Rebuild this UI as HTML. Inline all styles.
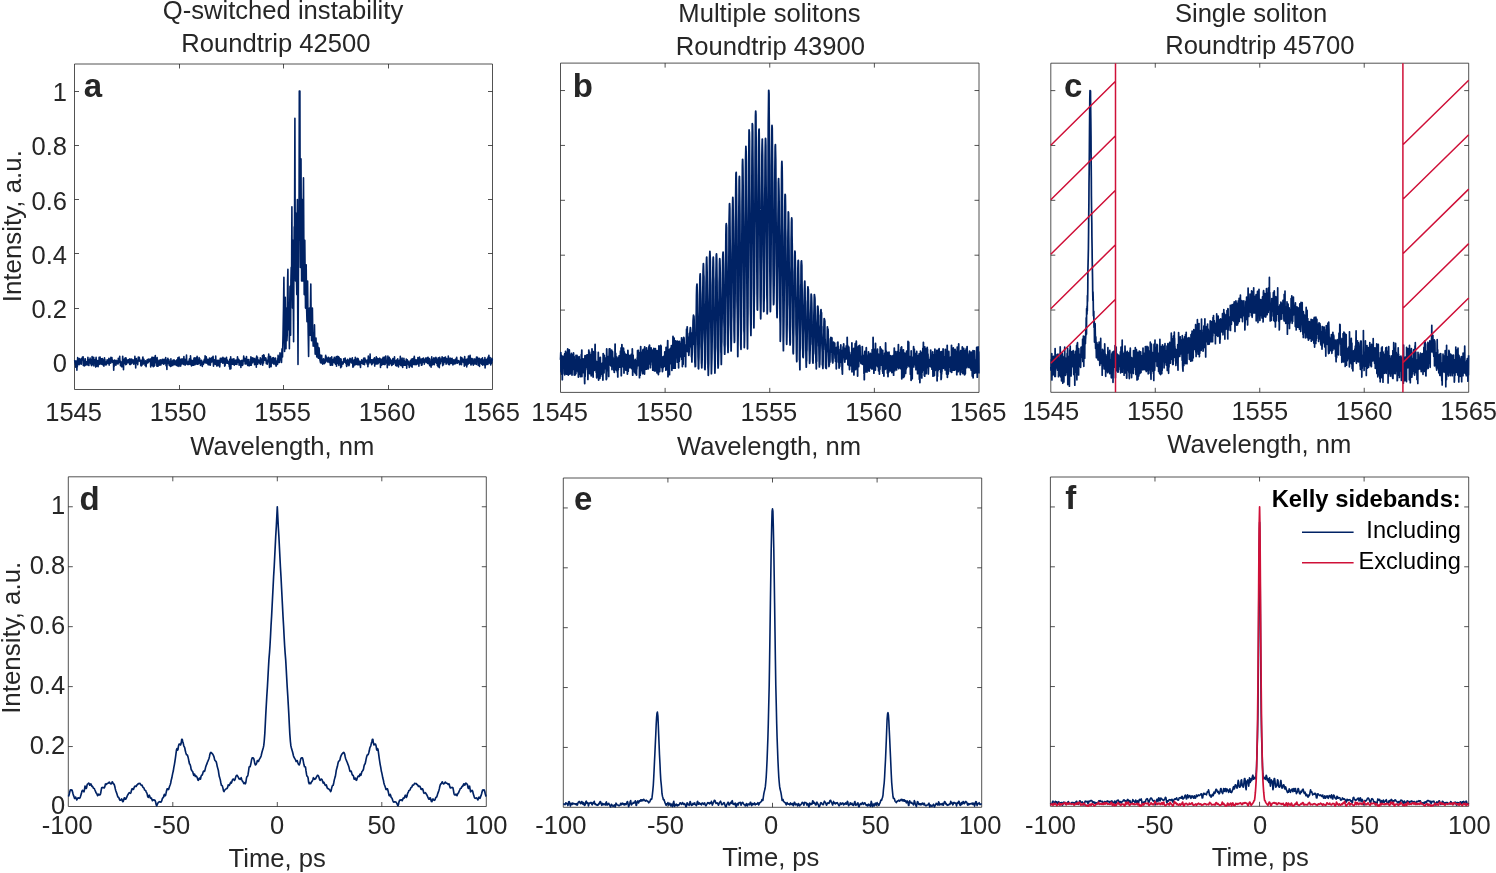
<!DOCTYPE html>
<html lang="en"><head><meta charset="utf-8"><title>Figure</title>
<style>
html,body{margin:0;padding:0;background:#fff;}
body{width:1496px;height:873px;overflow:hidden;}
svg{display:block;font-family:"Liberation Sans",sans-serif;}
</style></head><body>
<svg width="1496" height="873" viewBox="0 0 1496 873">
<rect width="1496" height="873" fill="#ffffff"/>
<path d="M74.5 64.0H492.5V389.5H74.5ZM179.5 389.5v-4.5M179.5 64.0v4.5M283.5 389.5v-4.5M283.5 64.0v4.5M388.5 389.5v-4.5M388.5 64.0v4.5M74.5 362.5h4.5M492.5 362.5h-4.5M74.5 308.5h4.5M492.5 308.5h-4.5M74.5 253.5h4.5M492.5 253.5h-4.5M74.5 199.5h4.5M492.5 199.5h-4.5M74.5 145.5h4.5M492.5 145.5h-4.5M74.5 91.5h4.5M492.5 91.5h-4.5" fill="none" stroke="#262626" stroke-width="0.8"/>
<path d="M560.5 63.1H979.0V392.4H560.5ZM665.12 392.4v-4.5M665.12 63.1v4.5M769.75 392.4v-4.5M769.75 63.1v4.5M874.38 392.4v-4.5M874.38 63.1v4.5M560.5 364.96h4.5M979.0 364.96h-4.5M560.5 310.08h4.5M979.0 310.08h-4.5M560.5 255.19h4.5M979.0 255.19h-4.5M560.5 200.31h4.5M979.0 200.31h-4.5M560.5 145.43h4.5M979.0 145.43h-4.5M560.5 90.54h4.5M979.0 90.54h-4.5" fill="none" stroke="#262626" stroke-width="0.8"/>
<path d="M1050.8 63.2H1468.7V392.3H1050.8ZM1155.28 392.3v-4.5M1155.28 63.2v4.5M1259.75 392.3v-4.5M1259.75 63.2v4.5M1364.22 392.3v-4.5M1364.22 63.2v4.5M1050.8 364.88h4.5M1468.7 364.88h-4.5M1050.8 310.02h4.5M1468.7 310.02h-4.5M1050.8 255.18h4.5M1468.7 255.18h-4.5M1050.8 200.32h4.5M1468.7 200.32h-4.5M1050.8 145.48h4.5M1468.7 145.48h-4.5M1050.8 90.62h4.5M1468.7 90.62h-4.5" fill="none" stroke="#262626" stroke-width="0.8"/>
<path d="M68.3 476.8H486.3V806.5H68.3ZM172.8 806.5v-4.5M172.8 476.8v4.5M277.3 806.5v-4.5M277.3 476.8v4.5M381.8 806.5v-4.5M381.8 476.8v4.5M68.3 746.55h4.5M486.3 746.55h-4.5M68.3 686.61h4.5M486.3 686.61h-4.5M68.3 626.66h4.5M486.3 626.66h-4.5M68.3 566.72h4.5M486.3 566.72h-4.5M68.3 506.77h4.5M486.3 506.77h-4.5" fill="none" stroke="#262626" stroke-width="0.8"/>
<path d="M563.3 478.0H981.7V807.3H563.3ZM667.9 807.3v-4.5M667.9 478.0v4.5M772.5 807.3v-4.5M772.5 478.0v4.5M877.1 807.3v-4.5M877.1 478.0v4.5M563.3 747.43h4.5M981.7 747.43h-4.5M563.3 687.55h4.5M981.7 687.55h-4.5M563.3 627.68h4.5M981.7 627.68h-4.5M563.3 567.81h4.5M981.7 567.81h-4.5M563.3 507.94h4.5M981.7 507.94h-4.5" fill="none" stroke="#262626" stroke-width="0.8"/>
<path d="M1050.4 477.0H1468.7V806.3H1050.4ZM1154.98 806.3v-4.5M1154.98 477.0v4.5M1259.55 806.3v-4.5M1259.55 477.0v4.5M1364.12 806.3v-4.5M1364.12 477.0v4.5M1050.4 746.43h4.5M1468.7 746.43h-4.5M1050.4 686.55h4.5M1468.7 686.55h-4.5M1050.4 626.68h4.5M1468.7 626.68h-4.5M1050.4 566.81h4.5M1468.7 566.81h-4.5M1050.4 506.94h4.5M1468.7 506.94h-4.5" fill="none" stroke="#262626" stroke-width="0.8"/>
<path d="M74.5 361.3L74.7 360.9L74.9 362.1L75.1 360.7L75.3 364.5L75.5 362.9L75.7 367.2L75.9 361.9L76.1 363.4L76.3 364.8L76.5 361.1L76.7 362.2L76.9 370.2L77.1 363.6L77.3 366.9L77.5 361.0L77.7 357.6L77.9 364.4L78.1 362.9L78.3 363.5L78.5 362.0L78.7 361.1L78.9 359.5L79.1 364.6L79.3 358.6L79.5 364.2L79.7 361.3L79.9 359.2L80.1 360.1L80.3 363.8L80.5 363.2L80.7 362.6L80.9 361.5L81.1 358.7L81.3 364.3L81.5 360.1L81.7 359.7L81.9 359.7L82.1 359.9L82.3 357.4L82.5 359.7L82.7 358.9L82.9 359.6L83.1 356.8L83.3 365.4L83.5 358.2L83.7 361.8L83.9 362.0L84.1 363.7L84.3 365.9L84.5 362.6L84.7 363.4L84.9 360.8L85.1 365.4L85.3 358.8L85.5 361.5L85.7 362.7L85.9 363.7L86.1 363.8L86.3 364.6L86.5 363.1L86.7 361.8L86.9 362.1L87.1 364.9L87.3 362.2L87.5 363.6L87.7 361.2L87.9 357.2L88.1 360.1L88.3 362.2L88.5 365.2L88.7 364.8L88.9 365.4L89.1 359.8L89.3 363.1L89.5 361.2L89.7 362.7L89.9 361.1L90.1 358.1L90.3 363.0L90.5 362.3L90.7 363.6L90.9 359.8L91.1 364.4L91.3 364.8L91.5 365.5L91.7 365.6L91.9 361.3L92.1 356.5L92.3 364.6L92.5 360.0L92.7 361.5L92.9 364.5L93.1 362.5L93.3 362.3L93.5 363.3L93.7 357.2L93.9 366.0L94.1 360.8L94.3 360.9L94.5 363.1L94.7 361.5L94.9 359.9L95.1 361.6L95.3 361.1L95.5 360.6L95.7 367.1L95.9 359.1L96.1 357.4L96.3 360.5L96.5 360.5L96.7 366.1L96.9 363.2L97.1 364.8L97.3 364.2L97.5 360.5L97.7 364.4L97.9 362.7L98.1 366.6L98.3 362.4L98.5 361.6L98.7 363.3L98.9 363.3L99.1 357.2L99.3 364.4L99.5 364.1L99.7 363.6L99.9 359.0L100.1 357.0L100.3 361.1L100.5 363.6L100.7 363.0L100.9 359.5L101.1 364.1L101.3 358.7L101.5 358.8L101.7 361.9L101.9 360.6L102.1 360.4L102.3 358.6L102.5 364.7L102.7 359.5L102.9 363.2L103.1 364.1L103.3 362.1L103.5 362.9L103.7 364.7L103.9 366.1L104.1 364.6L104.3 359.0L104.5 357.8L104.7 360.9L104.9 359.6L105.1 363.6L105.3 362.6L105.5 361.8L105.7 364.9L105.9 364.7L106.1 362.2L106.3 363.1L106.5 364.8L106.7 361.4L106.9 362.8L107.1 359.8L107.3 362.1L107.5 362.7L107.7 361.6L107.9 362.2L108.1 363.3L108.3 362.5L108.5 359.8L108.7 359.9L108.9 358.4L109.1 365.1L109.3 362.1L109.5 362.0L109.7 360.6L109.9 361.9L110.1 362.0L110.3 358.9L110.5 360.2L110.7 363.2L110.9 357.4L111.1 358.0L111.3 361.6L111.5 358.3L111.7 361.9L111.9 357.6L112.1 360.7L112.3 362.1L112.5 361.3L112.7 362.4L112.9 360.4L113.1 360.7L113.3 361.2L113.5 362.9L113.7 370.3L113.9 361.9L114.1 366.7L114.3 362.0L114.5 360.1L114.7 362.3L114.9 363.9L115.1 363.5L115.3 363.5L115.5 364.4L115.7 364.5L115.9 365.3L116.1 360.4L116.3 363.2L116.5 360.9L116.7 363.7L116.9 362.8L117.1 363.3L117.3 361.7L117.5 360.7L117.7 361.9L117.9 363.9L118.1 364.0L118.3 358.2L118.5 362.6L118.7 362.5L118.9 358.4L119.1 359.2L119.3 360.4L119.5 362.5L119.7 356.2L119.9 360.8L120.1 360.6L120.3 362.5L120.5 365.6L120.7 365.6L120.9 361.8L121.1 362.1L121.3 363.7L121.5 366.0L121.7 366.7L121.9 364.1L122.1 366.7L122.3 361.2L122.5 360.4L122.7 356.4L122.9 360.6L123.1 363.7L123.3 364.1L123.5 369.8L123.7 363.0L123.9 361.9L124.1 359.2L124.3 360.0L124.5 360.1L124.7 360.9L124.9 359.9L125.1 358.1L125.3 363.9L125.5 362.5L125.7 364.7L125.9 357.8L126.1 358.5L126.3 359.8L126.5 364.3L126.7 361.2L126.9 362.2L127.1 361.5L127.3 362.2L127.5 360.5L127.7 362.7L127.9 359.8L128.1 361.2L128.3 362.4L128.5 361.9L128.7 362.6L128.9 359.6L129.1 362.0L129.3 360.5L129.5 362.0L129.7 364.4L129.9 358.8L130.1 363.3L130.3 359.2L130.5 359.8L130.7 364.5L130.9 362.9L131.1 361.9L131.3 362.6L131.5 363.4L131.7 359.0L131.9 361.3L132.1 359.9L132.3 361.9L132.5 360.3L132.7 362.8L132.9 361.2L133.1 359.9L133.3 361.2L133.5 362.5L133.7 364.1L133.9 361.3L134.1 361.1L134.3 362.6L134.5 363.8L134.7 360.8L134.9 356.4L135.1 362.8L135.3 361.3L135.5 361.2L135.7 367.9L135.9 361.6L136.1 363.4L136.3 358.5L136.5 362.2L136.7 363.3L136.9 361.9L137.1 361.0L137.3 362.7L137.5 361.6L137.7 364.7L137.9 362.1L138.1 359.8L138.3 357.1L138.5 360.0L138.7 360.9L138.9 358.7L139.1 358.9L139.3 357.3L139.5 358.6L139.7 361.2L139.9 360.3L140.1 360.4L140.3 360.1L140.5 360.3L140.7 362.7L140.9 365.8L141.1 362.6L141.3 365.9L141.5 361.2L141.7 361.5L141.9 365.4L142.1 360.1L142.3 359.6L142.5 361.4L142.7 357.7L142.9 357.1L143.1 364.1L143.3 358.9L143.5 360.3L143.7 360.3L143.9 359.2L144.1 363.0L144.3 362.8L144.5 363.5L144.7 363.5L144.9 362.2L145.1 365.4L145.3 364.6L145.5 360.9L145.7 362.4L145.9 361.4L146.1 366.6L146.3 364.0L146.5 363.4L146.7 362.0L146.9 363.4L147.1 359.8L147.3 362.1L147.5 361.8L147.7 361.8L147.9 360.2L148.1 362.8L148.3 359.1L148.5 360.6L148.7 361.3L148.9 361.6L149.1 360.5L149.3 359.3L149.5 359.5L149.7 360.9L149.9 359.8L150.1 361.6L150.3 359.1L150.5 362.1L150.7 366.9L150.9 359.1L151.1 362.0L151.3 364.9L151.5 362.6L151.7 364.2L151.9 357.2L152.1 360.9L152.3 365.6L152.5 360.6L152.7 362.7L152.9 357.3L153.1 364.1L153.3 366.8L153.5 361.3L153.7 362.2L153.9 362.2L154.1 366.1L154.3 360.1L154.5 357.2L154.7 365.4L154.9 358.3L155.1 362.3L155.3 355.6L155.5 360.1L155.7 361.6L155.9 358.8L156.1 360.2L156.3 363.0L156.5 360.1L156.7 363.1L156.9 366.2L157.1 357.5L157.3 363.1L157.5 363.9L157.7 361.8L157.9 366.3L158.1 365.9L158.3 364.0L158.5 364.1L158.7 362.8L158.9 360.3L159.1 364.0L159.3 361.7L159.5 361.3L159.7 365.1L159.9 361.9L160.1 364.5L160.3 359.7L160.5 361.0L160.7 361.9L160.9 364.9L161.1 361.5L161.3 363.5L161.5 360.0L161.7 361.9L161.9 363.5L162.1 359.6L162.3 360.1L162.5 363.3L162.7 359.3L162.9 362.8L163.1 363.0L163.3 362.1L163.5 364.3L163.7 363.7L163.9 363.2L164.1 359.4L164.3 359.6L164.5 363.7L164.7 359.5L164.9 363.3L165.1 362.4L165.3 361.2L165.5 362.5L165.7 357.6L165.9 362.5L166.1 365.8L166.3 359.9L166.5 363.8L166.7 363.4L166.9 369.5L167.1 360.2L167.3 360.4L167.5 360.4L167.7 359.9L167.9 358.2L168.1 362.1L168.3 359.9L168.5 363.8L168.7 362.9L168.9 359.7L169.1 361.3L169.3 365.4L169.5 361.6L169.7 363.0L169.9 364.5L170.1 361.7L170.3 363.7L170.5 366.5L170.7 365.4L170.9 358.8L171.1 366.3L171.3 362.3L171.5 361.3L171.7 361.3L171.9 365.5L172.1 363.5L172.3 362.4L172.5 360.8L172.7 364.2L172.9 365.4L173.1 360.3L173.3 360.0L173.5 361.6L173.7 363.8L173.9 361.3L174.1 361.9L174.3 360.1L174.5 364.8L174.7 361.6L174.9 362.1L175.1 364.3L175.3 361.2L175.5 361.6L175.7 362.6L175.9 360.9L176.1 365.1L176.3 362.1L176.5 361.1L176.7 361.5L176.9 359.8L177.1 365.1L177.3 365.9L177.5 362.0L177.7 361.5L177.9 357.8L178.1 361.3L178.3 364.8L178.5 361.1L178.7 364.9L178.9 366.5L179.1 357.1L179.3 362.4L179.5 361.5L179.7 361.8L179.9 359.0L180.1 362.4L180.3 360.2L180.5 365.4L180.7 366.1L180.9 359.5L181.1 359.4L181.3 361.5L181.5 362.1L181.7 362.1L181.9 364.0L182.1 358.8L182.3 360.7L182.5 361.0L182.7 361.2L182.9 359.6L183.1 360.7L183.3 360.1L183.5 364.4L183.7 360.4L183.9 356.5L184.1 362.7L184.3 361.7L184.5 359.3L184.7 359.1L184.9 359.9L185.1 365.1L185.3 360.3L185.5 364.3L185.7 363.7L185.9 360.7L186.1 362.8L186.3 360.4L186.5 355.0L186.7 360.5L186.9 360.6L187.1 364.3L187.3 363.6L187.5 364.5L187.7 363.1L187.9 364.2L188.1 363.1L188.3 361.9L188.5 363.6L188.7 364.5L188.9 364.3L189.1 360.1L189.3 361.0L189.5 358.7L189.7 358.7L189.9 361.9L190.1 359.5L190.3 364.4L190.5 355.9L190.7 358.4L190.9 361.7L191.1 364.0L191.3 360.5L191.5 365.9L191.7 363.6L191.9 360.3L192.1 362.1L192.3 363.6L192.5 360.5L192.7 365.2L192.9 362.3L193.1 364.2L193.3 365.0L193.5 361.9L193.7 365.2L193.9 358.4L194.1 364.0L194.3 357.9L194.5 364.8L194.7 360.6L194.9 364.5L195.1 364.6L195.3 360.9L195.5 359.4L195.7 363.7L195.9 357.9L196.1 362.3L196.3 360.0L196.5 359.4L196.7 358.8L196.9 364.2L197.1 356.3L197.3 358.8L197.5 361.2L197.7 362.6L197.9 364.3L198.1 363.6L198.3 359.3L198.5 361.5L198.7 363.5L198.9 362.3L199.1 357.6L199.3 362.2L199.5 362.9L199.7 358.6L199.9 360.7L200.1 361.7L200.3 363.2L200.5 365.4L200.7 364.4L200.9 362.8L201.1 362.2L201.3 360.8L201.5 360.3L201.7 361.0L201.9 361.0L202.1 363.9L202.3 366.5L202.5 362.8L202.7 363.9L202.9 363.2L203.1 362.2L203.3 364.4L203.5 363.9L203.7 361.4L203.9 360.7L204.1 362.3L204.3 359.4L204.5 360.9L204.7 362.6L204.9 360.1L205.1 355.9L205.3 361.9L205.5 357.8L205.7 357.6L205.9 357.6L206.1 363.2L206.3 356.9L206.5 361.6L206.7 362.6L206.9 362.8L207.1 361.0L207.3 362.3L207.5 362.8L207.7 359.4L207.9 364.0L208.1 364.6L208.3 360.3L208.5 360.5L208.7 359.6L208.9 364.6L209.1 359.6L209.3 361.0L209.5 358.0L209.7 364.9L209.9 361.4L210.1 362.4L210.3 365.3L210.5 363.1L210.7 358.6L210.9 362.1L211.1 362.4L211.3 358.6L211.5 358.1L211.7 357.9L211.9 361.8L212.1 360.0L212.3 357.4L212.5 361.3L212.7 361.5L212.9 357.9L213.1 356.4L213.3 362.8L213.5 366.3L213.7 363.8L213.9 363.0L214.1 361.2L214.3 359.7L214.5 361.7L214.7 363.3L214.9 361.6L215.1 364.3L215.3 362.3L215.5 363.8L215.7 356.1L215.9 360.4L216.1 364.1L216.3 364.5L216.5 363.1L216.7 365.9L216.9 363.8L217.1 363.9L217.3 360.2L217.5 363.3L217.7 364.3L217.9 365.7L218.1 365.4L218.3 363.0L218.5 363.4L218.7 360.4L218.9 364.5L219.1 360.6L219.3 362.3L219.5 362.7L219.7 367.0L219.9 365.1L220.1 360.1L220.3 358.3L220.5 360.8L220.7 359.3L220.9 361.8L221.1 361.5L221.3 362.1L221.5 358.3L221.7 359.8L221.9 361.2L222.1 361.5L222.3 359.6L222.5 360.3L222.7 363.1L222.9 357.3L223.1 360.8L223.3 361.4L223.5 358.0L223.7 359.0L223.9 361.5L224.1 359.9L224.3 363.6L224.5 362.5L224.7 366.2L224.9 358.2L225.1 365.4L225.3 359.6L225.5 363.1L225.7 363.5L225.9 361.8L226.1 360.8L226.3 360.1L226.5 357.4L226.7 360.7L226.9 359.6L227.1 363.1L227.3 360.1L227.5 361.5L227.7 363.1L227.9 362.4L228.1 362.4L228.3 361.9L228.5 361.5L228.7 363.7L228.9 364.3L229.1 361.0L229.3 366.7L229.5 364.2L229.7 359.2L229.9 369.1L230.1 364.4L230.3 361.3L230.5 366.6L230.7 356.8L230.9 368.7L231.1 359.4L231.3 359.1L231.5 360.4L231.7 362.9L231.9 361.4L232.1 364.1L232.3 360.0L232.5 364.3L232.7 362.1L232.9 359.1L233.1 363.8L233.3 362.1L233.5 360.9L233.7 364.4L233.9 358.7L234.1 360.8L234.3 365.2L234.5 362.0L234.7 363.9L234.9 363.8L235.1 362.2L235.3 364.1L235.5 360.3L235.7 364.1L235.9 360.2L236.1 362.4L236.3 360.2L236.5 363.3L236.7 363.1L236.9 364.5L237.1 360.4L237.3 359.5L237.5 356.8L237.7 358.7L237.9 361.2L238.1 362.4L238.3 361.3L238.5 362.5L238.7 359.3L238.9 360.7L239.1 365.1L239.3 364.9L239.5 360.3L239.7 362.8L239.9 364.1L240.1 360.7L240.3 364.3L240.5 363.9L240.7 364.1L240.9 367.4L241.1 360.7L241.3 365.3L241.5 363.7L241.7 363.9L241.9 360.3L242.1 362.0L242.3 361.6L242.5 365.4L242.7 361.6L242.9 364.6L243.1 360.3L243.3 360.1L243.5 360.8L243.7 356.0L243.9 359.4L244.1 359.3L244.3 360.3L244.5 361.2L244.7 358.6L244.9 358.4L245.1 364.0L245.3 358.7L245.5 359.9L245.7 358.9L245.9 360.0L246.1 363.9L246.3 363.6L246.5 356.5L246.7 360.0L246.9 363.7L247.1 359.5L247.3 361.0L247.5 364.4L247.7 365.4L247.9 363.8L248.1 359.6L248.3 360.5L248.5 361.1L248.7 360.0L248.9 359.5L249.1 365.9L249.3 361.9L249.5 363.3L249.7 364.4L249.9 362.9L250.1 362.0L250.3 362.4L250.5 365.1L250.7 362.8L250.9 356.9L251.1 363.8L251.3 365.1L251.5 360.4L251.7 359.4L251.9 359.5L252.1 363.0L252.3 357.9L252.5 361.9L252.7 362.7L252.9 361.4L253.1 360.2L253.3 358.4L253.5 358.7L253.7 360.3L253.9 358.2L254.1 360.3L254.3 358.6L254.5 364.1L254.7 364.6L254.9 359.2L255.1 364.3L255.3 361.9L255.5 361.5L255.7 362.4L255.9 362.4L256.1 358.1L256.3 367.2L256.5 359.4L256.7 356.1L256.9 361.4L257.1 361.5L257.3 359.8L257.5 357.3L257.7 364.3L257.9 361.3L258.1 362.0L258.3 360.3L258.5 361.2L258.7 360.0L258.9 362.4L259.1 361.3L259.3 362.9L259.5 362.8L259.7 361.6L259.9 361.6L260.1 364.0L260.3 357.7L260.5 361.6L260.7 364.5L260.9 358.8L261.1 363.1L261.3 360.1L261.5 361.2L261.7 360.5L261.9 360.5L262.1 362.0L262.3 360.4L262.5 355.6L262.7 365.2L262.9 359.8L263.1 358.9L263.3 362.3L263.5 363.0L263.7 354.9L263.9 360.8L264.1 355.2L264.3 358.9L264.5 360.1L264.7 359.3L264.9 359.1L265.1 357.9L265.3 359.7L265.5 360.5L265.7 360.5L265.9 358.0L266.1 359.3L266.3 363.7L266.5 363.0L266.7 360.9L266.9 363.2L267.1 362.8L267.3 364.2L267.5 362.7L267.7 361.1L267.9 359.7L268.1 361.8L268.3 356.9L268.5 361.7L268.7 354.0L268.9 358.9L269.1 359.9L269.3 362.1L269.5 367.4L269.7 361.1L269.9 360.3L270.1 356.3L270.3 364.0L270.5 356.5L270.7 361.5L270.9 359.3L271.1 366.8L271.3 360.5L271.5 361.6L271.7 359.1L271.9 360.3L272.1 363.0L272.3 358.1L272.5 358.5L272.7 358.7L272.9 357.8L273.1 357.7L273.3 360.4L273.5 363.7L273.7 364.0L273.9 358.0L274.1 359.7L274.3 361.4L274.5 363.0L274.7 362.2L274.9 362.5L275.1 363.5L275.3 364.5L275.5 358.0L275.7 362.6L275.9 364.6L276.1 366.2L276.3 364.8L276.5 361.4L276.7 361.1L276.9 363.2L277.1 362.4L277.3 362.9L277.5 364.5L277.7 358.7L277.9 360.6L278.1 355.4L278.3 362.6L278.5 361.0L278.7 358.4L278.9 360.9L279.0 356.9L279.5 362.4L280.0 352.9L280.5 359.7L281.0 354.2L281.5 362.4L282.0 348.8L282.5 356.9L283.0 335.2L283.5 308.1L283.9 277.2L284.3 335.2L284.6 351.5L285.0 308.1L285.3 297.3L285.7 335.2L286.0 348.8L286.3 313.6L286.6 308.1L286.9 340.7L287.2 335.2L287.6 281.0L287.9 269.3L288.3 321.7L288.6 329.8L289.0 308.1L289.4 348.8L289.7 308.1L290.0 286.4L290.3 321.7L290.6 335.2L290.9 281.0L291.2 267.4L291.5 294.6L291.9 206.7L292.2 281.0L292.5 308.1L292.8 253.9L293.0 240.3L293.3 308.1L293.6 341.8L293.9 267.4L294.2 226.8L294.5 240.3L294.9 118.2L295.2 240.3L295.5 281.0L295.9 226.8L296.2 213.2L296.5 281.0L296.8 294.6L297.1 226.8L297.4 199.6L297.7 308.1L298.0 364.5L298.4 281.0L298.7 226.8L299.0 240.3L299.3 91.1L299.9 91.1L300.2 226.8L300.4 267.4L300.7 199.6L301.0 158.9L301.3 226.8L301.6 281.0L301.9 226.8L302.2 199.6L302.5 253.9L302.8 281.0L303.1 226.8L303.5 177.9L303.9 253.9L304.2 294.6L304.5 253.9L304.8 240.3L305.2 281.0L305.5 308.1L305.9 281.0L306.2 264.7L306.6 308.1L307.0 321.7L307.3 294.6L307.6 281.0L308.0 321.7L308.6 356.4L309.0 321.7L309.4 308.1L309.8 329.8L310.1 335.2L310.5 302.7L310.8 284.0L311.2 321.7L311.6 340.7L312.0 319.0L312.4 308.1L312.8 335.2L313.2 346.1L313.5 332.5L313.9 335.2L314.2 346.1L314.5 324.9L314.8 343.4L315.2 354.2L315.6 340.7L316.0 338.0L316.4 351.5L316.8 356.9L317.2 343.4L317.6 343.4L318.0 356.9L318.4 358.3L318.8 347.5L319.2 348.8L319.6 358.3L320.0 359.7L320.1 361.3L320.3 355.0L320.5 362.7L320.7 360.5L320.9 358.4L321.1 363.0L321.3 360.8L321.5 359.8L321.7 355.3L321.9 363.0L322.1 361.2L322.3 359.7L322.5 361.1L322.7 364.1L322.9 360.4L323.1 361.1L323.3 360.3L323.5 358.7L323.7 358.9L323.9 360.2L324.1 360.4L324.3 363.6L324.5 361.4L324.7 360.5L324.9 361.8L325.1 360.6L325.3 362.6L325.5 357.0L325.7 355.4L325.9 361.1L326.1 359.2L326.3 360.5L326.5 357.0L326.7 358.8L326.9 359.6L327.1 360.3L327.3 359.5L327.5 362.0L327.7 358.2L327.9 361.4L328.1 358.6L328.3 359.6L328.5 357.4L328.7 360.1L328.9 357.8L329.1 362.4L329.3 359.0L329.5 361.0L329.7 360.1L329.9 360.4L330.1 358.4L330.3 365.2L330.5 359.8L330.7 364.0L330.9 357.8L331.1 365.1L331.3 362.8L331.5 364.4L331.7 356.8L331.9 363.6L332.1 360.4L332.3 362.0L332.5 365.1L332.7 361.8L332.9 359.6L333.1 361.7L333.3 359.2L333.5 362.2L333.7 361.4L333.9 362.4L334.1 360.7L334.3 357.2L334.5 360.8L334.7 361.2L334.9 363.1L335.1 363.4L335.3 358.2L335.5 364.1L335.7 363.5L335.9 361.6L336.1 362.2L336.3 356.6L336.5 366.3L336.7 359.9L336.9 358.9L337.1 362.9L337.3 361.7L337.5 359.1L337.7 356.3L337.9 362.2L338.1 363.7L338.3 357.9L338.5 356.7L338.7 361.0L338.9 365.5L339.1 357.2L339.3 361.2L339.5 358.4L339.7 361.4L339.9 362.4L340.1 362.9L340.3 358.8L340.5 359.2L340.7 367.7L340.9 365.2L341.1 359.1L341.3 364.2L341.5 366.6L341.7 363.4L341.9 363.6L342.1 363.5L342.3 364.2L342.5 363.5L342.7 363.6L342.9 361.6L343.1 364.0L343.3 362.7L343.5 362.2L343.7 358.8L343.9 361.0L344.1 362.1L344.3 360.7L344.5 361.1L344.7 359.6L344.9 361.0L345.1 358.0L345.3 359.1L345.5 362.3L345.7 363.2L345.9 360.2L346.1 361.1L346.3 362.5L346.5 365.6L346.7 366.4L346.9 361.4L347.1 360.3L347.3 360.1L347.5 364.8L347.7 359.3L347.9 362.8L348.1 360.5L348.3 360.3L348.5 363.0L348.7 362.4L348.9 365.7L349.1 363.0L349.3 364.9L349.5 359.7L349.7 360.5L349.9 358.4L350.1 359.7L350.3 361.9L350.5 359.6L350.7 361.3L350.9 359.0L351.1 359.8L351.3 363.0L351.5 360.9L351.7 361.0L351.9 362.1L352.1 359.5L352.3 357.8L352.5 362.7L352.7 362.7L352.9 367.1L353.1 362.2L353.3 362.8L353.5 366.7L353.7 360.9L353.9 360.1L354.1 363.1L354.3 362.2L354.5 363.5L354.7 359.6L354.9 365.0L355.1 362.4L355.3 357.3L355.5 361.7L355.7 360.8L355.9 362.2L356.1 364.5L356.3 361.8L356.5 360.6L356.7 363.8L356.9 360.5L357.1 358.3L357.3 358.6L357.5 364.6L357.7 363.2L357.9 364.7L358.1 358.6L358.3 359.9L358.5 359.8L358.7 363.7L358.9 364.6L359.1 362.0L359.3 362.2L359.5 364.6L359.7 362.4L359.9 361.4L360.1 362.3L360.3 365.2L360.5 367.5L360.7 363.0L360.9 361.9L361.1 362.6L361.3 362.8L361.5 363.2L361.7 359.8L361.9 361.4L362.1 360.9L362.3 363.3L362.5 362.5L362.7 360.7L362.9 363.5L363.1 364.2L363.3 362.1L363.5 358.7L363.7 361.0L363.9 358.1L364.1 361.8L364.3 362.1L364.5 364.6L364.7 362.7L364.9 358.1L365.1 360.6L365.3 359.7L365.5 359.8L365.7 361.5L365.9 362.0L366.1 361.4L366.3 360.2L366.5 360.8L366.7 360.8L366.9 361.7L367.1 363.9L367.3 362.8L367.5 364.4L367.7 359.8L367.9 366.8L368.1 362.3L368.3 356.1L368.5 362.2L368.7 363.9L368.9 361.2L369.1 358.1L369.3 361.4L369.5 359.6L369.7 360.9L369.9 362.0L370.1 354.1L370.3 361.3L370.5 362.8L370.7 362.8L370.9 360.9L371.1 360.8L371.3 359.9L371.5 361.2L371.7 364.7L371.9 359.9L372.1 361.5L372.3 361.1L372.5 363.6L372.7 361.2L372.9 361.3L373.1 359.5L373.3 362.7L373.5 359.1L373.7 359.0L373.9 362.0L374.1 361.0L374.3 361.7L374.5 357.9L374.7 366.1L374.9 361.4L375.1 364.6L375.3 362.0L375.5 359.2L375.7 362.7L375.9 361.0L376.1 363.3L376.3 356.8L376.5 359.1L376.7 358.6L376.9 364.1L377.1 363.5L377.3 358.4L377.5 361.2L377.7 361.3L377.9 359.9L378.1 363.6L378.3 358.9L378.5 360.6L378.7 359.6L378.9 362.3L379.1 359.6L379.3 362.4L379.5 358.6L379.7 358.2L379.9 358.8L380.1 359.7L380.3 359.6L380.5 367.4L380.7 359.3L380.9 362.0L381.1 361.3L381.3 362.4L381.5 365.1L381.7 363.3L381.9 360.7L382.1 359.0L382.3 363.8L382.5 364.4L382.7 359.0L382.9 364.3L383.1 357.3L383.3 361.8L383.5 363.8L383.7 359.3L383.9 357.5L384.1 364.5L384.3 357.4L384.5 361.5L384.7 357.3L384.9 361.6L385.1 364.4L385.3 359.6L385.5 358.7L385.7 356.0L385.9 357.0L386.1 359.5L386.3 361.8L386.5 362.6L386.7 362.2L386.9 363.6L387.1 362.4L387.3 367.8L387.5 361.5L387.7 362.0L387.9 356.0L388.1 360.0L388.3 362.7L388.5 360.1L388.7 364.1L388.9 362.4L389.1 365.2L389.3 357.4L389.5 359.3L389.7 363.4L389.9 360.9L390.1 358.7L390.3 360.0L390.5 360.5L390.7 363.7L390.9 363.5L391.1 362.1L391.3 360.4L391.5 364.7L391.7 365.5L391.9 360.3L392.1 365.1L392.3 360.4L392.5 362.2L392.7 360.6L392.9 358.5L393.1 360.8L393.3 360.4L393.5 364.2L393.7 363.7L393.9 360.6L394.1 358.5L394.3 358.9L394.5 356.9L394.7 361.7L394.9 362.1L395.1 360.4L395.3 362.8L395.5 363.1L395.7 365.4L395.9 360.7L396.1 365.4L396.3 361.6L396.5 366.0L396.7 360.0L396.9 364.7L397.1 360.2L397.3 365.6L397.5 362.8L397.7 358.9L397.9 363.4L398.1 361.4L398.3 362.6L398.5 366.9L398.7 360.9L398.9 360.6L399.1 364.2L399.3 360.4L399.5 363.6L399.7 364.1L399.9 361.8L400.1 363.4L400.3 356.4L400.5 365.2L400.7 359.8L400.9 359.1L401.1 365.8L401.3 365.0L401.5 359.6L401.7 361.9L401.9 359.9L402.1 358.1L402.3 361.7L402.5 363.4L402.7 367.4L402.9 360.8L403.1 363.6L403.3 361.0L403.5 361.4L403.7 365.3L403.9 358.3L404.1 359.9L404.3 360.6L404.5 365.3L404.7 363.5L404.9 363.8L405.1 363.5L405.3 365.1L405.5 361.4L405.7 361.8L405.9 361.3L406.1 363.2L406.3 359.0L406.5 361.5L406.7 368.2L406.9 363.4L407.1 362.1L407.3 359.8L407.5 362.8L407.7 362.9L407.9 364.0L408.1 361.1L408.3 363.9L408.5 364.4L408.7 364.9L408.9 362.1L409.1 364.8L409.3 367.5L409.5 362.2L409.7 365.3L409.9 362.8L410.1 362.7L410.3 360.7L410.5 361.0L410.7 364.6L410.9 363.6L411.1 366.1L411.3 359.2L411.5 361.9L411.7 359.6L411.9 363.4L412.1 367.2L412.3 358.7L412.5 361.8L412.7 361.5L412.9 361.4L413.1 359.8L413.3 359.8L413.5 364.5L413.7 358.1L413.9 361.6L414.1 361.4L414.3 356.3L414.5 358.2L414.7 361.2L414.9 364.8L415.1 360.3L415.3 359.7L415.5 361.3L415.7 364.2L415.9 363.4L416.1 364.7L416.3 361.5L416.5 360.3L416.7 359.9L416.9 364.1L417.1 361.9L417.3 361.2L417.5 363.7L417.7 362.9L417.9 357.6L418.1 362.0L418.3 360.3L418.5 363.3L418.7 362.1L418.9 366.1L419.1 362.1L419.3 359.2L419.5 357.0L419.7 359.0L419.9 360.1L420.1 361.5L420.3 362.9L420.5 361.8L420.7 359.9L420.9 363.1L421.1 359.1L421.3 363.5L421.5 365.3L421.7 363.6L421.9 365.1L422.1 364.4L422.3 358.7L422.5 361.8L422.7 360.8L422.9 358.6L423.1 358.3L423.3 362.3L423.5 358.0L423.7 360.1L423.9 360.9L424.1 359.9L424.3 364.1L424.5 362.6L424.7 361.1L424.9 359.5L425.1 361.8L425.3 361.4L425.5 359.0L425.7 358.1L425.9 359.7L426.1 358.6L426.3 362.5L426.5 362.3L426.7 360.8L426.9 362.2L427.1 362.6L427.3 357.5L427.5 361.8L427.7 363.5L427.9 360.2L428.1 357.2L428.3 361.3L428.5 358.8L428.7 362.9L428.9 363.2L429.1 364.0L429.3 362.9L429.5 358.6L429.7 365.7L429.9 359.5L430.1 365.7L430.3 364.0L430.5 361.6L430.7 362.1L430.9 362.8L431.1 367.2L431.3 362.4L431.5 365.4L431.7 356.9L431.9 363.1L432.1 361.9L432.3 364.8L432.5 363.0L432.7 364.7L432.9 359.2L433.1 361.9L433.3 359.9L433.5 362.6L433.7 362.0L433.9 357.7L434.1 362.9L434.3 364.7L434.5 359.5L434.7 363.1L434.9 361.4L435.1 358.3L435.3 362.3L435.5 358.4L435.7 362.1L435.9 357.2L436.1 357.7L436.3 362.1L436.5 361.7L436.7 363.3L436.9 361.2L437.1 359.2L437.3 365.4L437.5 360.1L437.7 365.4L437.9 364.5L438.1 366.7L438.3 357.8L438.5 362.6L438.7 362.3L438.9 364.4L439.1 360.4L439.3 367.6L439.5 362.6L439.7 357.4L439.9 363.2L440.1 362.1L440.3 360.4L440.5 363.6L440.7 361.4L440.9 359.0L441.1 360.6L441.3 359.9L441.5 361.4L441.7 359.6L441.9 360.1L442.1 356.7L442.3 358.4L442.5 360.5L442.7 365.6L442.9 358.3L443.1 358.2L443.3 362.1L443.5 364.6L443.7 362.6L443.9 357.9L444.1 362.6L444.3 361.3L444.5 359.9L444.7 357.6L444.9 360.6L445.1 360.9L445.3 362.0L445.5 357.0L445.7 358.4L445.9 361.1L446.1 364.1L446.3 362.7L446.5 359.5L446.7 362.5L446.9 358.7L447.1 360.0L447.3 360.2L447.5 359.5L447.7 359.9L447.9 363.2L448.1 362.1L448.3 356.1L448.5 364.5L448.7 362.9L448.9 359.3L449.1 362.2L449.3 363.6L449.5 364.7L449.7 360.3L449.9 359.0L450.1 358.0L450.3 361.0L450.5 358.5L450.7 363.2L450.9 360.4L451.1 362.4L451.3 360.4L451.5 359.2L451.7 358.6L451.9 363.5L452.1 358.4L452.3 362.6L452.5 363.9L452.7 362.0L452.9 365.0L453.1 361.5L453.3 360.8L453.5 361.8L453.7 359.9L453.9 361.7L454.1 360.8L454.3 363.9L454.5 360.3L454.7 362.1L454.9 361.1L455.1 360.1L455.3 359.4L455.5 363.6L455.7 363.5L455.9 360.6L456.1 358.9L456.3 359.3L456.5 358.1L456.7 357.3L456.9 359.3L457.1 360.7L457.3 363.1L457.5 363.1L457.7 362.2L457.9 360.7L458.1 361.0L458.3 361.7L458.5 362.2L458.7 360.6L458.9 361.6L459.1 361.5L459.3 361.6L459.5 363.6L459.7 364.7L459.9 361.2L460.1 361.4L460.3 362.8L460.5 363.2L460.7 357.0L460.9 364.0L461.1 362.7L461.3 361.6L461.5 364.8L461.7 361.8L461.9 357.9L462.1 359.8L462.3 360.4L462.5 360.4L462.7 361.4L462.9 359.3L463.1 361.8L463.3 362.3L463.5 361.1L463.7 359.3L463.9 360.6L464.1 359.9L464.3 366.3L464.5 359.0L464.7 356.6L464.9 359.1L465.1 363.1L465.3 364.5L465.5 362.0L465.7 365.0L465.9 361.0L466.1 363.8L466.3 360.3L466.5 359.2L466.7 366.9L466.9 361.3L467.1 363.4L467.3 364.8L467.5 362.7L467.7 361.6L467.9 358.6L468.1 364.3L468.3 358.3L468.5 356.0L468.7 359.2L468.9 359.3L469.1 360.6L469.3 363.3L469.5 359.4L469.7 359.9L469.9 359.2L470.1 355.2L470.3 359.6L470.5 360.5L470.7 358.1L470.9 365.0L471.1 364.7L471.3 363.1L471.5 363.9L471.7 360.9L471.9 363.3L472.1 358.6L472.3 359.2L472.5 361.0L472.7 363.7L472.9 361.3L473.1 360.9L473.3 365.1L473.5 361.8L473.7 360.9L473.9 361.9L474.1 358.7L474.3 359.4L474.5 364.0L474.7 361.7L474.9 363.7L475.1 360.3L475.3 363.5L475.5 359.2L475.7 360.3L475.9 358.9L476.1 361.4L476.3 364.4L476.5 357.0L476.7 361.5L476.9 357.9L477.1 360.2L477.3 359.7L477.5 357.2L477.7 360.8L477.9 358.5L478.1 365.3L478.3 360.0L478.5 362.7L478.7 362.5L478.9 362.2L479.1 361.4L479.3 358.3L479.5 366.4L479.7 362.0L479.9 363.7L480.1 359.3L480.3 362.9L480.5 360.7L480.7 362.5L480.9 359.9L481.1 359.0L481.3 362.1L481.5 360.9L481.7 364.1L481.9 360.0L482.1 358.6L482.3 361.8L482.5 357.9L482.7 365.2L482.9 364.7L483.1 363.8L483.3 361.8L483.5 360.8L483.7 361.3L483.9 361.5L484.1 359.9L484.3 362.9L484.5 364.9L484.7 365.1L484.9 357.5L485.1 368.0L485.3 363.0L485.5 359.3L485.7 361.6L485.9 364.6L486.1 362.7L486.3 360.6L486.5 359.7L486.7 364.4L486.9 360.4L487.1 361.4L487.3 359.2L487.5 358.3L487.7 362.1L487.9 364.5L488.1 360.1L488.3 356.7L488.5 359.2L488.7 360.2L488.9 355.2L489.1 363.1L489.3 358.7L489.5 362.2L489.7 360.9L489.9 360.9L490.1 357.6L490.3 363.3L490.5 362.4L490.7 364.9L490.9 360.0L491.1 362.1L491.3 360.0L491.5 363.4L491.7 361.7L491.9 358.4L492.1 361.1L492.3 359.2L492.5 359.5" fill="none" stroke="#002264" stroke-width="1.6" stroke-linejoin="round"/>
<path d="M560.5 359.9L560.7 356.0L560.8 352.6L561.0 371.6L561.1 367.5L561.3 372.3L561.5 358.5L561.6 374.1L561.8 355.6L561.9 357.2L562.1 360.4L562.3 379.7L562.4 368.6L562.6 358.0L562.7 373.8L562.9 365.0L563.1 363.9L563.2 356.6L563.4 360.9L563.5 360.9L563.7 366.0L563.9 362.6L564.0 363.5L564.2 357.1L564.3 363.7L564.5 354.8L564.7 374.8L564.8 353.6L565.0 363.6L565.1 354.1L565.3 361.7L565.5 356.0L565.6 351.3L565.8 366.2L565.9 361.5L566.1 363.3L566.3 360.6L566.4 374.0L566.6 363.5L566.7 364.2L566.9 368.3L567.1 364.0L567.2 374.0L567.4 352.5L567.5 359.5L567.7 348.9L567.9 369.1L568.0 371.3L568.2 360.7L568.3 375.0L568.5 361.2L568.7 368.1L568.8 365.5L569.0 361.4L569.1 363.1L569.3 350.0L569.5 359.2L569.6 373.4L569.8 357.0L569.9 374.1L570.1 363.7L570.3 373.5L570.4 370.5L570.6 354.8L570.7 368.4L570.9 369.0L571.1 368.3L571.2 366.4L571.4 353.4L571.5 372.4L571.7 372.7L571.9 359.3L572.0 375.1L572.2 366.0L572.3 354.9L572.5 363.1L572.7 366.5L572.8 368.0L573.0 369.3L573.1 366.8L573.3 361.3L573.5 353.0L573.6 354.9L573.8 366.0L573.9 367.1L574.1 356.6L574.3 375.0L574.4 365.0L574.6 364.2L574.7 370.1L574.9 369.5L575.1 359.9L575.2 374.8L575.4 369.6L575.5 367.8L575.7 362.6L575.9 373.4L576.0 355.5L576.2 365.8L576.3 365.5L576.5 366.3L576.7 368.6L576.8 370.9L577.0 355.5L577.1 362.5L577.3 365.0L577.5 357.1L577.6 369.9L577.8 360.4L577.9 365.2L578.1 372.1L578.3 360.4L578.4 377.1L578.6 361.7L578.7 373.0L578.9 363.7L579.1 356.6L579.2 362.4L579.4 370.8L579.5 366.3L579.7 368.5L579.9 374.0L580.0 373.0L580.2 364.2L580.3 360.2L580.5 376.6L580.7 363.9L580.8 359.3L581.0 361.9L581.1 369.7L581.3 354.6L581.5 370.9L581.6 357.1L581.8 350.1L581.9 376.6L582.1 359.8L582.3 359.5L582.4 360.2L582.6 367.5L582.7 364.4L582.9 372.5L583.1 361.6L583.2 359.0L583.4 368.0L583.5 370.3L583.7 367.3L583.9 364.3L584.0 364.1L584.2 365.6L584.3 364.7L584.5 375.0L584.7 383.6L584.8 361.5L585.0 355.7L585.1 376.4L585.3 370.9L585.5 363.8L585.6 358.9L585.8 360.9L585.9 356.1L586.1 365.5L586.3 361.8L586.4 361.5L586.6 367.3L586.7 355.1L586.9 359.0L587.1 356.1L587.2 365.7L587.4 355.0L587.5 369.8L587.7 359.0L587.9 379.4L588.0 368.8L588.2 356.0L588.3 364.5L588.5 359.9L588.7 373.0L588.8 350.1L589.0 357.1L589.1 361.8L589.3 358.8L589.5 359.7L589.6 352.1L589.8 361.1L589.9 373.7L590.1 365.2L590.3 354.3L590.4 359.7L590.6 367.1L590.7 359.8L590.9 363.5L591.1 359.9L591.2 375.8L591.4 370.6L591.5 359.0L591.7 365.3L591.9 360.9L592.0 349.0L592.2 365.2L592.3 361.0L592.5 366.6L592.7 366.9L592.8 362.7L593.0 372.4L593.1 377.0L593.3 351.7L593.5 362.2L593.6 353.2L593.8 360.4L593.9 360.2L594.1 356.5L594.3 356.2L594.4 370.3L594.6 353.1L594.7 369.2L594.9 361.1L595.1 344.5L595.2 362.8L595.4 351.7L595.5 366.7L595.7 360.2L595.9 364.7L596.0 362.4L596.2 372.0L596.3 372.7L596.5 363.9L596.7 377.8L596.8 372.7L597.0 361.9L597.1 371.0L597.3 372.8L597.5 374.3L597.6 365.1L597.8 368.7L597.9 364.9L598.1 367.2L598.3 352.4L598.4 369.0L598.6 380.0L598.7 365.1L598.9 366.0L599.1 365.0L599.2 377.9L599.4 358.3L599.5 366.8L599.7 367.0L599.9 378.3L600.0 363.5L600.2 367.5L600.3 357.3L600.5 370.1L600.7 375.9L600.8 365.9L601.0 373.3L601.1 363.4L601.3 374.0L601.5 366.8L601.6 367.2L601.8 365.5L601.9 368.7L602.1 370.6L602.3 365.0L602.4 368.5L602.6 363.0L602.7 365.9L602.9 380.0L603.1 364.2L603.2 353.6L603.4 361.4L603.5 359.2L603.7 360.2L603.9 366.7L604.0 372.8L604.2 357.3L604.3 355.4L604.5 358.8L604.7 359.6L604.8 359.7L605.0 362.6L605.1 360.3L605.3 362.0L605.5 359.7L605.6 368.7L605.8 366.5L605.9 357.9L606.1 364.5L606.3 379.5L606.4 361.4L606.6 378.8L606.7 348.9L606.9 357.4L607.1 357.8L607.2 367.3L607.4 370.6L607.5 363.9L607.7 362.1L607.9 367.6L608.0 360.7L608.2 356.7L608.3 357.1L608.5 368.6L608.7 376.4L608.8 360.9L609.0 365.5L609.1 357.5L609.3 348.9L609.5 348.9L609.6 358.5L609.8 352.6L609.9 348.8L610.1 360.2L610.3 358.5L610.4 354.4L610.6 360.7L610.7 364.0L610.9 365.8L611.1 360.4L611.2 364.8L611.4 354.8L611.5 362.8L611.7 350.1L611.9 352.0L612.0 369.6L612.2 353.3L612.3 364.0L612.5 351.7L612.7 358.0L612.8 362.2L613.0 357.4L613.1 366.4L613.3 360.4L613.5 360.2L613.6 364.2L613.8 360.6L613.9 370.6L614.1 359.7L614.3 372.3L614.4 359.4L614.6 360.5L614.7 358.9L614.9 367.8L615.1 344.1L615.2 365.4L615.4 362.7L615.5 369.0L615.7 353.5L615.9 366.8L616.0 356.5L616.2 370.1L616.3 361.2L616.5 366.0L616.7 356.8L616.8 365.5L617.0 369.6L617.1 360.4L617.3 372.0L617.5 370.4L617.6 358.3L617.8 376.9L617.9 358.3L618.1 366.3L618.3 369.7L618.4 361.3L618.6 358.1L618.7 366.3L618.9 363.0L619.1 355.8L619.2 355.8L619.4 361.2L619.5 366.1L619.7 367.2L619.9 364.7L620.0 355.8L620.2 356.6L620.3 358.6L620.5 351.1L620.7 363.1L620.8 363.8L621.0 363.9L621.1 347.9L621.3 375.7L621.5 359.3L621.6 358.1L621.8 360.7L621.9 344.6L622.1 352.5L622.3 355.1L622.4 366.6L622.6 356.6L622.7 362.5L622.9 359.4L623.1 358.2L623.2 362.9L623.4 355.1L623.5 348.2L623.7 352.3L623.9 358.1L624.0 373.1L624.2 352.0L624.3 352.0L624.5 360.8L624.7 362.7L624.8 354.7L625.0 364.9L625.1 353.8L625.3 366.9L625.5 365.9L625.6 359.6L625.8 370.1L625.9 360.3L626.1 356.9L626.3 370.0L626.4 354.7L626.6 365.3L626.7 357.8L626.9 360.4L627.1 365.2L627.2 365.7L627.4 374.0L627.5 366.9L627.7 367.4L627.9 350.5L628.0 354.7L628.2 371.2L628.3 356.0L628.5 359.9L628.7 363.9L628.8 357.9L629.0 355.4L629.1 364.7L629.3 362.6L629.5 359.5L629.6 367.5L629.8 359.4L629.9 361.4L630.1 365.7L630.3 366.9L630.4 359.1L630.6 355.3L630.7 359.2L630.9 367.6L631.1 356.6L631.2 360.7L631.4 357.9L631.5 354.1L631.7 368.5L631.9 363.4L632.0 366.7L632.2 368.7L632.3 348.9L632.5 356.4L632.7 375.2L632.8 360.0L633.0 366.9L633.1 355.2L633.3 362.6L633.5 364.5L633.6 362.5L633.8 361.0L633.9 363.5L634.1 365.4L634.3 365.0L634.4 360.6L634.6 372.0L634.7 364.3L634.9 365.2L635.1 367.8L635.2 359.4L635.4 373.4L635.5 367.1L635.7 370.4L635.9 360.7L636.0 367.6L636.2 363.9L636.3 361.5L636.5 375.1L636.7 360.8L636.8 369.0L637.0 365.4L637.1 364.2L637.3 357.6L637.5 357.9L637.6 350.6L637.8 361.3L637.9 365.6L638.1 365.5L638.3 357.3L638.4 350.4L638.6 358.9L638.7 365.0L638.9 358.9L639.1 358.8L639.2 360.2L639.4 365.4L639.5 377.7L639.7 363.8L639.9 352.7L640.0 358.5L640.2 375.3L640.3 360.1L640.5 373.0L640.7 346.6L640.8 359.2L641.0 369.0L641.1 355.4L641.3 366.5L641.5 357.3L641.6 361.2L641.8 369.6L641.9 356.9L642.1 370.8L642.3 352.2L642.4 361.0L642.6 368.4L642.7 373.7L642.9 349.9L643.1 350.9L643.2 369.5L643.4 349.3L643.5 359.5L643.7 362.1L643.9 361.2L644.0 362.6L644.2 350.9L644.3 360.0L644.5 374.0L644.7 347.0L644.8 355.7L645.0 369.6L645.1 364.8L645.3 368.8L645.5 362.5L645.6 360.4L645.8 361.6L645.9 367.6L646.1 369.1L646.3 357.7L646.4 364.3L646.6 348.0L646.7 369.0L646.9 357.8L647.1 362.7L647.2 368.0L647.4 353.0L647.5 361.2L647.7 367.8L647.9 363.4L648.0 353.7L648.2 368.8L648.3 350.4L648.5 354.8L648.7 361.1L648.8 349.5L649.0 346.5L649.1 354.2L649.3 356.9L649.5 345.1L649.6 347.3L649.8 364.0L649.9 358.9L650.1 358.8L650.3 360.1L650.4 367.7L650.6 351.1L650.7 356.8L650.9 356.8L651.1 347.9L651.2 361.7L651.4 358.3L651.5 356.2L651.7 361.4L651.9 359.4L652.0 353.6L652.2 359.2L652.3 350.2L652.5 364.9L652.7 358.6L652.8 370.2L653.0 361.3L653.1 365.6L653.3 351.4L653.5 355.9L653.6 357.6L653.8 348.3L653.9 351.0L654.1 356.0L654.3 365.7L654.4 370.8L654.6 360.7L654.7 362.7L654.9 364.5L655.1 361.7L655.2 370.9L655.4 348.7L655.5 366.9L655.7 363.5L655.9 354.7L656.0 370.0L656.2 352.3L656.3 352.3L656.5 361.2L656.7 366.7L656.8 362.8L657.0 372.8L657.1 350.6L657.3 360.3L657.5 366.2L657.6 367.7L657.8 357.6L657.9 351.3L658.1 370.9L658.3 366.1L658.4 374.5L658.6 357.4L658.7 360.9L658.9 345.9L659.1 362.3L659.2 364.2L659.4 365.8L659.5 354.4L659.7 371.5L659.9 354.5L660.0 357.7L660.2 362.7L660.3 365.2L660.5 351.2L660.7 345.4L660.8 361.5L661.0 354.6L661.1 346.1L661.3 362.8L661.5 360.3L661.6 367.4L661.8 360.1L661.9 359.9L662.1 362.7L662.3 365.3L662.4 371.6L662.6 370.3L662.7 368.1L662.9 356.9L663.1 365.2L663.2 367.6L663.4 357.0L663.5 357.6L663.7 366.7L663.9 365.5L664.0 356.2L664.2 358.0L664.3 366.2L664.5 358.3L664.7 360.0L664.8 351.8L665.0 365.8L665.1 353.4L665.3 356.7L665.5 367.1L665.6 352.8L665.8 354.1L665.9 370.2L666.1 347.3L666.3 369.7L666.4 368.4L666.6 364.3L666.7 356.7L666.9 358.0L667.1 362.5L667.2 351.8L667.4 358.2L667.5 350.6L667.7 340.6L667.9 357.8L668.0 376.7L668.2 361.1L668.3 364.9L668.5 356.2L668.7 355.8L668.8 365.0L669.0 364.3L669.1 358.0L669.3 357.5L669.5 374.7L669.6 349.3L669.8 356.1L669.9 356.4L670.1 354.2L670.3 363.6L670.4 356.5L670.6 348.6L670.7 348.1L670.9 352.4L671.1 357.5L671.2 361.1L671.4 345.6L671.5 351.2L671.7 357.8L671.9 370.3L672.0 360.9L672.2 368.5L672.3 345.7L672.5 353.4L672.7 360.2L672.8 357.0L673.0 336.5L673.1 346.6L673.3 365.3L673.5 356.6L673.6 364.6L673.8 368.2L673.9 354.4L674.1 338.1L674.3 344.2L674.4 355.1L674.6 358.0L674.7 353.6L674.9 347.4L675.1 365.4L675.2 368.2L675.4 340.8L675.5 352.2L675.7 342.3L675.9 352.0L676.0 342.7L676.2 357.6L676.3 349.3L676.5 341.4L676.7 345.1L676.8 355.7L677.0 345.6L677.1 356.8L677.3 362.2L677.5 347.8L677.6 341.1L677.8 344.9L677.9 360.0L678.1 344.1L678.3 345.2L678.4 353.2L678.6 367.8L678.7 341.9L678.9 342.6L679.1 345.3L679.2 361.5L679.4 359.7L679.5 341.4L679.7 343.0L679.9 345.4L680.0 351.1L680.2 346.6L680.3 353.7L680.5 352.3L680.7 356.6L680.8 348.6L681.0 353.7L681.1 343.7L681.3 345.5L681.5 356.9L681.6 337.8L681.8 359.3L681.9 348.2L682.1 343.8L682.3 342.5L682.4 366.5L682.6 343.8L682.7 341.6L682.9 339.3L683.1 364.2L683.2 352.3L683.4 347.5L683.5 348.9L683.7 337.3L683.9 349.4L684.0 337.9L684.2 342.3L684.3 356.2L684.5 354.3L684.7 352.0L684.8 349.4L685.0 344.8L685.1 353.2L685.3 347.3L685.5 361.6L685.6 366.7L685.8 353.0L685.9 346.4L686.1 349.7L686.3 351.6L686.4 340.0L686.6 329.1L686.7 338.9L686.9 340.4L687.1 340.0L687.2 326.8L687.4 337.1L687.5 335.0L687.7 333.3L687.9 336.5L688.0 351.8L688.2 343.2L688.3 346.6L688.5 350.4L688.7 348.9L688.8 355.3L689.0 351.9L689.1 352.3L689.3 342.1L689.5 347.0L689.6 337.1L689.8 341.4L689.9 333.0L690.1 331.3L690.3 328.7L690.4 327.6L690.6 329.7L690.7 332.3L690.9 345.4L691.1 332.7L691.2 347.2L691.4 349.7L691.5 356.7L691.7 351.9L691.9 361.9L692.0 356.3L692.2 352.3L692.3 346.8L692.5 343.9L692.7 341.0L692.8 344.6L693.0 325.3L693.1 320.8L693.3 318.0L693.5 315.2L693.6 315.5L693.8 317.8L693.9 316.3L694.1 319.7L694.3 337.0L694.4 335.2L694.6 347.1L694.7 352.3L694.9 361.8L695.1 364.0L695.2 366.6L695.4 363.0L695.5 366.2L695.7 350.3L695.9 343.6L696.0 337.9L696.2 316.8L696.3 313.2L696.5 295.6L696.7 287.5L696.8 286.1L697.0 284.1L697.1 288.1L697.3 294.5L697.5 312.5L697.6 316.7L697.8 332.3L697.9 342.5L698.1 356.8L698.3 361.8L698.4 368.5L698.6 368.8L698.7 362.2L698.9 357.5L699.1 342.6L699.2 332.4L699.4 316.6L699.5 306.9L699.7 290.0L699.9 280.2L700.0 276.4L700.2 273.8L700.3 276.7L700.5 287.1L700.7 293.8L700.8 302.6L701.0 325.6L701.1 346.1L701.3 350.3L701.5 363.5L701.6 363.2L701.8 367.8L701.9 364.8L702.1 359.5L702.3 345.1L702.4 334.6L702.6 320.7L702.7 300.9L702.9 289.1L703.1 271.8L703.2 268.5L703.4 263.7L703.5 266.0L703.7 274.2L703.9 276.7L704.0 304.1L704.2 304.0L704.3 333.3L704.5 341.1L704.7 345.9L704.8 368.2L705.0 369.7L705.1 366.0L705.3 362.7L705.5 354.7L705.6 338.7L705.8 326.8L705.9 304.6L706.1 283.2L706.3 276.1L706.4 264.7L706.6 258.2L706.7 257.1L706.9 264.7L707.1 272.4L707.2 288.6L707.4 305.3L707.5 321.3L707.7 338.7L707.9 356.9L708.0 367.3L708.2 369.6L708.3 375.3L708.5 368.0L708.7 363.3L708.8 347.9L709.0 326.6L709.1 307.2L709.3 292.4L709.5 275.4L709.6 258.2L709.8 254.2L709.9 251.5L710.1 256.0L710.3 261.7L710.4 276.7L710.6 284.5L710.7 312.7L710.9 326.1L711.1 343.1L711.2 355.3L711.4 373.7L711.5 370.6L711.7 363.4L711.9 357.3L712.0 347.4L712.2 334.0L712.3 318.0L712.5 310.6L712.7 283.0L712.8 272.1L713.0 264.8L713.1 259.0L713.3 257.2L713.5 264.2L713.6 275.5L713.8 280.9L713.9 306.3L714.1 319.4L714.3 336.3L714.4 347.7L714.6 354.4L714.7 360.5L714.9 373.0L715.1 366.8L715.2 356.3L715.4 344.2L715.5 325.9L715.7 311.1L715.9 293.2L716.0 274.7L716.2 265.0L716.3 255.3L716.5 254.0L716.7 258.5L716.8 267.2L717.0 280.2L717.1 295.1L717.3 311.2L717.5 330.0L717.6 348.1L717.8 352.5L717.9 362.9L718.1 368.0L718.3 364.4L718.4 358.8L718.6 349.7L718.7 334.1L718.9 305.9L719.1 297.7L719.2 283.1L719.4 275.1L719.5 264.3L719.7 258.7L719.9 260.7L720.0 264.6L720.2 272.7L720.3 287.1L720.5 297.9L720.7 320.3L720.8 334.8L721.0 352.5L721.1 352.5L721.3 364.4L721.5 352.9L721.6 344.8L721.8 341.8L721.9 328.1L722.1 317.4L722.3 298.3L722.4 285.0L722.6 268.7L722.7 260.3L722.9 254.4L723.1 252.2L723.2 255.0L723.4 263.3L723.5 269.8L723.7 283.7L723.9 301.0L724.0 322.0L724.2 328.1L724.3 344.8L724.5 347.0L724.7 354.1L724.8 352.2L725.0 344.0L725.1 329.8L725.3 299.8L725.5 290.6L725.6 270.3L725.8 248.0L725.9 235.7L726.1 225.4L726.3 223.7L726.4 225.7L726.6 227.3L726.7 245.2L726.9 263.0L727.1 280.1L727.2 295.8L727.4 323.6L727.5 332.8L727.7 344.5L727.9 348.0L728.0 352.4L728.2 346.5L728.3 334.0L728.5 322.5L728.7 285.4L728.8 273.5L729.0 246.4L729.1 221.5L729.3 212.9L729.5 203.8L729.6 203.7L729.8 208.5L729.9 221.9L730.1 241.3L730.3 254.6L730.4 284.4L730.6 311.1L730.7 325.6L730.9 337.6L731.1 350.9L731.2 344.3L731.4 339.4L731.5 323.2L731.7 315.9L731.9 289.6L732.0 277.9L732.2 249.5L732.3 227.2L732.5 210.7L732.7 201.2L732.8 197.4L733.0 201.0L733.1 210.8L733.3 224.1L733.5 242.2L733.6 263.4L733.8 283.9L733.9 303.9L734.1 331.5L734.3 338.3L734.4 342.4L734.6 340.5L734.7 326.3L734.9 310.2L735.1 291.8L735.2 265.9L735.4 235.2L735.5 217.9L735.7 197.1L735.9 180.1L736.0 173.4L736.2 172.5L736.3 180.9L736.5 194.1L736.7 218.3L736.8 244.2L737.0 265.3L737.1 300.9L737.3 308.9L737.5 323.3L737.6 335.0L737.8 356.5L737.9 346.4L738.1 334.9L738.3 309.9L738.4 278.5L738.6 257.8L738.7 230.4L738.9 208.9L739.1 191.3L739.2 179.8L739.4 176.4L739.5 179.8L739.7 197.1L739.9 213.8L740.0 234.3L740.2 267.6L740.3 290.9L740.5 317.5L740.7 332.9L740.8 345.2L741.0 349.3L741.1 337.1L741.3 329.1L741.5 307.4L741.6 281.8L741.8 250.6L741.9 238.7L742.1 202.3L742.3 186.6L742.4 166.0L742.6 159.3L742.7 160.3L742.9 168.6L743.1 185.7L743.2 211.7L743.4 233.9L743.5 257.2L743.7 289.3L743.9 310.9L744.0 330.6L744.2 333.3L744.3 347.6L744.5 339.8L744.7 322.2L744.8 300.2L745.0 269.1L745.1 231.6L745.3 204.6L745.5 177.5L745.6 159.0L745.8 150.8L745.9 146.5L746.1 151.3L746.3 163.2L746.4 195.3L746.6 224.0L746.7 245.8L746.9 279.2L747.1 308.2L747.2 324.2L747.4 340.9L747.5 348.8L747.7 326.4L747.9 312.3L748.0 289.0L748.2 260.3L748.3 233.6L748.5 205.1L748.7 178.4L748.8 157.2L749.0 138.4L749.1 130.0L749.3 132.5L749.5 140.8L749.6 164.2L749.8 196.1L749.9 214.4L750.1 243.4L750.3 281.2L750.4 305.5L750.6 316.4L750.7 323.8L750.9 335.4L751.1 323.4L751.2 306.1L751.4 282.4L751.5 252.9L751.7 213.9L751.9 185.0L752.0 158.8L752.2 141.5L752.3 123.7L752.5 124.5L752.7 131.7L752.8 151.1L753.0 171.3L753.1 208.4L753.3 233.1L753.5 265.3L753.6 288.4L753.8 316.5L753.9 327.8L754.1 309.5L754.3 297.8L754.4 293.3L754.6 265.6L754.7 242.5L754.9 208.1L755.1 176.9L755.2 152.1L755.4 130.2L755.5 116.0L755.7 111.1L755.9 114.3L756.0 129.5L756.2 147.4L756.3 175.1L756.5 202.2L756.7 227.4L756.8 256.7L757.0 279.4L757.1 293.9L757.3 309.8L757.5 310.1L757.6 301.3L757.8 284.1L757.9 266.2L758.1 231.1L758.3 200.6L758.4 175.4L758.6 157.0L758.7 139.3L758.9 130.5L759.1 129.2L759.2 136.9L759.4 153.8L759.5 175.4L759.7 200.6L759.9 227.6L760.0 257.2L760.2 275.2L760.3 297.5L760.5 307.6L760.7 318.8L760.8 314.8L761.0 300.1L761.1 287.1L761.3 250.1L761.5 226.6L761.6 200.3L761.8 174.3L761.9 156.5L762.1 145.7L762.3 139.1L762.4 145.4L762.6 154.8L762.7 169.7L762.9 201.6L763.1 224.8L763.2 255.4L763.4 271.6L763.5 296.6L763.7 311.6L763.9 311.3L764.0 302.7L764.2 297.4L764.3 273.4L764.5 254.9L764.7 218.0L764.8 197.2L765.0 182.5L765.1 160.9L765.3 147.1L765.5 138.4L765.6 138.9L765.8 146.0L765.9 162.1L766.1 188.5L766.3 210.8L766.4 226.1L766.6 252.0L766.7 278.5L766.9 293.9L767.1 302.6L767.2 313.8L767.4 309.2L767.5 282.9L767.7 261.7L767.9 225.9L768.0 203.3L768.2 156.7L768.3 123.6L768.5 108.6L768.7 90.5L768.8 90.5L769.0 93.5L769.1 112.8L769.3 130.7L769.5 164.7L769.6 197.5L769.8 235.9L769.9 269.0L770.1 288.0L770.3 309.7L770.4 311.6L770.6 303.3L770.7 290.9L770.9 275.6L771.1 241.0L771.2 228.7L771.4 198.6L771.5 166.5L771.7 147.7L771.9 130.8L772.0 125.5L772.2 128.1L772.3 137.3L772.5 160.7L772.7 181.8L772.8 206.4L773.0 233.5L773.1 264.8L773.3 284.8L773.5 300.5L773.6 304.7L773.8 302.6L773.9 297.7L774.1 284.2L774.3 263.0L774.4 244.6L774.6 218.1L774.7 199.8L774.9 170.4L775.1 154.7L775.2 146.7L775.4 144.7L775.5 150.4L775.7 159.1L775.9 182.3L776.0 212.0L776.2 236.9L776.3 254.2L776.5 276.1L776.7 296.0L776.8 308.1L777.0 316.4L777.1 317.6L777.3 307.0L777.5 297.3L777.6 273.5L777.8 257.3L777.9 229.4L778.1 211.0L778.3 199.0L778.4 182.9L778.6 178.6L778.7 182.9L778.9 189.8L779.1 202.3L779.2 224.4L779.4 240.9L779.5 266.3L779.7 283.6L779.9 305.1L780.0 318.8L780.2 323.6L780.3 341.3L780.5 333.5L780.7 319.2L780.8 298.3L781.0 269.9L781.1 242.6L781.3 212.2L781.5 189.3L781.6 172.6L781.8 162.8L781.9 161.5L782.1 167.0L782.3 182.0L782.4 209.3L782.6 232.2L782.7 264.5L782.9 291.7L783.1 317.1L783.2 337.4L783.4 350.7L783.5 343.0L783.7 332.7L783.9 318.8L784.0 310.3L784.2 284.4L784.3 266.5L784.5 241.5L784.7 225.3L784.8 207.2L785.0 196.4L785.1 194.4L785.3 195.2L785.5 205.5L785.6 228.5L785.8 238.1L785.9 263.5L786.1 285.4L786.3 306.1L786.4 326.6L786.6 340.4L786.7 344.3L786.9 337.2L787.1 323.0L787.2 310.9L787.4 304.1L787.5 285.5L787.7 263.0L787.9 244.2L788.0 232.7L788.2 221.2L788.3 211.9L788.5 212.7L788.7 222.1L788.8 235.7L789.0 249.9L789.1 264.6L789.3 282.9L789.5 306.3L789.6 327.6L789.8 333.7L789.9 340.5L790.1 345.0L790.3 341.9L790.4 328.8L790.6 316.4L790.7 303.6L790.9 278.6L791.1 265.2L791.2 239.8L791.4 228.4L791.5 222.0L791.7 218.0L791.9 220.1L792.0 235.5L792.2 245.5L792.3 256.0L792.5 290.1L792.7 303.5L792.8 326.8L793.0 336.0L793.1 352.1L793.3 353.8L793.5 345.3L793.6 337.7L793.8 327.0L793.9 314.0L794.1 296.5L794.3 284.6L794.4 272.1L794.6 266.6L794.7 257.1L794.9 251.1L795.1 252.4L795.2 258.5L795.4 266.8L795.5 277.0L795.7 296.6L795.9 299.9L796.0 324.6L796.2 335.0L796.3 337.1L796.5 353.3L796.7 360.2L796.8 361.6L797.0 350.5L797.1 336.4L797.3 323.1L797.5 304.9L797.6 293.5L797.8 277.3L797.9 268.9L798.1 260.9L798.3 260.3L798.4 261.6L798.6 273.4L798.7 279.8L798.9 298.6L799.1 314.1L799.2 322.9L799.4 342.1L799.5 360.0L799.7 359.9L799.9 369.7L800.0 352.0L800.2 347.7L800.3 342.0L800.5 323.3L800.7 310.9L800.8 286.0L801.0 283.2L801.1 266.1L801.3 261.5L801.5 260.9L801.6 262.7L801.8 265.3L801.9 277.9L802.1 289.4L802.3 305.6L802.4 324.8L802.6 334.3L802.7 347.5L802.9 356.6L803.1 357.1L803.2 357.6L803.4 353.2L803.5 350.5L803.7 339.4L803.9 325.5L804.0 309.2L804.2 302.6L804.3 295.5L804.5 287.7L804.7 282.3L804.8 281.2L805.0 288.4L805.1 299.7L805.3 301.5L805.5 316.2L805.6 327.2L805.8 333.8L805.9 349.3L806.1 361.5L806.3 367.1L806.4 360.3L806.6 361.2L806.7 351.8L806.9 349.8L807.1 336.0L807.2 330.2L807.4 313.5L807.5 303.4L807.7 292.5L807.9 286.9L808.0 287.0L808.2 289.4L808.3 289.5L808.5 300.0L808.7 308.5L808.8 319.3L809.0 326.5L809.1 339.5L809.3 350.0L809.5 356.3L809.6 363.3L809.8 361.6L809.9 356.8L810.1 349.8L810.3 341.6L810.4 330.3L810.6 321.5L810.7 313.6L810.9 308.3L811.1 296.4L811.2 294.1L811.4 295.6L811.5 297.1L811.7 302.7L811.9 311.7L812.0 330.0L812.2 337.7L812.3 344.4L812.5 343.9L812.7 359.4L812.8 361.4L813.0 363.1L813.1 359.6L813.3 351.9L813.5 354.1L813.6 347.9L813.8 322.7L813.9 315.8L814.1 309.1L814.3 298.1L814.4 294.6L814.6 296.4L814.7 296.6L814.9 298.8L815.1 310.6L815.2 318.8L815.4 322.9L815.5 338.8L815.7 351.7L815.9 356.4L816.0 362.7L816.2 359.9L816.3 368.8L816.5 357.8L816.7 361.3L816.8 346.8L817.0 345.3L817.1 330.4L817.3 316.6L817.5 310.5L817.6 306.4L817.8 306.2L817.9 306.5L818.1 309.4L818.3 313.7L818.4 324.5L818.6 326.5L818.7 339.1L818.9 344.2L819.1 354.8L819.2 360.0L819.4 366.9L819.5 364.3L819.7 364.8L819.9 357.7L820.0 350.9L820.2 338.4L820.3 340.2L820.5 315.2L820.7 319.6L820.8 311.4L821.0 309.6L821.1 312.4L821.3 312.4L821.5 312.9L821.6 330.8L821.8 326.5L821.9 342.5L822.1 348.2L822.3 352.3L822.4 365.1L822.6 362.0L822.7 365.5L822.9 368.4L823.1 361.0L823.2 347.5L823.4 349.8L823.5 341.3L823.7 336.8L823.9 332.4L824.0 323.7L824.2 318.6L824.3 319.2L824.5 319.3L824.7 323.7L824.8 320.8L825.0 341.2L825.1 338.9L825.3 346.1L825.5 354.1L825.6 364.8L825.8 367.9L825.9 366.9L826.1 366.4L826.3 368.5L826.4 365.3L826.6 353.9L826.7 345.8L826.9 348.1L827.1 343.1L827.2 338.2L827.4 326.9L827.5 330.3L827.7 331.2L827.9 330.8L828.0 329.1L828.2 335.3L828.3 351.7L828.5 350.3L828.7 356.7L828.8 360.3L829.0 366.5L829.1 365.0L829.3 364.8L829.5 359.6L829.6 358.6L829.8 362.4L829.9 361.1L830.1 350.9L830.3 341.2L830.4 338.9L830.6 338.6L830.7 343.0L830.9 337.3L831.1 338.7L831.2 339.8L831.4 346.4L831.5 347.0L831.7 352.3L831.9 337.9L832.0 352.2L832.2 359.5L832.3 360.7L832.5 362.0L832.7 361.4L832.8 362.9L833.0 359.5L833.1 351.6L833.3 349.7L833.5 349.8L833.6 342.2L833.8 345.7L833.9 348.6L834.1 349.6L834.3 346.3L834.4 345.2L834.6 344.8L834.7 343.2L834.9 354.2L835.1 358.1L835.2 351.3L835.4 351.4L835.5 361.3L835.7 358.3L835.9 355.1L836.0 359.0L836.2 359.4L836.3 368.8L836.5 347.3L836.7 348.9L836.8 349.8L837.0 351.0L837.1 352.8L837.3 346.8L837.5 346.7L837.6 342.4L837.8 353.6L837.9 342.2L838.1 351.6L838.3 346.7L838.4 362.1L838.6 355.9L838.7 352.7L838.9 359.8L839.1 368.1L839.2 361.8L839.4 356.6L839.5 366.6L839.7 366.1L839.9 354.4L840.0 360.4L840.2 349.3L840.3 358.8L840.5 361.1L840.7 355.5L840.8 345.0L841.0 357.3L841.1 353.9L841.3 353.6L841.5 362.4L841.6 350.5L841.8 357.6L841.9 356.9L842.1 370.1L842.3 370.4L842.4 374.0L842.6 360.6L842.7 360.2L842.9 353.2L843.1 346.9L843.2 357.3L843.4 356.2L843.5 350.8L843.7 343.9L843.9 357.1L844.0 348.7L844.2 353.8L844.3 354.8L844.5 348.1L844.7 359.3L844.8 362.0L845.0 350.8L845.1 356.2L845.3 358.2L845.5 357.7L845.6 353.8L845.8 359.1L845.9 351.5L846.1 353.6L846.3 345.9L846.4 347.0L846.6 349.5L846.7 356.6L846.9 354.2L847.1 358.7L847.2 337.4L847.4 356.1L847.5 350.9L847.7 345.4L847.9 364.7L848.0 361.1L848.2 358.3L848.3 362.8L848.5 365.0L848.7 359.8L848.8 347.1L849.0 351.4L849.1 356.6L849.3 356.8L849.5 369.5L849.6 352.4L849.8 354.6L849.9 365.9L850.1 356.5L850.3 359.6L850.4 362.1L850.6 365.7L850.7 363.3L850.9 365.3L851.1 354.9L851.2 355.6L851.4 355.9L851.5 359.6L851.7 361.2L851.9 343.0L852.0 371.8L852.2 349.1L852.3 355.2L852.5 357.1L852.7 361.3L852.8 359.0L853.0 366.0L853.1 367.4L853.3 357.8L853.5 369.2L853.6 350.6L853.8 348.4L853.9 374.9L854.1 368.1L854.3 354.6L854.4 355.0L854.6 355.7L854.7 353.5L854.9 351.2L855.1 350.4L855.2 343.7L855.4 356.9L855.5 351.0L855.7 369.6L855.9 358.9L856.0 367.2L856.2 348.1L856.3 341.2L856.5 354.6L856.7 368.3L856.8 359.5L857.0 358.4L857.1 357.0L857.3 350.2L857.5 350.9L857.6 376.1L857.8 347.3L857.9 360.9L858.1 361.1L858.3 346.3L858.4 358.6L858.6 366.6L858.7 366.3L858.9 356.0L859.1 349.8L859.2 345.6L859.4 358.2L859.5 360.6L859.7 345.3L859.9 360.9L860.0 347.0L860.2 356.3L860.3 356.4L860.5 360.0L860.7 356.2L860.8 361.9L861.0 363.5L861.1 359.6L861.3 363.5L861.5 356.5L861.6 358.2L861.8 360.9L861.9 360.6L862.1 361.0L862.3 346.6L862.4 359.8L862.6 364.3L862.7 362.4L862.9 355.5L863.1 362.1L863.2 362.0L863.4 362.9L863.5 360.0L863.7 358.4L863.9 358.1L864.0 373.5L864.2 369.3L864.3 379.7L864.5 355.4L864.7 353.0L864.8 351.5L865.0 359.9L865.1 352.3L865.3 361.0L865.5 361.5L865.6 371.9L865.8 366.1L865.9 364.6L866.1 353.3L866.3 347.7L866.4 363.3L866.6 356.9L866.7 357.5L866.9 365.1L867.1 371.9L867.2 364.6L867.4 369.5L867.5 361.1L867.7 359.6L867.9 359.8L868.0 359.6L868.2 354.8L868.3 365.2L868.5 351.8L868.7 370.8L868.8 358.1L869.0 355.8L869.1 364.8L869.3 371.0L869.5 354.7L869.6 364.7L869.8 354.3L869.9 354.6L870.1 360.6L870.3 360.7L870.4 353.5L870.6 358.1L870.7 367.8L870.9 359.5L871.1 356.5L871.2 358.8L871.4 358.6L871.5 360.7L871.7 360.1L871.9 365.8L872.0 369.0L872.2 349.7L872.3 362.4L872.5 355.7L872.7 368.2L872.8 355.8L873.0 363.0L873.1 337.5L873.3 364.5L873.5 364.2L873.6 350.3L873.8 349.1L873.9 373.2L874.1 356.0L874.3 351.7L874.4 367.4L874.6 353.6L874.7 362.8L874.9 366.5L875.1 362.0L875.2 363.0L875.4 370.0L875.5 343.4L875.7 363.4L875.9 365.7L876.0 354.1L876.2 361.1L876.3 350.9L876.5 362.9L876.7 358.5L876.8 360.5L877.0 360.1L877.1 363.0L877.3 362.3L877.5 349.2L877.6 366.6L877.8 365.6L877.9 364.0L878.1 357.2L878.3 358.3L878.4 354.2L878.6 370.8L878.7 358.8L878.9 361.7L879.1 362.2L879.2 358.6L879.4 374.0L879.5 357.2L879.7 357.9L879.9 369.2L880.0 359.2L880.2 346.9L880.3 361.0L880.5 353.8L880.7 359.8L880.8 364.2L881.0 365.1L881.1 361.5L881.3 349.2L881.5 352.9L881.6 364.3L881.8 352.0L881.9 360.4L882.1 364.6L882.3 356.5L882.4 366.4L882.6 371.3L882.7 350.3L882.9 373.2L883.1 355.8L883.2 371.0L883.4 360.0L883.5 361.3L883.7 363.1L883.9 376.0L884.0 360.8L884.2 360.4L884.3 366.8L884.5 360.9L884.7 353.2L884.8 365.9L885.0 358.9L885.1 369.3L885.3 358.2L885.5 356.3L885.6 342.9L885.8 354.5L885.9 358.0L886.1 350.9L886.3 368.6L886.4 353.6L886.6 365.5L886.7 366.2L886.9 353.8L887.1 360.3L887.2 352.4L887.4 372.9L887.5 360.4L887.7 366.4L887.9 364.6L888.0 376.6L888.2 355.8L888.3 361.1L888.5 369.8L888.7 372.3L888.8 368.8L889.0 352.1L889.1 362.9L889.3 364.5L889.5 358.4L889.6 361.8L889.8 360.2L889.9 356.5L890.1 359.5L890.3 355.6L890.4 370.8L890.6 361.7L890.7 364.9L890.9 361.6L891.1 362.8L891.2 367.3L891.4 365.4L891.5 356.2L891.7 367.3L891.9 372.5L892.0 359.2L892.2 356.5L892.3 365.6L892.5 362.8L892.7 369.8L892.8 365.2L893.0 355.6L893.1 357.8L893.3 362.5L893.5 365.4L893.6 375.2L893.8 360.9L893.9 359.7L894.1 355.2L894.3 348.1L894.4 359.9L894.6 355.7L894.7 370.7L894.9 353.8L895.1 356.3L895.2 352.7L895.4 357.7L895.5 359.2L895.7 351.7L895.9 367.1L896.0 357.5L896.2 354.1L896.3 367.4L896.5 369.9L896.7 358.1L896.8 360.1L897.0 356.3L897.1 355.8L897.3 365.6L897.5 357.3L897.6 351.3L897.8 361.8L897.9 361.0L898.1 367.0L898.3 352.8L898.4 344.6L898.6 368.6L898.7 353.3L898.9 352.4L899.1 363.1L899.2 361.9L899.4 366.9L899.5 365.1L899.7 358.3L899.9 354.9L900.0 358.9L900.2 353.7L900.3 358.5L900.5 368.5L900.7 349.6L900.8 351.7L901.0 365.5L901.1 347.7L901.3 357.2L901.5 359.7L901.6 346.9L901.8 378.8L901.9 372.5L902.1 356.0L902.3 363.1L902.4 368.3L902.6 350.8L902.7 358.3L902.9 371.3L903.1 367.0L903.2 356.3L903.4 349.8L903.5 377.4L903.7 361.4L903.9 366.2L904.0 376.4L904.2 365.2L904.3 375.9L904.5 368.5L904.7 353.1L904.8 361.3L905.0 359.5L905.1 360.9L905.3 362.7L905.5 358.2L905.6 373.4L905.8 367.3L905.9 358.1L906.1 369.1L906.3 366.5L906.4 354.1L906.6 351.2L906.7 366.3L906.9 367.4L907.1 356.9L907.2 358.8L907.4 365.4L907.5 356.1L907.7 356.4L907.9 359.9L908.0 341.5L908.2 350.8L908.3 354.8L908.5 353.5L908.7 342.1L908.8 353.3L909.0 366.6L909.1 359.3L909.3 361.3L909.5 366.1L909.6 360.2L909.8 360.4L909.9 362.7L910.1 365.9L910.3 356.5L910.4 374.2L910.6 356.8L910.7 362.8L910.9 361.0L911.1 380.3L911.2 351.0L911.4 375.7L911.5 369.4L911.7 358.4L911.9 367.3L912.0 365.7L912.2 378.7L912.3 365.5L912.5 360.6L912.7 357.1L912.8 363.9L913.0 360.1L913.1 358.4L913.3 366.3L913.5 366.6L913.6 346.7L913.8 366.9L913.9 351.5L914.1 359.6L914.3 349.1L914.4 364.2L914.6 355.6L914.7 356.7L914.9 360.6L915.1 356.7L915.2 364.5L915.4 359.5L915.5 361.9L915.7 353.6L915.9 360.0L916.0 369.7L916.2 362.6L916.3 360.9L916.5 367.2L916.7 351.4L916.8 358.6L917.0 355.9L917.1 368.0L917.3 365.7L917.5 355.7L917.6 373.7L917.8 360.9L917.9 363.1L918.1 367.5L918.3 363.3L918.4 371.8L918.6 362.4L918.7 372.9L918.9 373.3L919.1 353.8L919.2 369.0L919.4 379.2L919.5 356.7L919.7 369.3L919.9 382.6L920.0 364.1L920.2 356.9L920.3 361.1L920.5 351.1L920.7 364.6L920.8 359.3L921.0 371.0L921.1 362.5L921.3 352.5L921.5 360.0L921.6 362.4L921.8 377.9L921.9 366.1L922.1 372.6L922.3 357.4L922.4 368.2L922.6 360.0L922.7 369.7L922.9 348.4L923.1 370.4L923.2 360.7L923.4 342.5L923.5 359.7L923.7 367.5L923.9 356.6L924.0 353.7L924.2 354.5L924.3 375.2L924.5 359.2L924.7 376.2L924.8 346.9L925.0 360.2L925.1 364.1L925.3 355.8L925.5 357.2L925.6 369.4L925.8 349.0L925.9 362.6L926.1 373.7L926.3 350.7L926.4 349.7L926.6 351.8L926.7 357.0L926.9 367.6L927.1 354.2L927.2 347.5L927.4 355.2L927.5 349.5L927.7 367.0L927.9 354.0L928.0 354.8L928.2 372.8L928.3 374.0L928.5 367.6L928.7 362.1L928.8 359.6L929.0 364.9L929.1 363.9L929.3 364.4L929.5 363.0L929.6 359.4L929.8 359.9L929.9 363.9L930.1 361.4L930.3 366.4L930.4 356.9L930.6 366.2L930.7 350.1L930.9 362.1L931.1 359.6L931.2 366.9L931.4 363.6L931.5 359.6L931.7 360.6L931.9 365.2L932.0 369.2L932.2 360.4L932.3 359.7L932.5 356.9L932.7 352.0L932.8 363.7L933.0 376.2L933.1 362.8L933.3 375.5L933.5 371.5L933.6 354.6L933.8 358.1L933.9 367.1L934.1 367.1L934.3 363.2L934.4 375.5L934.6 359.1L934.7 365.2L934.9 349.1L935.1 370.4L935.2 355.2L935.4 367.6L935.5 355.0L935.7 369.6L935.9 356.9L936.0 365.6L936.2 368.4L936.3 363.3L936.5 358.7L936.7 359.1L936.8 350.4L937.0 355.9L937.1 380.8L937.3 364.7L937.5 376.3L937.6 364.3L937.8 356.8L937.9 371.2L938.1 370.0L938.3 360.2L938.4 363.4L938.6 349.6L938.7 359.0L938.9 357.5L939.1 348.7L939.2 365.4L939.4 361.8L939.5 369.2L939.7 360.1L939.9 354.4L940.0 352.0L940.2 362.4L940.3 367.5L940.5 367.9L940.7 372.5L940.8 361.2L941.0 352.0L941.1 379.5L941.3 378.0L941.5 351.6L941.6 373.9L941.8 359.6L941.9 371.4L942.1 356.3L942.3 356.4L942.4 361.0L942.6 356.2L942.7 362.0L942.9 358.3L943.1 349.0L943.2 354.3L943.4 367.3L943.5 368.3L943.7 364.0L943.9 363.9L944.0 361.5L944.2 366.4L944.3 357.0L944.5 361.4L944.7 358.8L944.8 361.3L945.0 356.6L945.1 369.9L945.3 349.3L945.5 358.3L945.6 357.6L945.8 356.5L945.9 353.1L946.1 355.8L946.3 359.7L946.4 363.0L946.6 374.1L946.7 360.7L946.9 364.9L947.1 365.2L947.2 345.4L947.4 377.3L947.5 363.3L947.7 355.0L947.9 357.1L948.0 355.2L948.2 373.9L948.3 371.6L948.5 359.9L948.7 366.6L948.8 351.5L949.0 362.3L949.1 362.2L949.3 360.1L949.5 365.0L949.6 361.7L949.8 367.2L949.9 362.1L950.1 365.0L950.3 359.2L950.4 371.3L950.6 371.6L950.7 357.0L950.9 358.6L951.1 367.4L951.2 361.9L951.4 368.1L951.5 345.3L951.7 372.3L951.9 348.3L952.0 367.4L952.2 358.5L952.3 364.0L952.5 365.2L952.7 355.7L952.8 356.9L953.0 365.3L953.1 370.1L953.3 348.0L953.5 353.0L953.6 362.3L953.8 365.5L953.9 361.1L954.1 362.6L954.3 354.3L954.4 370.2L954.6 362.8L954.7 368.8L954.9 353.2L955.1 349.5L955.2 363.5L955.4 358.8L955.5 352.3L955.7 364.9L955.9 369.5L956.0 354.8L956.2 358.6L956.3 363.7L956.5 351.1L956.7 360.0L956.8 374.7L957.0 358.8L957.1 361.6L957.3 347.1L957.5 361.1L957.6 362.5L957.8 357.8L957.9 359.3L958.1 371.7L958.3 360.5L958.4 363.9L958.6 351.2L958.7 343.9L958.9 370.1L959.1 369.0L959.2 368.2L959.4 366.8L959.5 366.9L959.7 361.3L959.9 353.4L960.0 370.9L960.2 372.5L960.3 374.5L960.5 352.5L960.7 350.7L960.8 371.8L961.0 372.4L961.1 359.4L961.3 352.3L961.5 352.9L961.6 359.0L961.8 355.5L961.9 358.3L962.1 365.0L962.3 346.9L962.4 361.3L962.6 369.8L962.7 365.3L962.9 373.6L963.1 362.4L963.2 354.7L963.4 372.6L963.5 355.2L963.7 348.4L963.9 361.4L964.0 373.1L964.2 371.2L964.3 367.6L964.5 374.8L964.7 374.7L964.8 367.4L965.0 366.7L965.1 360.6L965.3 373.7L965.5 350.5L965.6 356.1L965.8 356.9L965.9 367.8L966.1 349.6L966.3 364.7L966.4 348.3L966.6 353.4L966.7 367.6L966.9 364.1L967.1 346.6L967.2 352.8L967.4 361.3L967.5 358.6L967.7 358.6L967.9 365.9L968.0 361.7L968.2 365.2L968.3 363.5L968.5 356.9L968.7 367.4L968.8 354.9L969.0 359.5L969.1 354.7L969.3 353.7L969.5 351.2L969.6 355.9L969.8 355.4L969.9 362.2L970.1 356.9L970.3 368.0L970.4 363.4L970.6 356.3L970.7 362.4L970.9 358.8L971.1 370.1L971.2 352.2L971.4 366.7L971.5 359.5L971.7 362.6L971.9 355.5L972.0 365.1L972.2 369.6L972.3 376.0L972.5 364.0L972.7 370.4L972.8 357.4L973.0 350.6L973.1 377.8L973.3 370.9L973.5 359.1L973.6 352.4L973.8 359.5L973.9 359.6L974.1 358.6L974.3 358.4L974.4 350.8L974.6 358.8L974.7 373.0L974.9 367.6L975.1 362.9L975.2 370.8L975.4 366.9L975.5 369.0L975.7 370.3L975.9 359.8L976.0 367.7L976.2 372.6L976.3 369.4L976.5 363.3L976.7 347.4L976.8 360.6L977.0 351.0L977.1 357.9L977.3 377.2L977.5 358.0L977.6 366.8L977.8 370.4L977.9 368.2L978.1 346.8L978.3 371.9L978.4 364.8L978.6 351.8L978.7 355.6L978.9 373.6" fill="none" stroke="#002264" stroke-width="1.8" stroke-linejoin="round"/>
<path d="M1050.8 366.9L1051.0 370.1L1051.1 367.4L1051.3 359.7L1051.4 370.2L1051.6 368.1L1051.8 353.7L1051.9 379.9L1052.1 368.0L1052.2 361.1L1052.4 374.6L1052.6 369.5L1052.7 374.8L1052.9 363.1L1053.0 369.3L1053.2 358.1L1053.4 356.3L1053.5 364.3L1053.7 367.9L1053.8 363.0L1054.0 364.8L1054.2 375.2L1054.3 357.1L1054.5 363.9L1054.6 359.4L1054.8 376.5L1055.0 358.5L1055.1 348.5L1055.3 360.2L1055.4 376.4L1055.6 364.3L1055.8 364.7L1055.9 362.2L1056.1 365.4L1056.2 359.3L1056.4 366.7L1056.6 360.9L1056.7 368.0L1056.9 361.7L1057.0 354.5L1057.2 366.5L1057.4 357.5L1057.5 370.1L1057.7 366.3L1057.8 365.6L1058.0 354.2L1058.2 370.6L1058.3 355.0L1058.5 376.7L1058.6 366.4L1058.8 358.0L1059.0 359.7L1059.1 373.4L1059.3 375.0L1059.4 358.3L1059.6 375.3L1059.8 360.6L1059.9 369.4L1060.1 365.3L1060.2 346.8L1060.4 353.0L1060.6 358.9L1060.7 376.8L1060.9 363.5L1061.0 366.0L1061.2 367.5L1061.4 356.3L1061.5 380.8L1061.7 364.7L1061.8 366.2L1062.0 373.1L1062.2 353.2L1062.3 376.8L1062.5 366.2L1062.6 365.4L1062.8 383.2L1063.0 376.8L1063.1 372.8L1063.3 358.5L1063.4 357.1L1063.6 359.8L1063.8 362.6L1063.9 382.0L1064.1 362.8L1064.2 368.7L1064.4 355.4L1064.6 354.2L1064.7 347.2L1064.9 359.6L1065.0 358.9L1065.2 373.7L1065.4 364.9L1065.5 375.3L1065.7 358.2L1065.8 374.8L1066.0 366.8L1066.2 371.5L1066.3 368.5L1066.5 361.0L1066.6 369.0L1066.8 362.7L1067.0 372.5L1067.1 353.5L1067.3 369.8L1067.4 356.8L1067.6 348.0L1067.8 384.6L1067.9 373.3L1068.1 367.1L1068.2 356.3L1068.4 369.6L1068.6 362.7L1068.7 371.6L1068.9 361.2L1069.0 375.3L1069.2 358.8L1069.4 386.2L1069.5 380.0L1069.7 350.2L1069.8 363.0L1070.0 371.2L1070.2 346.2L1070.3 355.2L1070.5 354.4L1070.6 366.6L1070.8 358.1L1071.0 358.8L1071.1 375.9L1071.3 357.9L1071.4 363.9L1071.6 352.0L1071.8 351.6L1071.9 366.8L1072.1 366.2L1072.2 359.6L1072.4 355.6L1072.6 363.8L1072.7 361.2L1072.9 355.2L1073.0 356.6L1073.2 350.7L1073.4 358.1L1073.5 367.2L1073.7 374.4L1073.8 354.4L1074.0 363.9L1074.2 364.6L1074.3 364.8L1074.5 375.7L1074.6 367.0L1074.8 385.2L1075.0 368.3L1075.1 372.7L1075.3 351.4L1075.4 362.7L1075.6 368.0L1075.8 365.1L1075.9 360.5L1076.1 372.0L1076.2 367.6L1076.4 368.3L1076.6 345.6L1076.7 364.1L1076.9 379.8L1077.0 357.5L1077.2 343.8L1077.4 370.2L1077.5 342.7L1077.7 362.2L1077.8 353.2L1078.0 365.0L1078.2 362.1L1078.3 369.1L1078.5 367.1L1078.6 375.0L1078.8 348.7L1079.0 366.2L1079.1 354.0L1079.3 354.0L1079.4 361.4L1079.6 355.9L1079.8 357.0L1079.9 360.3L1080.1 356.2L1080.2 356.5L1080.4 365.1L1080.6 367.5L1080.7 364.3L1080.9 357.1L1081.0 347.6L1081.2 347.0L1081.4 355.7L1081.5 350.7L1081.7 356.6L1081.8 348.6L1082.0 355.5L1082.2 352.8L1082.3 357.2L1082.5 354.3L1082.6 339.2L1082.8 361.4L1083.0 351.7L1083.1 355.2L1083.3 343.0L1083.4 336.0L1083.6 350.8L1083.8 366.3L1083.9 342.5L1084.1 341.7L1084.2 357.2L1084.4 346.0L1084.6 343.8L1084.7 358.2L1084.9 336.4L1085.0 336.8L1085.2 336.7L1085.4 343.8L1085.5 339.8L1085.7 337.4L1085.8 328.3L1086.0 335.3L1086.2 317.8L1086.3 321.9L1086.5 334.1L1086.6 308.7L1086.8 314.0L1087.0 314.0L1087.1 306.2L1087.3 311.1L1087.4 295.7L1087.6 301.9L1087.8 288.3L1087.9 270.6L1088.1 262.6L1088.2 258.5L1088.4 249.0L1088.6 230.4L1088.7 218.9L1088.9 202.4L1089.0 184.3L1089.2 168.9L1089.4 147.1L1089.5 131.9L1089.7 111.0L1089.8 99.1L1090.0 90.6L1090.2 90.6L1090.3 90.6L1090.5 90.9L1090.6 102.9L1090.8 118.1L1091.0 135.8L1091.1 155.0L1091.3 176.8L1091.4 195.9L1091.6 213.0L1091.8 222.7L1091.9 236.8L1092.1 248.7L1092.2 258.2L1092.4 269.5L1092.6 281.3L1092.7 291.5L1092.9 300.6L1093.0 291.9L1093.2 298.8L1093.4 315.7L1093.5 314.5L1093.7 314.5L1093.8 311.3L1094.0 327.3L1094.2 325.4L1094.3 321.7L1094.5 342.1L1094.6 337.8L1094.8 335.1L1095.0 341.2L1095.1 323.7L1095.3 333.4L1095.4 339.2L1095.6 348.5L1095.8 336.9L1095.9 339.6L1096.1 348.8L1096.2 349.3L1096.4 357.8L1096.6 348.7L1096.7 342.7L1096.9 342.6L1097.0 346.5L1097.2 345.5L1097.4 356.7L1097.5 356.4L1097.7 344.3L1097.8 350.3L1098.0 360.0L1098.2 350.4L1098.3 348.0L1098.5 349.1L1098.6 353.8L1098.8 358.7L1099.0 351.8L1099.1 342.0L1099.3 354.1L1099.4 360.6L1099.6 352.9L1099.8 365.3L1099.9 354.0L1100.1 358.3L1100.2 348.5L1100.4 355.4L1100.6 348.1L1100.7 338.4L1100.9 358.4L1101.0 363.4L1101.2 353.3L1101.4 357.8L1101.5 356.2L1101.7 362.2L1101.8 353.2L1102.0 357.3L1102.2 375.2L1102.3 360.1L1102.5 355.8L1102.6 349.3L1102.8 363.6L1103.0 365.7L1103.1 350.3L1103.3 364.6L1103.4 359.0L1103.6 356.2L1103.8 354.1L1103.9 360.0L1104.1 369.0L1104.2 351.9L1104.4 363.5L1104.6 364.2L1104.7 343.9L1104.9 353.0L1105.0 368.7L1105.2 364.2L1105.4 362.4L1105.5 366.6L1105.7 376.3L1105.8 354.6L1106.0 355.1L1106.2 359.6L1106.3 365.1L1106.5 360.4L1106.6 357.1L1106.8 370.9L1107.0 365.2L1107.1 367.0L1107.3 356.8L1107.4 360.2L1107.6 372.7L1107.8 367.1L1107.9 347.7L1108.1 369.8L1108.2 360.7L1108.4 367.0L1108.6 351.8L1108.7 362.4L1108.9 365.5L1109.0 371.6L1109.2 364.2L1109.4 355.6L1109.5 357.1L1109.7 373.6L1109.8 350.4L1110.0 365.3L1110.2 372.1L1110.3 362.7L1110.5 369.0L1110.6 368.7L1110.8 369.2L1111.0 364.8L1111.1 368.1L1111.3 377.8L1111.4 359.6L1111.6 367.9L1111.8 353.8L1111.9 359.0L1112.1 358.2L1112.2 361.5L1112.4 352.2L1112.6 365.1L1112.7 370.3L1112.9 359.2L1113.0 382.3L1113.2 364.7L1113.4 359.8L1113.5 364.9L1113.7 351.3L1113.8 355.8L1114.0 360.6L1114.2 364.8L1114.3 352.7L1114.5 367.2L1114.6 365.2L1114.8 355.9L1115.0 357.2L1115.1 345.6L1115.3 364.1L1115.4 377.7L1115.6 357.0L1115.8 352.0L1115.9 363.5L1116.1 349.2L1116.2 347.1L1116.4 366.6L1116.6 364.7L1116.7 370.6L1116.9 355.6L1117.0 353.8L1117.2 354.4L1117.4 369.2L1117.5 365.2L1117.7 370.6L1117.8 372.1L1118.0 370.0L1118.2 372.1L1118.3 361.0L1118.5 356.4L1118.6 355.1L1118.8 360.7L1119.0 366.3L1119.1 361.2L1119.3 356.7L1119.4 363.9L1119.6 361.1L1119.8 364.0L1119.9 365.6L1120.1 360.8L1120.2 369.8L1120.4 351.8L1120.6 372.8L1120.7 356.0L1120.9 370.7L1121.0 347.2L1121.2 352.4L1121.4 366.1L1121.5 363.3L1121.7 369.0L1121.8 360.6L1122.0 357.1L1122.2 340.2L1122.3 372.2L1122.5 351.3L1122.6 366.5L1122.8 359.8L1123.0 355.2L1123.1 358.1L1123.3 359.3L1123.4 364.5L1123.6 363.1L1123.8 361.9L1123.9 353.4L1124.1 375.2L1124.2 367.3L1124.4 373.5L1124.6 371.3L1124.7 369.9L1124.9 354.5L1125.0 346.0L1125.2 352.3L1125.4 372.9L1125.5 362.6L1125.7 372.3L1125.8 359.2L1126.0 352.4L1126.2 357.7L1126.3 355.3L1126.5 363.4L1126.6 378.1L1126.8 378.1L1127.0 362.7L1127.1 357.1L1127.3 351.3L1127.4 364.4L1127.6 360.9L1127.8 359.4L1127.9 352.8L1128.1 362.1L1128.2 370.5L1128.4 352.9L1128.6 358.5L1128.7 358.8L1128.9 372.4L1129.0 362.2L1129.2 376.2L1129.4 378.6L1129.5 364.2L1129.7 365.9L1129.8 357.8L1130.0 350.7L1130.2 362.8L1130.3 348.0L1130.5 367.4L1130.6 356.5L1130.8 373.0L1131.0 361.6L1131.1 365.1L1131.3 364.1L1131.4 357.6L1131.6 377.6L1131.8 361.3L1131.9 368.9L1132.1 361.4L1132.2 359.2L1132.4 365.5L1132.6 365.5L1132.7 371.8L1132.9 357.9L1133.0 367.7L1133.2 358.4L1133.4 373.4L1133.5 350.5L1133.7 369.7L1133.8 351.7L1134.0 364.6L1134.2 356.4L1134.3 361.9L1134.5 355.2L1134.6 360.7L1134.8 350.5L1135.0 355.5L1135.1 355.6L1135.3 347.7L1135.4 367.2L1135.6 351.1L1135.8 361.4L1135.9 374.4L1136.1 358.8L1136.2 364.7L1136.4 349.6L1136.6 367.6L1136.7 363.5L1136.9 362.3L1137.0 380.0L1137.2 360.7L1137.4 373.3L1137.5 354.1L1137.7 352.3L1137.8 366.2L1138.0 379.3L1138.2 365.1L1138.3 365.2L1138.5 360.8L1138.6 368.9L1138.8 376.1L1139.0 367.3L1139.1 373.4L1139.3 351.0L1139.4 370.7L1139.6 369.8L1139.8 364.4L1139.9 373.6L1140.1 366.7L1140.2 363.8L1140.4 366.4L1140.6 364.2L1140.7 351.9L1140.9 358.3L1141.0 372.6L1141.2 365.2L1141.4 355.7L1141.5 367.2L1141.7 361.4L1141.8 362.4L1142.0 357.9L1142.2 363.8L1142.3 363.5L1142.5 369.3L1142.6 359.3L1142.8 369.8L1143.0 348.0L1143.1 362.2L1143.3 363.8L1143.4 355.5L1143.6 362.6L1143.8 361.1L1143.9 362.3L1144.1 367.8L1144.2 369.4L1144.4 367.8L1144.6 353.0L1144.7 367.4L1144.9 365.8L1145.0 366.2L1145.2 356.9L1145.4 346.5L1145.5 370.0L1145.7 357.9L1145.8 361.2L1146.0 364.4L1146.2 357.4L1146.3 371.4L1146.5 353.9L1146.6 358.4L1146.8 367.8L1147.0 346.4L1147.1 352.1L1147.3 349.2L1147.4 370.3L1147.6 360.5L1147.8 362.4L1147.9 353.1L1148.1 347.2L1148.2 373.8L1148.4 358.4L1148.6 359.8L1148.7 350.9L1148.9 359.6L1149.0 369.8L1149.2 361.2L1149.4 368.3L1149.5 366.4L1149.7 359.9L1149.8 364.3L1150.0 358.4L1150.2 373.2L1150.3 342.2L1150.5 351.0L1150.6 355.6L1150.8 372.1L1151.0 379.3L1151.1 369.0L1151.3 364.0L1151.4 344.1L1151.6 351.7L1151.8 366.6L1151.9 352.6L1152.1 352.5L1152.2 362.3L1152.4 352.4L1152.6 359.5L1152.7 367.4L1152.9 371.4L1153.0 362.6L1153.2 353.2L1153.4 371.9L1153.5 373.7L1153.7 355.8L1153.8 380.5L1154.0 344.7L1154.2 362.8L1154.3 353.0L1154.5 343.7L1154.6 370.4L1154.8 367.0L1155.0 340.1L1155.1 360.6L1155.3 359.3L1155.4 356.4L1155.6 349.8L1155.8 347.7L1155.9 357.7L1156.1 361.4L1156.2 359.1L1156.4 356.5L1156.6 348.4L1156.7 358.0L1156.9 344.4L1157.0 366.1L1157.2 354.9L1157.4 344.9L1157.5 348.7L1157.7 356.5L1157.8 366.4L1158.0 365.1L1158.2 360.7L1158.3 357.0L1158.5 361.6L1158.6 371.5L1158.8 365.8L1159.0 355.7L1159.1 353.1L1159.3 371.3L1159.4 363.0L1159.6 373.6L1159.8 364.6L1159.9 339.4L1160.1 359.5L1160.2 362.8L1160.4 364.7L1160.6 369.5L1160.7 374.6L1160.9 359.5L1161.0 361.2L1161.2 346.6L1161.4 371.6L1161.5 354.6L1161.7 347.0L1161.8 373.5L1162.0 352.0L1162.2 370.3L1162.3 352.7L1162.5 344.8L1162.6 356.6L1162.8 354.0L1163.0 361.7L1163.1 353.5L1163.3 346.4L1163.4 356.8L1163.6 356.2L1163.8 351.7L1163.9 348.0L1164.1 367.8L1164.2 353.9L1164.4 359.8L1164.6 350.1L1164.7 345.7L1164.9 351.6L1165.0 343.7L1165.2 362.3L1165.4 357.7L1165.5 362.6L1165.7 354.3L1165.8 354.2L1166.0 356.8L1166.2 365.1L1166.3 356.0L1166.5 359.0L1166.6 350.6L1166.8 357.7L1167.0 346.0L1167.1 353.6L1167.3 370.5L1167.4 356.7L1167.6 366.9L1167.8 347.4L1167.9 343.5L1168.1 355.4L1168.2 351.5L1168.4 366.8L1168.6 373.3L1168.7 359.5L1168.9 357.0L1169.0 367.2L1169.2 354.1L1169.4 352.3L1169.5 349.6L1169.7 342.3L1169.8 348.3L1170.0 357.8L1170.2 353.9L1170.3 349.8L1170.5 363.1L1170.6 343.7L1170.8 347.0L1171.0 356.0L1171.1 359.2L1171.3 333.2L1171.4 346.8L1171.6 345.7L1171.8 338.5L1171.9 345.0L1172.1 351.0L1172.2 346.8L1172.4 359.7L1172.6 346.3L1172.7 364.5L1172.9 348.4L1173.0 347.2L1173.2 364.3L1173.4 336.0L1173.5 361.0L1173.7 343.3L1173.8 356.2L1174.0 349.5L1174.2 357.6L1174.3 332.2L1174.5 344.3L1174.6 338.2L1174.8 346.7L1175.0 347.7L1175.1 352.3L1175.3 355.7L1175.4 349.0L1175.6 352.8L1175.8 355.4L1175.9 365.5L1176.1 356.8L1176.2 349.5L1176.4 358.2L1176.6 351.5L1176.7 355.5L1176.9 362.6L1177.0 361.5L1177.2 360.1L1177.4 356.3L1177.5 355.9L1177.7 344.6L1177.8 362.5L1178.0 370.2L1178.2 347.8L1178.3 357.0L1178.5 354.1L1178.6 332.5L1178.8 340.8L1179.0 347.6L1179.1 344.4L1179.3 350.7L1179.4 343.5L1179.6 355.9L1179.8 356.4L1179.9 354.0L1180.1 337.0L1180.2 336.8L1180.4 354.2L1180.6 339.6L1180.7 350.2L1180.9 340.0L1181.0 351.2L1181.2 340.8L1181.4 349.5L1181.5 350.9L1181.7 348.9L1181.8 347.6L1182.0 353.9L1182.2 360.5L1182.3 335.7L1182.5 353.0L1182.6 364.8L1182.8 368.7L1183.0 371.2L1183.1 355.4L1183.3 339.3L1183.4 363.8L1183.6 353.1L1183.8 365.5L1183.9 341.5L1184.1 347.5L1184.2 347.8L1184.4 339.3L1184.6 336.8L1184.7 341.6L1184.9 354.6L1185.0 360.5L1185.2 358.0L1185.4 363.7L1185.5 334.5L1185.7 350.7L1185.8 347.9L1186.0 347.3L1186.2 332.3L1186.3 353.3L1186.5 338.9L1186.6 345.9L1186.8 349.4L1187.0 363.7L1187.1 340.3L1187.3 353.8L1187.4 351.3L1187.6 345.6L1187.8 346.6L1187.9 338.1L1188.1 352.7L1188.2 345.9L1188.4 345.0L1188.6 347.1L1188.7 341.8L1188.9 349.5L1189.0 337.7L1189.2 353.4L1189.4 359.5L1189.5 348.2L1189.7 338.3L1189.8 352.2L1190.0 353.1L1190.2 350.8L1190.3 346.5L1190.5 349.1L1190.6 344.9L1190.8 361.2L1191.0 334.6L1191.1 341.8L1191.3 353.3L1191.4 334.7L1191.6 341.9L1191.8 333.3L1191.9 354.6L1192.1 331.0L1192.2 343.9L1192.4 360.7L1192.6 337.4L1192.7 345.6L1192.9 351.1L1193.0 344.2L1193.2 358.0L1193.4 337.1L1193.5 343.3L1193.7 343.5L1193.8 329.6L1194.0 340.7L1194.2 346.3L1194.3 348.6L1194.5 341.3L1194.6 332.2L1194.8 345.7L1195.0 349.6L1195.1 333.7L1195.3 341.0L1195.4 341.9L1195.6 324.7L1195.8 351.9L1195.9 340.4L1196.1 356.5L1196.2 344.3L1196.4 336.9L1196.6 332.2L1196.7 351.5L1196.9 334.0L1197.0 334.1L1197.2 341.2L1197.4 319.7L1197.5 339.6L1197.7 346.5L1197.8 335.6L1198.0 354.1L1198.2 326.0L1198.3 330.7L1198.5 342.1L1198.6 333.9L1198.8 334.7L1199.0 323.5L1199.1 344.6L1199.3 350.4L1199.4 356.7L1199.6 342.7L1199.8 353.3L1199.9 341.9L1200.1 337.2L1200.2 344.2L1200.4 348.2L1200.6 330.6L1200.7 341.9L1200.9 338.2L1201.0 332.1L1201.2 350.4L1201.4 347.2L1201.5 319.1L1201.7 340.6L1201.8 347.6L1202.0 340.9L1202.2 343.3L1202.3 348.4L1202.5 341.4L1202.6 337.9L1202.8 337.6L1203.0 332.8L1203.1 351.2L1203.3 349.0L1203.4 330.0L1203.6 339.9L1203.8 326.2L1203.9 333.5L1204.1 347.5L1204.2 331.5L1204.4 344.2L1204.6 333.8L1204.7 325.9L1204.9 318.8L1205.0 336.7L1205.2 330.4L1205.4 333.6L1205.5 329.6L1205.7 356.9L1205.8 339.1L1206.0 333.5L1206.2 331.9L1206.3 341.9L1206.5 328.9L1206.6 326.6L1206.8 335.1L1207.0 337.6L1207.1 338.7L1207.3 334.8L1207.4 326.5L1207.6 324.1L1207.8 340.4L1207.9 344.4L1208.1 343.4L1208.2 329.0L1208.4 335.3L1208.6 334.6L1208.7 332.9L1208.9 333.5L1209.0 337.2L1209.2 344.2L1209.4 340.2L1209.5 333.6L1209.7 330.8L1209.8 336.4L1210.0 336.1L1210.2 320.9L1210.3 335.3L1210.5 329.1L1210.6 333.0L1210.8 336.9L1211.0 341.9L1211.1 333.5L1211.3 335.5L1211.4 321.6L1211.6 337.7L1211.8 331.6L1211.9 322.8L1212.1 329.0L1212.2 324.1L1212.4 321.3L1212.6 341.7L1212.7 331.6L1212.9 336.2L1213.0 317.6L1213.2 329.7L1213.4 325.0L1213.5 315.5L1213.7 332.6L1213.8 329.5L1214.0 327.0L1214.2 332.8L1214.3 320.6L1214.5 324.2L1214.6 322.8L1214.8 330.5L1215.0 333.7L1215.1 333.6L1215.3 333.6L1215.4 343.7L1215.6 327.2L1215.8 323.3L1215.9 329.7L1216.1 333.3L1216.2 328.8L1216.4 327.0L1216.6 326.0L1216.7 313.9L1216.9 335.2L1217.0 325.2L1217.2 322.5L1217.4 327.4L1217.5 329.9L1217.7 336.3L1217.8 332.8L1218.0 322.3L1218.2 316.2L1218.3 333.1L1218.5 323.9L1218.6 323.4L1218.8 319.4L1219.0 325.5L1219.1 323.8L1219.3 320.1L1219.4 336.7L1219.6 327.0L1219.8 341.6L1219.9 343.2L1220.1 333.9L1220.2 339.6L1220.4 323.0L1220.6 318.9L1220.7 329.2L1220.9 327.7L1221.0 328.4L1221.2 328.4L1221.4 325.0L1221.5 323.1L1221.7 329.5L1221.8 331.9L1222.0 329.6L1222.2 318.9L1222.3 328.6L1222.5 313.5L1222.6 327.1L1222.8 314.2L1223.0 334.8L1223.1 330.8L1223.3 321.5L1223.4 321.6L1223.6 326.9L1223.8 309.5L1223.9 325.4L1224.1 323.8L1224.2 330.8L1224.4 313.0L1224.6 319.4L1224.7 322.8L1224.9 339.1L1225.0 322.8L1225.2 329.0L1225.4 321.6L1225.5 316.9L1225.7 329.5L1225.8 321.0L1226.0 314.9L1226.2 319.9L1226.3 323.1L1226.5 328.4L1226.6 324.7L1226.8 329.0L1227.0 310.6L1227.1 317.4L1227.3 327.8L1227.4 318.1L1227.6 328.3L1227.8 339.0L1227.9 308.6L1228.1 309.0L1228.2 330.3L1228.4 324.4L1228.6 317.2L1228.7 322.0L1228.9 325.8L1229.0 323.1L1229.2 320.8L1229.4 323.1L1229.5 316.8L1229.7 320.0L1229.8 323.9L1230.0 317.2L1230.2 330.3L1230.3 305.3L1230.5 330.4L1230.6 317.0L1230.8 313.4L1231.0 312.6L1231.1 313.7L1231.3 305.6L1231.4 324.5L1231.6 316.0L1231.8 314.1L1231.9 319.1L1232.1 319.8L1232.2 304.6L1232.4 320.4L1232.6 318.5L1232.7 316.8L1232.9 316.3L1233.0 313.3L1233.2 316.2L1233.4 311.6L1233.5 313.5L1233.7 310.8L1233.8 303.8L1234.0 321.5L1234.2 301.8L1234.3 318.7L1234.5 310.0L1234.6 314.2L1234.8 318.0L1235.0 331.5L1235.1 303.2L1235.3 322.1L1235.4 322.4L1235.6 307.7L1235.8 315.4L1235.9 300.8L1236.1 302.3L1236.2 309.8L1236.4 313.2L1236.6 308.9L1236.7 325.1L1236.9 313.0L1237.0 312.9L1237.2 317.6L1237.4 311.6L1237.5 325.0L1237.7 306.2L1237.8 303.0L1238.0 323.4L1238.2 311.9L1238.3 300.8L1238.5 309.7L1238.6 321.2L1238.8 320.8L1239.0 306.2L1239.1 298.4L1239.3 321.5L1239.4 312.5L1239.6 318.8L1239.8 314.8L1239.9 309.9L1240.1 312.5L1240.2 317.3L1240.4 295.0L1240.6 312.6L1240.7 312.5L1240.9 302.0L1241.0 310.3L1241.2 311.7L1241.4 302.2L1241.5 317.6L1241.7 303.2L1241.8 300.6L1242.0 303.3L1242.2 309.7L1242.3 308.2L1242.5 321.6L1242.6 309.0L1242.8 305.8L1243.0 301.4L1243.1 307.3L1243.3 311.8L1243.4 315.7L1243.6 309.8L1243.8 308.8L1243.9 300.9L1244.1 310.8L1244.2 315.3L1244.4 312.7L1244.6 316.0L1244.7 314.3L1244.9 329.9L1245.0 325.0L1245.2 321.7L1245.4 308.4L1245.5 312.3L1245.7 310.1L1245.8 301.7L1246.0 318.5L1246.2 300.9L1246.3 306.4L1246.5 314.6L1246.6 297.0L1246.8 319.6L1247.0 317.1L1247.1 309.8L1247.3 304.9L1247.4 309.6L1247.6 324.9L1247.8 310.5L1247.9 308.8L1248.1 288.1L1248.2 297.3L1248.4 307.0L1248.6 316.4L1248.7 304.9L1248.9 316.5L1249.0 305.5L1249.2 303.9L1249.4 309.7L1249.5 304.4L1249.7 308.8L1249.8 310.7L1250.0 294.1L1250.2 301.6L1250.3 308.6L1250.5 312.3L1250.6 305.0L1250.8 302.1L1251.0 300.0L1251.1 295.2L1251.3 303.2L1251.4 315.6L1251.6 290.8L1251.8 297.4L1251.9 299.8L1252.1 295.5L1252.2 317.3L1252.4 308.1L1252.6 308.8L1252.7 295.0L1252.9 313.2L1253.0 306.1L1253.2 291.4L1253.4 297.9L1253.5 305.8L1253.7 287.8L1253.8 312.8L1254.0 298.7L1254.2 304.0L1254.3 298.1L1254.5 304.3L1254.6 308.8L1254.8 300.6L1255.0 312.8L1255.1 298.5L1255.3 305.4L1255.4 296.0L1255.6 307.0L1255.8 309.0L1255.9 300.9L1256.1 294.6L1256.2 320.8L1256.4 303.8L1256.6 300.0L1256.7 316.2L1256.9 312.0L1257.0 300.1L1257.2 311.6L1257.4 310.0L1257.5 291.4L1257.7 312.1L1257.8 311.3L1258.0 322.6L1258.2 313.0L1258.3 314.1L1258.5 291.0L1258.6 294.9L1258.8 314.5L1259.0 289.3L1259.1 298.9L1259.3 306.7L1259.4 299.2L1259.6 302.9L1259.8 312.3L1259.9 320.4L1260.1 314.0L1260.2 307.2L1260.4 310.1L1260.6 313.2L1260.7 299.7L1260.9 315.5L1261.0 299.9L1261.2 310.4L1261.4 305.3L1261.5 314.6L1261.7 305.4L1261.8 311.0L1262.0 318.1L1262.2 304.2L1262.3 304.0L1262.5 296.8L1262.6 300.8L1262.8 310.7L1263.0 307.4L1263.1 321.9L1263.3 311.2L1263.4 292.3L1263.6 290.7L1263.8 296.7L1263.9 300.4L1264.1 298.3L1264.2 299.2L1264.4 316.6L1264.6 309.9L1264.7 293.7L1264.9 293.6L1265.0 300.9L1265.2 305.0L1265.4 305.4L1265.5 306.5L1265.7 309.4L1265.8 317.1L1266.0 300.8L1266.2 305.4L1266.3 303.6L1266.5 288.5L1266.6 297.5L1266.8 307.9L1267.0 298.1L1267.1 314.7L1267.3 295.0L1267.4 301.5L1267.6 305.4L1267.8 299.7L1267.9 292.9L1268.1 308.2L1268.2 312.4L1268.4 288.0L1268.6 304.5L1268.7 292.9L1268.9 309.9L1269.0 301.5L1269.2 309.5L1269.4 277.4L1269.5 306.7L1269.7 309.8L1269.8 292.5L1270.0 302.1L1270.2 320.9L1270.3 306.9L1270.5 312.5L1270.6 315.0L1270.8 310.2L1271.0 309.4L1271.1 305.5L1271.3 312.1L1271.4 320.4L1271.6 309.9L1271.8 298.6L1271.9 316.0L1272.1 300.1L1272.2 301.0L1272.4 307.8L1272.6 301.6L1272.7 309.6L1272.9 306.7L1273.0 311.4L1273.2 299.6L1273.4 292.5L1273.5 308.8L1273.7 294.1L1273.8 320.6L1274.0 311.0L1274.2 312.2L1274.3 290.9L1274.5 309.4L1274.6 298.8L1274.8 321.4L1275.0 304.6L1275.1 301.3L1275.3 306.4L1275.4 327.0L1275.6 305.2L1275.8 300.4L1275.9 296.7L1276.1 304.2L1276.2 320.9L1276.4 309.3L1276.6 300.6L1276.7 314.4L1276.9 303.5L1277.0 311.9L1277.2 307.4L1277.4 302.2L1277.5 313.9L1277.7 287.8L1277.8 307.3L1278.0 305.9L1278.2 314.6L1278.3 308.3L1278.5 311.0L1278.6 320.5L1278.8 321.2L1279.0 306.8L1279.1 309.9L1279.3 330.0L1279.4 326.4L1279.6 311.9L1279.8 310.1L1279.9 304.9L1280.1 319.6L1280.2 305.2L1280.4 312.4L1280.6 314.1L1280.7 311.2L1280.9 302.2L1281.0 305.6L1281.2 302.9L1281.4 315.4L1281.5 312.2L1281.7 319.2L1281.8 314.3L1282.0 313.0L1282.2 313.4L1282.3 303.9L1282.5 306.1L1282.6 303.3L1282.8 308.1L1283.0 300.4L1283.1 307.9L1283.3 301.1L1283.4 304.8L1283.6 303.0L1283.8 309.5L1283.9 319.1L1284.1 321.0L1284.2 294.3L1284.4 307.1L1284.6 307.1L1284.7 312.3L1284.9 315.0L1285.0 291.1L1285.2 321.0L1285.4 313.0L1285.5 313.2L1285.7 322.1L1285.8 323.5L1286.0 319.1L1286.2 316.4L1286.3 317.5L1286.5 307.2L1286.6 323.0L1286.8 310.4L1287.0 301.8L1287.1 306.4L1287.3 322.5L1287.4 334.2L1287.6 307.0L1287.8 309.9L1287.9 318.8L1288.1 304.2L1288.2 317.9L1288.4 314.1L1288.6 323.5L1288.7 313.0L1288.9 319.3L1289.0 320.1L1289.2 307.8L1289.4 314.8L1289.5 328.5L1289.7 311.1L1289.8 309.9L1290.0 323.1L1290.2 319.5L1290.3 315.7L1290.5 317.9L1290.6 314.7L1290.8 310.3L1291.0 319.2L1291.1 298.6L1291.3 320.7L1291.4 319.2L1291.6 299.2L1291.8 295.9L1291.9 314.5L1292.1 316.3L1292.2 323.3L1292.4 305.6L1292.6 313.3L1292.7 321.4L1292.9 311.4L1293.0 303.7L1293.2 309.1L1293.4 297.0L1293.5 305.3L1293.7 311.0L1293.8 314.8L1294.0 310.3L1294.2 305.1L1294.3 308.2L1294.5 306.8L1294.6 313.7L1294.8 309.6L1295.0 306.3L1295.1 317.5L1295.3 326.6L1295.4 302.8L1295.6 312.0L1295.8 320.2L1295.9 314.8L1296.1 318.5L1296.2 330.0L1296.4 317.8L1296.6 327.6L1296.7 314.5L1296.9 316.9L1297.0 306.9L1297.2 316.8L1297.4 312.9L1297.5 318.3L1297.7 319.0L1297.8 327.2L1298.0 308.3L1298.2 314.9L1298.3 321.0L1298.5 314.9L1298.6 320.0L1298.8 322.6L1299.0 315.1L1299.1 307.6L1299.3 319.7L1299.4 329.1L1299.6 322.8L1299.8 303.9L1299.9 324.8L1300.1 309.0L1300.2 320.5L1300.4 312.8L1300.6 319.6L1300.7 331.5L1300.9 322.3L1301.0 302.4L1301.2 320.4L1301.4 315.0L1301.5 322.3L1301.7 320.8L1301.8 317.4L1302.0 316.3L1302.2 302.7L1302.3 320.6L1302.5 322.2L1302.6 326.3L1302.8 331.8L1303.0 334.6L1303.1 316.9L1303.3 337.4L1303.4 311.7L1303.6 316.4L1303.8 325.8L1303.9 332.8L1304.1 323.6L1304.2 323.7L1304.4 315.0L1304.6 329.9L1304.7 327.0L1304.9 324.4L1305.0 326.3L1305.2 329.1L1305.4 337.9L1305.5 337.5L1305.7 330.1L1305.8 326.8L1306.0 317.4L1306.2 307.4L1306.3 312.6L1306.5 323.6L1306.6 312.3L1306.8 328.7L1307.0 332.5L1307.1 310.4L1307.3 337.7L1307.4 332.9L1307.6 332.0L1307.8 318.6L1307.9 335.1L1308.1 324.3L1308.2 333.7L1308.4 340.2L1308.6 328.6L1308.7 329.0L1308.9 339.3L1309.0 336.8L1309.2 335.9L1309.4 321.6L1309.5 325.3L1309.7 326.8L1309.8 324.6L1310.0 332.0L1310.2 324.3L1310.3 332.8L1310.5 338.4L1310.6 333.4L1310.8 326.1L1311.0 327.0L1311.1 319.3L1311.3 341.2L1311.4 329.6L1311.6 324.8L1311.8 335.8L1311.9 326.3L1312.1 331.7L1312.2 337.6L1312.4 319.8L1312.6 339.8L1312.7 320.9L1312.9 332.1L1313.0 336.2L1313.2 335.7L1313.4 334.4L1313.5 335.1L1313.7 326.2L1313.8 343.1L1314.0 318.4L1314.2 321.6L1314.3 317.3L1314.5 336.3L1314.6 347.1L1314.8 333.9L1315.0 330.5L1315.1 327.1L1315.3 334.0L1315.4 330.9L1315.6 329.5L1315.8 343.4L1315.9 317.1L1316.1 340.8L1316.2 330.0L1316.4 323.7L1316.6 338.6L1316.7 332.4L1316.9 319.4L1317.0 334.5L1317.2 323.9L1317.4 329.8L1317.5 330.2L1317.7 326.2L1317.8 333.6L1318.0 333.4L1318.2 324.1L1318.3 329.6L1318.5 327.9L1318.6 341.5L1318.8 332.1L1319.0 322.8L1319.1 325.6L1319.3 330.4L1319.4 337.6L1319.6 338.8L1319.8 330.9L1319.9 323.5L1320.1 334.8L1320.2 325.0L1320.4 338.0L1320.6 326.4L1320.7 344.1L1320.9 334.8L1321.0 345.0L1321.2 331.5L1321.4 332.4L1321.5 344.7L1321.7 343.2L1321.8 340.9L1322.0 349.2L1322.2 344.8L1322.3 344.4L1322.5 331.3L1322.6 326.6L1322.8 341.2L1323.0 340.1L1323.1 336.2L1323.3 342.1L1323.4 340.3L1323.6 331.6L1323.8 336.6L1323.9 339.2L1324.1 343.1L1324.2 327.0L1324.4 343.5L1324.6 337.7L1324.7 346.8L1324.9 343.2L1325.0 337.7L1325.2 341.5L1325.4 334.0L1325.5 337.5L1325.7 348.9L1325.8 356.1L1326.0 329.7L1326.2 342.1L1326.3 325.6L1326.5 337.1L1326.6 343.2L1326.8 332.6L1327.0 339.2L1327.1 336.9L1327.3 344.3L1327.4 331.9L1327.6 328.4L1327.8 341.4L1327.9 323.2L1328.1 342.1L1328.2 335.9L1328.4 351.1L1328.6 353.6L1328.7 322.0L1328.9 327.7L1329.0 330.2L1329.2 353.2L1329.4 338.3L1329.5 337.1L1329.7 340.1L1329.8 338.7L1330.0 348.6L1330.2 342.8L1330.3 350.7L1330.5 344.6L1330.6 338.9L1330.8 348.1L1331.0 344.1L1331.1 345.3L1331.3 341.7L1331.4 334.5L1331.6 339.9L1331.8 338.7L1331.9 353.3L1332.1 344.9L1332.2 335.6L1332.4 349.1L1332.6 345.9L1332.7 350.4L1332.9 332.3L1333.0 346.7L1333.2 349.0L1333.4 338.5L1333.5 334.8L1333.7 339.7L1333.8 335.8L1334.0 342.0L1334.2 344.8L1334.3 347.3L1334.5 347.9L1334.6 348.8L1334.8 341.3L1335.0 345.4L1335.1 344.0L1335.3 340.2L1335.4 345.8L1335.6 356.6L1335.8 352.3L1335.9 355.2L1336.1 361.8L1336.2 346.1L1336.4 356.7L1336.6 357.6L1336.7 356.1L1336.9 340.7L1337.0 350.1L1337.2 339.7L1337.4 348.2L1337.5 350.7L1337.7 342.5L1337.8 342.0L1338.0 345.5L1338.2 354.4L1338.3 349.5L1338.5 355.0L1338.6 347.4L1338.8 344.4L1339.0 333.2L1339.1 333.7L1339.3 339.4L1339.4 337.2L1339.6 343.0L1339.8 324.3L1339.9 333.0L1340.1 324.7L1340.2 342.6L1340.4 342.6L1340.6 337.9L1340.7 345.1L1340.9 344.5L1341.0 355.2L1341.2 340.2L1341.4 346.8L1341.5 341.6L1341.7 349.9L1341.8 362.3L1342.0 344.2L1342.2 338.9L1342.3 358.2L1342.5 355.6L1342.6 350.2L1342.8 349.6L1343.0 361.1L1343.1 333.5L1343.3 339.4L1343.4 352.3L1343.6 361.9L1343.8 344.7L1343.9 332.0L1344.1 341.4L1344.2 339.0L1344.4 355.9L1344.6 346.8L1344.7 360.8L1344.9 333.4L1345.0 344.8L1345.2 366.4L1345.4 364.6L1345.5 346.3L1345.7 349.2L1345.8 352.9L1346.0 345.6L1346.2 334.6L1346.3 347.8L1346.5 365.2L1346.6 352.3L1346.8 361.6L1347.0 357.7L1347.1 348.9L1347.3 353.0L1347.4 360.3L1347.6 352.3L1347.8 358.8L1347.9 348.3L1348.1 354.6L1348.2 349.8L1348.4 355.1L1348.6 347.1L1348.7 354.1L1348.9 353.0L1349.0 357.4L1349.2 351.6L1349.4 366.8L1349.5 331.8L1349.7 357.8L1349.8 351.5L1350.0 355.8L1350.2 355.8L1350.3 348.6L1350.5 355.8L1350.6 355.2L1350.8 362.9L1351.0 359.4L1351.1 361.7L1351.3 338.4L1351.4 363.8L1351.6 362.1L1351.8 352.5L1351.9 343.2L1352.1 368.5L1352.2 367.8L1352.4 354.9L1352.6 353.5L1352.7 367.8L1352.9 371.0L1353.0 364.5L1353.2 351.0L1353.4 357.2L1353.5 350.8L1353.7 357.3L1353.8 356.4L1354.0 350.8L1354.2 356.2L1354.3 352.8L1354.5 361.3L1354.6 358.2L1354.8 349.1L1355.0 354.2L1355.1 357.7L1355.3 346.2L1355.4 346.7L1355.6 350.9L1355.8 356.7L1355.9 343.5L1356.1 330.8L1356.2 357.4L1356.4 363.3L1356.6 357.5L1356.7 359.0L1356.9 361.9L1357.0 361.5L1357.2 345.5L1357.4 345.6L1357.5 340.8L1357.7 346.8L1357.8 356.6L1358.0 344.2L1358.2 357.6L1358.3 355.5L1358.5 362.0L1358.6 342.8L1358.8 344.5L1359.0 356.2L1359.1 355.0L1359.3 352.3L1359.4 351.2L1359.6 346.3L1359.8 352.8L1359.9 350.5L1360.1 366.0L1360.2 356.8L1360.4 369.2L1360.6 341.2L1360.7 344.7L1360.9 350.6L1361.0 347.9L1361.2 341.2L1361.4 350.0L1361.5 370.5L1361.7 359.8L1361.8 377.1L1362.0 365.0L1362.2 368.5L1362.3 358.7L1362.5 355.5L1362.6 365.9L1362.8 360.8L1363.0 356.3L1363.1 359.7L1363.3 359.9L1363.4 330.6L1363.6 362.1L1363.8 352.3L1363.9 356.6L1364.1 370.5L1364.2 360.8L1364.4 356.6L1364.6 366.4L1364.7 353.3L1364.9 365.0L1365.0 361.2L1365.2 359.4L1365.4 340.8L1365.5 361.0L1365.7 362.9L1365.8 352.5L1366.0 361.8L1366.2 356.3L1366.3 375.5L1366.5 354.9L1366.6 357.1L1366.8 366.9L1367.0 345.5L1367.1 357.9L1367.3 357.2L1367.4 365.8L1367.6 368.1L1367.8 359.4L1367.9 366.8L1368.1 350.6L1368.2 347.5L1368.4 359.4L1368.6 367.2L1368.7 357.6L1368.9 363.1L1369.0 353.5L1369.2 353.6L1369.4 358.7L1369.5 355.0L1369.7 347.6L1369.8 342.6L1370.0 360.6L1370.2 351.0L1370.3 358.9L1370.5 365.6L1370.6 347.2L1370.8 354.5L1371.0 356.7L1371.1 355.2L1371.3 359.5L1371.4 366.7L1371.6 344.3L1371.8 351.3L1371.9 356.4L1372.1 350.9L1372.2 348.3L1372.4 360.1L1372.6 353.8L1372.7 360.9L1372.9 353.1L1373.0 360.1L1373.2 338.6L1373.4 360.6L1373.5 353.5L1373.7 353.8L1373.8 360.0L1374.0 349.8L1374.2 357.9L1374.3 360.5L1374.5 357.2L1374.6 363.3L1374.8 347.9L1375.0 352.5L1375.1 349.7L1375.3 368.3L1375.4 355.4L1375.6 363.8L1375.8 357.1L1375.9 347.8L1376.1 356.0L1376.2 359.5L1376.4 349.3L1376.6 350.3L1376.7 343.8L1376.9 373.4L1377.0 356.0L1377.2 362.0L1377.4 365.8L1377.5 358.0L1377.7 368.2L1377.8 376.8L1378.0 366.3L1378.2 361.2L1378.3 344.4L1378.5 365.0L1378.6 368.5L1378.8 375.0L1379.0 362.1L1379.1 361.2L1379.3 358.3L1379.4 371.1L1379.6 366.0L1379.8 378.3L1379.9 359.3L1380.1 373.5L1380.2 381.8L1380.4 352.6L1380.6 358.2L1380.7 359.7L1380.9 360.0L1381.0 371.2L1381.2 354.5L1381.4 371.5L1381.5 347.9L1381.7 361.2L1381.8 377.6L1382.0 355.8L1382.2 346.9L1382.3 364.4L1382.5 353.7L1382.6 363.7L1382.8 366.9L1383.0 382.2L1383.1 352.1L1383.3 365.6L1383.4 359.2L1383.6 371.5L1383.8 369.9L1383.9 354.1L1384.1 366.2L1384.2 366.4L1384.4 373.3L1384.6 361.5L1384.7 356.9L1384.9 366.5L1385.0 364.1L1385.2 372.0L1385.4 350.8L1385.5 366.6L1385.7 362.7L1385.8 347.9L1386.0 363.0L1386.2 373.5L1386.3 368.6L1386.5 364.2L1386.6 347.3L1386.8 359.9L1387.0 363.7L1387.1 355.6L1387.3 352.1L1387.4 368.9L1387.6 351.7L1387.8 356.5L1387.9 360.1L1388.1 382.9L1388.2 362.7L1388.4 353.5L1388.6 367.1L1388.7 346.7L1388.9 364.7L1389.0 373.7L1389.2 361.1L1389.4 363.7L1389.5 359.5L1389.7 368.1L1389.8 355.9L1390.0 370.8L1390.2 365.2L1390.3 376.1L1390.5 372.4L1390.6 364.2L1390.8 370.9L1391.0 369.0L1391.1 366.8L1391.3 362.8L1391.4 358.5L1391.6 358.2L1391.8 355.9L1391.9 362.3L1392.1 368.2L1392.2 376.5L1392.4 366.5L1392.6 370.1L1392.7 378.3L1392.9 350.5L1393.0 378.5L1393.2 360.8L1393.4 359.1L1393.5 365.3L1393.7 342.5L1393.8 362.9L1394.0 368.9L1394.2 348.2L1394.3 368.5L1394.5 373.4L1394.6 369.7L1394.8 366.7L1395.0 361.0L1395.1 358.6L1395.3 373.6L1395.4 358.5L1395.6 343.4L1395.8 367.3L1395.9 362.8L1396.1 356.3L1396.2 352.4L1396.4 367.7L1396.6 370.2L1396.7 370.8L1396.9 354.1L1397.0 355.8L1397.2 380.7L1397.4 380.6L1397.5 373.4L1397.7 375.6L1397.8 360.2L1398.0 361.8L1398.2 347.8L1398.3 357.3L1398.5 362.8L1398.6 354.4L1398.8 371.2L1399.0 375.4L1399.1 364.0L1399.3 356.7L1399.4 377.5L1399.6 357.2L1399.8 357.5L1399.9 368.5L1400.1 363.1L1400.2 366.6L1400.4 363.8L1400.6 357.9L1400.7 370.9L1400.9 356.1L1401.0 357.5L1401.2 357.2L1401.4 380.5L1401.5 379.7L1401.7 359.1L1401.8 369.4L1402.0 370.3L1402.2 370.9L1402.3 375.6L1402.5 367.0L1402.6 370.6L1402.8 370.1L1403.0 361.0L1403.1 374.5L1403.3 356.0L1403.4 383.2L1403.6 345.2L1403.8 376.7L1403.9 361.2L1404.1 358.7L1404.2 366.3L1404.4 360.3L1404.6 367.3L1404.7 380.7L1404.9 363.7L1405.0 357.3L1405.2 370.9L1405.4 380.1L1405.5 371.1L1405.7 363.5L1405.8 363.5L1406.0 356.8L1406.2 361.1L1406.3 361.4L1406.5 381.6L1406.6 347.3L1406.8 365.0L1407.0 358.4L1407.1 368.2L1407.3 366.7L1407.4 364.9L1407.6 352.5L1407.8 352.8L1407.9 359.9L1408.1 348.6L1408.2 367.6L1408.4 359.9L1408.6 367.5L1408.7 353.0L1408.9 363.0L1409.0 355.2L1409.2 349.1L1409.4 379.8L1409.5 345.4L1409.7 360.5L1409.8 365.9L1410.0 379.0L1410.2 366.2L1410.3 382.7L1410.5 363.6L1410.6 366.0L1410.8 350.1L1411.0 367.8L1411.1 356.5L1411.3 355.8L1411.4 348.5L1411.6 367.2L1411.8 358.9L1411.9 377.2L1412.1 373.7L1412.2 366.7L1412.4 364.5L1412.6 374.1L1412.7 367.5L1412.9 358.4L1413.0 367.7L1413.2 365.2L1413.4 371.2L1413.5 352.8L1413.7 349.6L1413.8 362.5L1414.0 365.1L1414.2 350.6L1414.3 360.3L1414.5 369.6L1414.6 375.1L1414.8 368.8L1415.0 345.9L1415.1 368.5L1415.3 342.7L1415.4 363.3L1415.6 364.8L1415.8 352.1L1415.9 364.8L1416.1 359.6L1416.2 371.2L1416.4 372.9L1416.6 368.8L1416.7 361.1L1416.9 368.6L1417.0 379.5L1417.2 359.9L1417.4 365.4L1417.5 366.7L1417.7 369.7L1417.8 383.4L1418.0 352.3L1418.2 369.5L1418.3 361.5L1418.5 354.6L1418.6 356.9L1418.8 364.5L1419.0 366.1L1419.1 363.5L1419.3 358.5L1419.4 360.9L1419.6 369.0L1419.8 361.5L1419.9 361.8L1420.1 359.0L1420.2 362.8L1420.4 353.1L1420.6 362.5L1420.7 356.7L1420.9 363.6L1421.0 368.6L1421.2 371.7L1421.4 365.3L1421.5 359.7L1421.7 353.8L1421.8 364.9L1422.0 368.4L1422.2 368.3L1422.3 353.6L1422.5 363.2L1422.6 368.0L1422.8 357.7L1423.0 374.3L1423.1 362.3L1423.3 363.2L1423.4 363.5L1423.6 371.4L1423.8 353.5L1423.9 347.3L1424.1 371.4L1424.2 359.2L1424.4 354.6L1424.6 341.1L1424.7 362.7L1424.9 366.8L1425.0 358.9L1425.2 342.2L1425.4 358.0L1425.5 356.3L1425.7 343.9L1425.8 375.7L1426.0 375.9L1426.2 350.8L1426.3 351.8L1426.5 369.4L1426.6 353.8L1426.8 357.6L1427.0 356.1L1427.1 364.2L1427.3 361.1L1427.4 364.3L1427.6 356.4L1427.8 358.4L1427.9 342.4L1428.1 350.7L1428.2 368.3L1428.4 351.7L1428.6 343.1L1428.7 352.1L1428.9 345.2L1429.0 354.0L1429.2 347.6L1429.4 360.6L1429.5 346.0L1429.7 363.2L1429.8 340.8L1430.0 363.0L1430.2 367.3L1430.3 345.0L1430.5 349.9L1430.6 346.7L1430.8 343.3L1431.0 346.1L1431.1 352.1L1431.3 342.2L1431.4 340.2L1431.6 338.2L1431.8 325.3L1431.9 347.0L1432.1 340.2L1432.2 336.2L1432.4 345.0L1432.6 351.9L1432.7 347.6L1432.9 335.3L1433.0 347.2L1433.2 341.0L1433.4 353.0L1433.5 344.3L1433.7 354.3L1433.8 356.4L1434.0 349.4L1434.2 350.7L1434.3 339.8L1434.5 365.8L1434.6 349.1L1434.8 340.8L1435.0 343.4L1435.1 358.3L1435.3 361.3L1435.4 360.3L1435.6 354.2L1435.8 355.6L1435.9 354.7L1436.1 353.0L1436.2 366.9L1436.4 367.7L1436.6 368.8L1436.7 370.1L1436.9 360.3L1437.0 357.3L1437.2 339.6L1437.4 356.3L1437.5 360.9L1437.7 349.8L1437.8 367.8L1438.0 359.4L1438.2 354.5L1438.3 356.2L1438.5 359.5L1438.6 365.7L1438.8 372.9L1439.0 364.0L1439.1 367.5L1439.3 356.8L1439.4 363.4L1439.6 357.6L1439.8 375.3L1439.9 354.2L1440.1 369.1L1440.2 375.0L1440.4 373.6L1440.6 367.7L1440.7 353.6L1440.9 357.2L1441.0 372.8L1441.2 362.7L1441.4 364.5L1441.5 376.7L1441.7 372.1L1441.8 380.8L1442.0 371.3L1442.2 384.9L1442.3 370.7L1442.5 371.7L1442.6 370.5L1442.8 370.5L1443.0 354.2L1443.1 366.3L1443.3 361.4L1443.4 357.1L1443.6 355.8L1443.8 357.6L1443.9 367.7L1444.1 372.3L1444.2 369.9L1444.4 367.6L1444.6 364.0L1444.7 365.1L1444.9 355.8L1445.0 365.9L1445.2 350.7L1445.4 357.2L1445.5 369.7L1445.7 358.9L1445.8 386.7L1446.0 354.8L1446.2 362.7L1446.3 362.7L1446.5 379.6L1446.6 345.3L1446.8 367.8L1447.0 366.8L1447.1 356.5L1447.3 367.2L1447.4 372.7L1447.6 360.4L1447.8 374.1L1447.9 359.9L1448.1 364.9L1448.2 357.0L1448.4 376.0L1448.6 356.1L1448.7 363.9L1448.9 350.3L1449.0 371.7L1449.2 351.3L1449.4 360.7L1449.5 360.0L1449.7 372.3L1449.8 361.8L1450.0 360.9L1450.2 373.1L1450.3 375.7L1450.5 372.5L1450.6 354.2L1450.8 364.7L1451.0 358.2L1451.1 363.3L1451.3 364.6L1451.4 363.5L1451.6 368.5L1451.8 355.0L1451.9 363.3L1452.1 362.7L1452.2 375.7L1452.4 361.8L1452.6 369.7L1452.7 368.3L1452.9 355.7L1453.0 373.1L1453.2 365.8L1453.4 359.2L1453.5 355.0L1453.7 368.6L1453.8 361.9L1454.0 362.3L1454.2 373.8L1454.3 382.1L1454.5 380.4L1454.6 359.8L1454.8 363.8L1455.0 375.6L1455.1 369.9L1455.3 368.0L1455.4 367.7L1455.6 365.1L1455.8 347.0L1455.9 371.3L1456.1 363.9L1456.2 371.4L1456.4 370.2L1456.6 372.3L1456.7 367.0L1456.9 369.6L1457.0 362.3L1457.2 363.4L1457.4 372.4L1457.5 349.7L1457.7 374.9L1457.8 362.7L1458.0 348.1L1458.2 371.8L1458.3 355.5L1458.5 354.9L1458.6 363.9L1458.8 381.9L1459.0 355.5L1459.1 366.4L1459.3 371.7L1459.4 357.0L1459.6 373.4L1459.8 358.9L1459.9 372.0L1460.1 363.2L1460.2 376.3L1460.4 370.7L1460.6 374.9L1460.7 373.1L1460.9 365.8L1461.0 368.6L1461.2 365.5L1461.4 356.5L1461.5 367.7L1461.7 381.7L1461.8 368.6L1462.0 365.3L1462.2 357.4L1462.3 356.9L1462.5 357.3L1462.6 366.5L1462.8 359.1L1463.0 375.7L1463.1 353.1L1463.3 359.7L1463.4 358.9L1463.6 365.8L1463.8 362.0L1463.9 367.7L1464.1 357.5L1464.2 372.9L1464.4 354.2L1464.6 357.8L1464.7 346.0L1464.9 363.0L1465.0 363.8L1465.2 361.8L1465.4 363.5L1465.5 365.1L1465.7 373.6L1465.8 374.0L1466.0 370.0L1466.2 368.1L1466.3 375.7L1466.5 375.7L1466.6 368.7L1466.8 360.6L1467.0 368.2L1467.1 361.2L1467.3 358.7L1467.4 360.3L1467.6 369.8L1467.8 369.5L1467.9 381.2L1468.1 371.5L1468.2 362.2L1468.4 374.9L1468.6 355.2" fill="none" stroke="#002264" stroke-width="1.7" stroke-linejoin="round"/>
<path d="M1050.8 145.2L1115.5 81.2M1050.8 199.7L1115.5 135.7M1050.8 254.2L1115.5 190.2M1050.8 308.7L1115.5 244.7M1050.8 363.2L1115.5 299.2M1402.9 144.8L1468.7 80.2M1402.9 199.2L1468.7 134.7M1402.9 253.7L1468.7 189.1M1402.9 308.2L1468.7 243.6M1402.9 362.6L1468.7 298.0M1115.5 63.2V392.3M1402.9 63.2V392.3" fill="none" stroke="#cf1038" stroke-width="1.5"/>
<path d="M68.3 796.4L68.8 795.7L69.3 794.0L69.9 791.3L70.4 789.9L70.9 790.3L71.4 789.9L72.0 790.0L72.5 791.7L73.0 793.7L73.5 795.4L74.0 796.8L74.6 798.4L75.1 798.1L75.6 797.0L76.1 798.3L76.7 799.9L77.2 799.3L77.7 798.0L78.2 797.9L78.8 798.1L79.3 798.3L79.8 798.1L80.3 797.1L80.8 795.5L81.4 793.6L81.9 791.3L82.4 790.3L82.9 790.5L83.5 791.4L84.0 791.8L84.5 789.3L85.0 786.2L85.5 786.3L86.1 788.5L86.6 787.7L87.1 784.9L87.6 784.0L88.2 783.8L88.7 783.1L89.2 783.6L89.7 785.2L90.2 784.9L90.8 783.8L91.3 784.9L91.8 786.3L92.3 786.2L92.9 787.0L93.4 788.2L93.9 788.2L94.4 788.8L94.9 790.0L95.5 791.3L96.0 792.8L96.5 793.2L97.0 794.2L97.6 795.7L98.1 795.2L98.6 794.2L99.1 794.7L99.6 795.0L100.2 794.6L100.7 793.2L101.2 790.2L101.7 787.7L102.3 787.4L102.8 787.6L103.3 787.6L103.8 787.8L104.4 787.8L104.9 786.4L105.4 784.1L105.9 783.9L106.4 784.5L107.0 783.8L107.5 783.2L108.0 783.2L108.5 783.0L109.1 782.1L109.6 782.2L110.1 783.4L110.6 783.7L111.1 783.9L111.7 783.2L112.2 781.8L112.7 782.4L113.2 783.5L113.8 784.0L114.3 784.8L114.8 786.5L115.3 788.9L115.8 790.8L116.4 792.4L116.9 793.8L117.4 795.4L117.9 796.9L118.5 797.2L119.0 797.9L119.5 799.6L120.0 800.3L120.5 800.1L121.1 800.0L121.6 798.9L122.1 799.6L122.6 801.6L123.2 801.5L123.7 799.9L124.2 798.0L124.7 797.8L125.3 799.2L125.8 799.1L126.3 798.1L126.8 797.2L127.3 795.8L127.9 794.6L128.4 794.0L128.9 793.0L129.4 792.7L130.0 793.1L130.5 793.3L131.0 792.3L131.5 790.3L132.0 788.8L132.6 788.7L133.1 789.4L133.6 789.2L134.1 787.6L134.7 786.2L135.2 786.1L135.7 786.5L136.2 786.5L136.7 785.2L137.3 784.8L137.8 784.4L138.3 783.5L138.8 783.6L139.4 783.5L139.9 783.4L140.4 784.0L140.9 785.0L141.4 785.2L142.0 785.1L142.5 786.4L143.0 787.4L143.5 787.5L144.1 788.4L144.6 789.9L145.1 790.2L145.6 790.4L146.2 791.8L146.7 792.8L147.2 794.0L147.7 796.5L148.2 797.5L148.8 796.0L149.3 795.2L149.8 796.4L150.3 798.0L150.9 798.3L151.4 798.0L151.9 799.5L152.4 800.7L152.9 799.9L153.5 799.8L154.0 800.2L154.5 800.0L155.0 800.4L155.6 801.9L156.1 804.4L156.6 805.8L157.1 805.0L157.6 803.7L158.2 802.6L158.7 802.1L159.2 802.0L159.7 801.7L160.3 801.9L160.8 802.2L161.3 801.8L161.8 800.6L162.3 798.7L162.9 797.8L163.4 797.6L163.9 795.5L164.4 794.3L165.0 795.8L165.5 795.5L166.0 793.4L166.5 791.0L167.1 788.9L167.6 788.8L168.1 789.6L168.6 789.4L169.1 787.8L169.7 786.0L170.2 784.8L170.7 783.0L171.2 780.2L171.8 778.1L172.3 775.4L172.8 772.9L173.3 771.0L173.8 767.7L174.4 764.6L174.9 761.5L175.4 758.1L175.9 754.3L176.5 749.9L177.0 748.5L177.5 750.2L178.0 749.5L178.5 745.9L179.1 744.0L179.6 744.1L180.1 744.5L180.6 745.0L181.2 743.0L181.7 739.3L182.2 739.3L182.7 741.4L183.2 743.1L183.8 745.8L184.3 746.8L184.8 748.0L185.3 750.8L185.9 753.0L186.4 754.5L186.9 754.9L187.4 755.1L188.0 756.9L188.5 759.1L189.0 761.8L189.5 764.0L190.0 764.2L190.6 766.2L191.1 769.2L191.6 770.3L192.1 771.0L192.7 771.6L193.2 773.5L193.7 775.3L194.2 774.1L194.7 774.3L195.3 776.4L195.8 776.3L196.3 776.1L196.8 776.7L197.4 778.1L197.9 780.0L198.4 780.3L198.9 779.1L199.4 778.0L200.0 779.2L200.5 779.2L201.0 776.5L201.5 775.3L202.1 775.1L202.6 774.1L203.1 772.1L203.6 771.0L204.1 771.5L204.7 771.0L205.2 769.1L205.7 766.9L206.2 765.4L206.8 764.2L207.3 762.5L207.8 761.4L208.3 760.2L208.9 758.7L209.4 756.9L209.9 754.2L210.4 752.8L210.9 752.4L211.5 752.8L212.0 753.5L212.5 753.8L213.0 754.7L213.6 755.9L214.1 757.3L214.6 759.6L215.1 760.6L215.6 760.9L216.2 761.7L216.7 763.7L217.2 766.3L217.7 768.1L218.3 770.2L218.8 773.6L219.3 776.6L219.8 778.1L220.3 779.9L220.9 783.0L221.4 785.3L221.9 785.4L222.4 786.1L223.0 788.4L223.5 790.8L224.0 791.6L224.5 790.5L225.1 789.8L225.6 789.2L226.1 788.9L226.6 788.5L227.1 788.5L227.7 787.1L228.2 784.9L228.7 785.3L229.2 785.4L229.8 784.6L230.3 783.1L230.8 782.2L231.3 783.1L231.8 782.0L232.4 780.0L232.9 779.2L233.4 779.0L233.9 779.7L234.5 780.4L235.0 779.6L235.5 777.7L236.0 776.3L236.5 775.6L237.1 775.3L237.6 776.1L238.1 776.9L238.6 778.0L239.2 779.0L239.7 778.8L240.2 779.4L240.7 778.5L241.2 777.7L241.8 779.7L242.3 781.0L242.8 781.4L243.3 782.5L243.9 783.7L244.4 783.3L244.9 782.6L245.4 783.8L245.9 782.2L246.5 778.1L247.0 776.6L247.5 776.3L248.0 774.7L248.6 770.9L249.1 767.0L249.6 766.8L250.1 766.7L250.7 764.6L251.2 761.9L251.7 759.2L252.2 757.9L252.7 757.8L253.3 758.1L253.8 758.8L254.3 760.9L254.8 763.5L255.4 764.9L255.9 764.5L256.4 763.7L256.9 762.3L257.4 760.6L258.0 761.2L258.5 761.4L259.0 759.9L259.5 759.1L260.1 758.1L260.6 757.3L261.1 756.0L261.6 753.7L262.1 751.7L262.7 749.7L263.2 748.0L263.7 745.9L264.2 741.5L264.8 733.6L265.3 724.0L265.8 713.9L266.3 705.0L266.8 696.3L267.4 687.0L267.9 678.0L268.4 668.8L268.9 659.9L269.5 652.6L270.0 645.2L270.5 636.2L271.0 626.3L271.6 616.1L272.1 606.2L272.6 596.5L273.1 586.7L273.6 576.8L274.2 566.8L274.7 556.8L275.2 546.8L275.7 536.7L276.3 526.8L276.8 516.8L277.3 506.8L277.8 516.8L278.3 526.8L278.9 536.7L279.4 546.8L279.9 556.8L280.4 566.8L281.0 576.8L281.5 586.7L282.0 596.5L282.5 606.2L283.0 616.1L283.6 626.3L284.1 636.2L284.6 645.2L285.1 652.6L285.7 659.9L286.2 668.8L286.7 678.0L287.2 687.0L287.8 696.3L288.3 705.0L288.8 713.9L289.3 724.0L289.8 733.6L290.4 741.5L290.9 745.9L291.4 748.0L291.9 749.7L292.5 751.7L293.0 753.7L293.5 756.0L294.0 757.3L294.5 758.1L295.1 759.1L295.6 759.9L296.1 761.4L296.6 761.2L297.2 760.6L297.7 762.3L298.2 763.7L298.7 764.5L299.2 764.9L299.8 763.5L300.3 760.9L300.8 758.8L301.3 758.1L301.9 757.8L302.4 757.9L302.9 759.2L303.4 761.9L303.9 764.6L304.5 766.7L305.0 766.8L305.5 767.0L306.0 770.9L306.6 774.7L307.1 776.3L307.6 776.6L308.1 778.1L308.6 782.2L309.2 783.8L309.7 782.6L310.2 783.3L310.7 783.7L311.3 782.5L311.8 781.4L312.3 781.0L312.8 779.7L313.4 777.7L313.9 778.5L314.4 779.4L314.9 778.8L315.4 779.0L316.0 778.0L316.5 776.9L317.0 776.1L317.5 775.3L318.1 775.6L318.6 776.3L319.1 777.7L319.6 779.6L320.1 780.4L320.7 779.7L321.2 779.0L321.7 779.2L322.2 780.0L322.8 782.0L323.3 783.1L323.8 782.2L324.3 783.1L324.8 784.6L325.4 785.4L325.9 785.3L326.4 784.9L326.9 787.1L327.5 788.5L328.0 788.5L328.5 788.9L329.0 789.2L329.6 789.8L330.1 790.5L330.6 791.6L331.1 790.8L331.6 788.4L332.2 786.1L332.7 785.4L333.2 785.3L333.7 783.0L334.3 779.9L334.8 778.1L335.3 776.6L335.8 773.6L336.3 770.2L336.9 768.1L337.4 766.3L337.9 763.7L338.4 761.7L339.0 760.9L339.5 760.6L340.0 759.6L340.5 757.3L341.0 755.9L341.6 754.7L342.1 753.8L342.6 753.5L343.1 752.8L343.7 752.4L344.2 752.8L344.7 754.2L345.2 756.9L345.7 758.7L346.3 760.2L346.8 761.4L347.3 762.5L347.8 764.2L348.4 765.4L348.9 766.9L349.4 769.1L349.9 771.0L350.5 771.5L351.0 771.0L351.5 772.1L352.0 774.1L352.5 775.1L353.1 775.3L353.6 776.5L354.1 779.2L354.6 779.2L355.2 778.0L355.7 779.1L356.2 780.3L356.7 780.0L357.2 778.1L357.8 776.7L358.3 776.1L358.8 776.3L359.3 776.4L359.9 774.3L360.4 774.1L360.9 775.3L361.4 773.5L361.9 771.6L362.5 771.0L363.0 770.3L363.5 769.2L364.0 766.2L364.6 764.2L365.1 764.0L365.6 761.8L366.1 759.1L366.6 756.9L367.2 755.1L367.7 754.9L368.2 754.5L368.7 753.0L369.3 750.8L369.8 748.0L370.3 746.8L370.8 745.8L371.4 743.1L371.9 741.4L372.4 739.3L372.9 739.3L373.4 743.0L374.0 745.0L374.5 744.5L375.0 744.1L375.5 744.0L376.1 745.9L376.6 749.5L377.1 750.2L377.6 748.5L378.1 749.9L378.7 754.3L379.2 758.1L379.7 761.5L380.2 764.6L380.8 767.7L381.3 771.0L381.8 772.9L382.3 775.4L382.8 778.1L383.4 780.2L383.9 783.0L384.4 784.8L384.9 786.0L385.5 787.8L386.0 789.4L386.5 789.6L387.0 788.8L387.5 788.9L388.1 791.0L388.6 793.4L389.1 795.5L389.6 795.8L390.2 794.3L390.7 795.5L391.2 797.6L391.7 797.8L392.2 798.7L392.8 800.6L393.3 801.8L393.8 802.2L394.3 801.9L394.9 801.7L395.4 802.0L395.9 802.1L396.4 802.6L397.0 803.7L397.5 805.0L398.0 805.8L398.5 804.4L399.0 801.9L399.6 800.4L400.1 800.0L400.6 800.2L401.1 799.8L401.7 799.9L402.2 800.7L402.7 799.5L403.2 798.0L403.7 798.3L404.3 798.0L404.8 796.4L405.3 795.2L405.8 796.0L406.4 797.5L406.9 796.5L407.4 794.0L407.9 792.8L408.4 791.8L409.0 790.4L409.5 790.2L410.0 789.9L410.5 788.4L411.1 787.5L411.6 787.4L412.1 786.4L412.6 785.1L413.1 785.2L413.7 785.0L414.2 784.0L414.7 783.4L415.2 783.5L415.8 783.6L416.3 783.5L416.8 784.4L417.3 784.8L417.9 785.2L418.4 786.5L418.9 786.5L419.4 786.1L419.9 786.2L420.5 787.6L421.0 789.2L421.5 789.4L422.0 788.7L422.6 788.8L423.1 790.3L423.6 792.3L424.1 793.3L424.6 793.1L425.2 792.7L425.7 793.0L426.2 794.0L426.7 794.6L427.3 795.8L427.8 797.2L428.3 798.1L428.8 799.1L429.3 799.2L429.9 797.8L430.4 798.0L430.9 799.9L431.4 801.5L432.0 801.6L432.5 799.6L433.0 798.9L433.5 800.0L434.1 800.1L434.6 800.3L435.1 799.6L435.6 797.9L436.1 797.2L436.7 796.9L437.2 795.4L437.7 793.8L438.2 792.4L438.8 790.8L439.3 788.9L439.8 786.5L440.3 784.8L440.8 784.0L441.4 783.5L441.9 782.4L442.4 781.8L442.9 783.2L443.5 783.9L444.0 783.7L444.5 783.4L445.0 782.2L445.5 782.1L446.1 783.0L446.6 783.2L447.1 783.2L447.6 783.8L448.2 784.5L448.7 783.9L449.2 784.1L449.7 786.4L450.2 787.8L450.8 787.8L451.3 787.6L451.8 787.6L452.3 787.4L452.9 787.7L453.4 790.2L453.9 793.2L454.4 794.6L455.0 795.0L455.5 794.7L456.0 794.2L456.5 795.2L457.0 795.7L457.6 794.2L458.1 793.2L458.6 792.8L459.1 791.3L459.7 790.0L460.2 788.8L460.7 788.2L461.2 788.2L461.7 787.0L462.3 786.2L462.8 786.3L463.3 784.9L463.8 783.8L464.4 784.9L464.9 785.2L465.4 783.6L465.9 783.1L466.4 783.8L467.0 784.0L467.5 784.9L468.0 787.7L468.5 788.5L469.1 786.3L469.6 786.2L470.1 789.3L470.6 791.8L471.1 791.4L471.7 790.5L472.2 790.3L472.7 791.3L473.2 793.6L473.8 795.5L474.3 797.1L474.8 798.1L475.3 798.3L475.9 798.1L476.4 797.9L476.9 798.0L477.4 799.3L477.9 799.9L478.5 798.3L479.0 797.0L479.5 798.1L480.0 798.4L480.6 796.8L481.1 795.4L481.6 793.7L482.1 791.7L482.6 790.0L483.2 789.9L483.7 790.3L484.2 789.9L484.7 791.3L485.3 794.0L485.8 795.7L486.3 796.4" fill="none" stroke="#002264" stroke-width="1.65" stroke-linejoin="round" stroke-linecap="butt"/>
<path d="M563.3 804.5L563.7 804.3L564.1 804.0L564.6 804.2L565.0 804.6L565.4 804.0L565.8 802.7L566.2 803.1L566.6 803.8L567.1 803.6L567.5 804.5L567.9 805.6L568.3 803.9L568.7 801.7L569.2 801.6L569.6 802.5L570.0 804.6L570.4 806.1L570.8 804.5L571.2 803.2L571.7 804.5L572.1 804.5L572.5 803.1L572.9 803.5L573.3 803.9L573.8 803.4L574.2 803.6L574.6 803.9L575.0 804.0L575.4 804.4L575.9 803.8L576.3 803.6L576.7 804.6L577.1 805.2L577.5 804.7L577.9 803.2L578.4 802.1L578.8 801.8L579.2 801.5L579.6 801.6L580.0 802.8L580.5 803.7L580.9 803.6L581.3 802.9L581.7 801.5L582.1 801.8L582.5 803.6L583.0 804.1L583.4 802.6L583.8 802.7L584.2 805.1L584.6 805.4L585.1 804.9L585.5 803.9L585.9 801.4L586.3 801.2L586.7 803.1L587.1 803.3L587.6 802.7L588.0 803.7L588.4 805.9L588.8 804.9L589.2 803.0L589.7 803.2L590.1 803.1L590.5 803.0L590.9 802.4L591.3 802.7L591.8 804.3L592.2 804.9L592.6 803.7L593.0 802.5L593.4 803.4L593.8 802.6L594.3 801.3L594.7 803.7L595.1 804.5L595.5 803.8L595.9 804.6L596.4 804.5L596.8 805.0L597.2 805.3L597.6 804.7L598.0 805.1L598.4 804.5L598.9 803.4L599.3 803.9L599.7 803.0L600.1 801.5L600.5 801.7L601.0 802.8L601.4 804.5L601.8 805.3L602.2 804.1L602.6 803.4L603.0 804.6L603.5 804.6L603.9 803.9L604.3 804.2L604.7 804.1L605.1 804.9L605.6 805.0L606.0 802.5L606.4 801.9L606.8 803.6L607.2 805.1L607.7 804.5L608.1 803.9L608.5 803.5L608.9 803.4L609.3 804.7L609.7 805.1L610.2 806.3L610.6 807.0L611.0 805.7L611.4 804.2L611.8 804.6L612.3 805.4L612.7 806.0L613.1 806.4L613.5 806.1L613.9 805.5L614.3 804.9L614.8 805.7L615.2 807.0L615.6 805.2L616.0 803.1L616.4 803.7L616.9 804.6L617.3 805.0L617.7 805.0L618.1 805.0L618.5 805.5L618.9 805.7L619.4 805.6L619.8 805.3L620.2 805.1L620.6 803.5L621.0 803.3L621.5 804.7L621.9 804.3L622.3 803.3L622.7 803.1L623.1 804.0L623.5 804.7L624.0 803.7L624.4 803.8L624.8 804.9L625.2 804.1L625.6 803.7L626.1 804.5L626.5 803.9L626.9 802.6L627.3 801.6L627.7 801.9L628.2 804.7L628.6 806.6L629.0 805.7L629.4 804.7L629.8 803.8L630.2 801.5L630.7 800.5L631.1 803.1L631.5 805.0L631.9 803.9L632.3 803.8L632.8 803.5L633.2 802.4L633.6 802.7L634.0 803.1L634.4 802.6L634.8 801.9L635.3 800.8L635.7 802.0L636.1 805.4L636.5 805.4L636.9 803.1L637.4 801.5L637.8 800.9L638.2 801.6L638.6 802.9L639.0 802.1L639.4 800.7L639.9 801.0L640.3 801.2L640.7 799.7L641.1 799.8L641.5 801.0L642.0 799.7L642.4 799.7L642.8 800.8L643.2 800.1L643.6 799.3L644.1 799.6L644.5 800.2L644.9 800.6L645.3 801.1L645.7 800.7L646.1 800.2L646.6 800.6L647.0 801.1L647.4 801.3L647.8 801.1L648.2 802.0L648.7 802.8L649.1 802.1L649.5 802.0L649.9 801.6L650.3 800.2L650.7 799.2L651.2 799.0L651.6 799.3L652.0 797.7L652.4 794.3L652.8 790.6L653.3 785.2L653.7 778.1L654.1 770.0L654.5 761.4L654.9 753.2L655.3 744.2L655.8 733.8L656.2 724.3L656.6 717.4L657.0 713.2L657.4 712.0L657.9 716.1L658.3 725.2L658.7 735.3L659.1 745.0L659.5 754.9L660.0 764.5L660.4 773.4L660.8 780.1L661.2 783.9L661.6 788.3L662.0 793.7L662.5 796.4L662.9 797.6L663.3 799.5L663.7 799.9L664.1 799.7L664.6 801.6L665.0 802.9L665.4 803.3L665.8 804.8L666.2 805.4L666.6 803.9L667.1 803.9L667.5 804.0L667.9 802.6L668.3 803.5L668.7 805.1L669.2 804.5L669.6 803.2L670.0 803.4L670.4 805.0L670.8 806.0L671.2 805.4L671.7 804.0L672.1 804.9L672.5 806.6L672.9 805.9L673.3 802.7L673.8 801.3L674.2 804.5L674.6 806.4L675.0 804.6L675.4 804.8L675.8 805.3L676.3 804.2L676.7 804.4L677.1 805.8L677.5 806.0L677.9 804.7L678.4 804.9L678.8 805.3L679.2 804.5L679.6 804.0L680.0 802.9L680.5 802.9L680.9 803.8L681.3 804.0L681.7 804.4L682.1 803.4L682.5 802.5L683.0 803.2L683.4 803.8L683.8 804.5L684.2 803.9L684.6 803.5L685.1 804.5L685.5 805.4L685.9 806.7L686.3 806.6L686.7 804.5L687.1 802.8L687.6 803.2L688.0 804.6L688.4 804.5L688.8 804.7L689.2 805.3L689.7 803.6L690.1 801.5L690.5 802.1L690.9 804.1L691.3 805.2L691.7 805.5L692.2 805.1L692.6 804.1L693.0 803.3L693.4 804.0L693.8 804.5L694.3 803.1L694.7 802.8L695.1 804.3L695.5 804.6L695.9 805.1L696.4 805.7L696.8 804.3L697.2 802.0L697.6 801.3L698.0 802.8L698.4 804.2L698.9 803.9L699.3 802.9L699.7 803.2L700.1 804.3L700.5 803.8L701.0 804.2L701.4 805.0L701.8 803.6L702.2 802.9L702.6 803.1L703.0 803.6L703.5 804.3L703.9 804.0L704.3 803.2L704.7 802.9L705.1 804.3L705.6 805.7L706.0 805.8L706.4 805.0L706.8 804.1L707.2 803.7L707.6 802.7L708.1 803.0L708.5 803.2L708.9 802.7L709.3 803.8L709.7 804.0L710.2 802.8L710.6 803.2L711.0 803.2L711.4 801.4L711.8 802.6L712.3 805.1L712.7 804.3L713.1 802.9L713.5 802.7L713.9 801.5L714.3 800.3L714.8 800.5L715.2 800.8L715.6 802.4L716.0 803.4L716.4 803.0L716.9 803.3L717.3 802.9L717.7 803.1L718.1 804.8L718.5 805.2L718.9 804.2L719.4 802.8L719.8 802.1L720.2 802.0L720.6 801.2L721.0 802.2L721.5 804.4L721.9 804.8L722.3 804.4L722.7 804.4L723.1 803.8L723.5 802.9L724.0 802.6L724.4 803.0L724.8 804.5L725.2 805.9L725.6 806.8L726.1 806.8L726.5 805.2L726.9 804.1L727.3 804.0L727.7 802.8L728.1 802.1L728.6 804.0L729.0 805.0L729.4 805.0L729.8 804.3L730.2 802.8L730.7 802.4L731.1 803.0L731.5 803.3L731.9 801.1L732.3 800.7L732.8 803.5L733.2 804.3L733.6 803.6L734.0 803.9L734.4 804.6L734.8 803.6L735.3 803.0L735.7 805.3L736.1 807.0L736.5 806.0L736.9 804.2L737.4 803.5L737.8 804.7L738.2 805.0L738.6 803.5L739.0 802.6L739.4 802.7L739.9 802.7L740.3 802.3L740.7 803.6L741.1 805.3L741.5 804.1L742.0 802.8L742.4 802.5L742.8 802.4L743.2 803.1L743.6 803.9L744.0 804.7L744.5 804.7L744.9 804.9L745.3 805.9L745.7 805.6L746.1 804.0L746.6 803.5L747.0 804.9L747.4 805.9L747.8 805.0L748.2 804.1L748.7 804.0L749.1 804.1L749.5 804.8L749.9 804.0L750.3 802.2L750.7 802.3L751.2 804.0L751.6 805.6L752.0 805.2L752.4 803.6L752.8 803.6L753.3 804.5L753.7 804.3L754.1 803.7L754.5 802.9L754.9 803.6L755.3 804.9L755.8 804.2L756.2 803.8L756.6 804.2L757.0 804.0L757.4 803.4L757.9 802.6L758.3 803.6L758.7 804.9L759.1 804.2L759.5 803.0L759.9 802.5L760.4 802.5L760.8 801.9L761.2 801.6L761.6 801.0L762.0 799.5L762.5 800.3L762.9 800.4L763.3 797.4L763.7 794.6L764.1 792.4L764.6 790.4L765.0 788.8L765.4 786.2L765.8 782.0L766.2 777.1L766.6 770.0L767.1 759.4L767.5 748.5L767.9 737.8L768.3 723.7L768.7 706.2L769.2 685.4L769.6 660.1L770.0 631.8L770.4 602.9L770.8 575.6L771.2 549.6L771.7 525.5L772.1 511.1L772.5 508.8L772.9 511.1L773.3 525.5L773.8 549.6L774.2 575.6L774.6 602.9L775.0 631.8L775.4 660.1L775.8 685.4L776.3 706.2L776.7 723.7L777.1 737.8L777.5 748.5L777.9 759.4L778.4 770.0L778.8 777.1L779.2 782.0L779.6 786.2L780.0 788.8L780.4 790.4L780.9 792.4L781.3 794.6L781.7 797.4L782.1 800.4L782.5 800.3L783.0 799.5L783.4 801.0L783.8 801.6L784.2 801.9L784.6 802.5L785.1 802.5L785.5 803.0L785.9 804.2L786.3 804.9L786.7 803.6L787.1 802.6L787.6 803.4L788.0 804.0L788.4 804.2L788.8 803.8L789.2 804.2L789.7 804.9L790.1 803.6L790.5 802.9L790.9 803.7L791.3 804.3L791.7 804.5L792.2 803.6L792.6 803.6L793.0 805.2L793.4 805.6L793.8 804.0L794.3 802.3L794.7 802.2L795.1 804.0L795.5 804.8L795.9 804.1L796.3 804.0L796.8 804.1L797.2 805.0L797.6 805.9L798.0 804.9L798.4 803.5L798.9 804.0L799.3 805.6L799.7 805.9L800.1 804.9L800.5 804.7L801.0 804.7L801.4 803.9L801.8 803.1L802.2 802.4L802.6 802.5L803.0 802.8L803.5 804.1L803.9 805.3L804.3 803.6L804.7 802.3L805.1 802.7L805.6 802.7L806.0 802.6L806.4 803.5L806.8 805.0L807.2 804.7L807.6 803.5L808.1 804.2L808.5 806.0L808.9 807.0L809.3 805.3L809.7 803.0L810.2 803.6L810.6 804.6L811.0 803.9L811.4 803.6L811.8 804.3L812.2 803.5L812.7 800.7L813.1 801.1L813.5 803.3L813.9 803.0L814.3 802.4L814.8 802.8L815.2 804.3L815.6 805.0L816.0 805.0L816.4 804.0L816.9 802.1L817.3 802.8L817.7 804.0L818.1 804.1L818.5 805.2L818.9 806.8L819.4 806.8L819.8 805.9L820.2 804.5L820.6 803.0L821.0 802.6L821.5 802.9L821.9 803.8L822.3 804.4L822.7 804.4L823.1 804.8L823.5 804.4L824.0 802.2L824.4 801.2L824.8 802.0L825.2 802.1L825.6 802.8L826.1 804.2L826.5 805.2L826.9 804.8L827.3 803.1L827.7 802.9L828.1 803.3L828.6 803.0L829.0 803.4L829.4 802.4L829.8 800.8L830.2 800.5L830.7 800.3L831.1 801.5L831.5 802.7L831.9 802.9L832.3 804.3L832.7 805.1L833.2 802.6L833.6 801.4L834.0 803.2L834.4 803.2L834.8 802.8L835.3 804.0L835.7 803.8L836.1 802.7L836.5 803.2L836.9 803.0L837.4 802.7L837.8 803.7L838.2 804.1L838.6 805.0L839.0 805.8L839.4 805.7L839.9 804.3L840.3 802.9L840.7 803.2L841.1 804.0L841.5 804.3L842.0 803.6L842.4 803.1L842.8 802.9L843.2 803.6L843.6 805.0L844.0 804.2L844.5 803.8L844.9 804.3L845.3 803.2L845.7 802.9L846.1 803.9L846.6 804.2L847.0 802.8L847.4 801.3L847.8 802.0L848.2 804.3L848.6 805.7L849.1 805.1L849.5 804.6L849.9 804.3L850.3 802.8L850.7 803.1L851.2 804.5L851.6 804.0L852.0 803.3L852.4 804.1L852.8 805.1L853.3 805.5L853.7 805.2L854.1 804.1L854.5 802.1L854.9 801.5L855.3 803.6L855.8 805.3L856.2 804.7L856.6 804.5L857.0 804.6L857.4 803.2L857.9 802.8L858.3 804.5L858.7 806.6L859.1 806.7L859.5 805.4L859.9 804.5L860.4 803.5L860.8 803.9L861.2 804.5L861.6 803.8L862.0 803.2L862.5 802.5L862.9 803.4L863.3 804.4L863.7 804.0L864.1 803.8L864.5 802.9L865.0 802.9L865.4 804.0L865.8 804.5L866.2 805.3L866.6 804.9L867.1 804.7L867.5 806.0L867.9 805.8L868.3 804.4L868.7 804.2L869.2 805.3L869.6 804.8L870.0 804.6L870.4 806.4L870.8 804.5L871.2 801.3L871.7 802.7L872.1 805.9L872.5 806.6L872.9 804.9L873.3 804.0L873.8 805.4L874.2 806.0L874.6 805.0L875.0 803.4L875.4 803.2L875.8 804.6L876.3 805.1L876.7 803.5L877.1 802.6L877.5 804.0L877.9 803.9L878.4 804.0L878.8 805.5L879.2 804.9L879.6 803.4L880.0 803.1L880.4 801.8L880.9 800.1L881.3 800.4L881.7 800.2L882.1 798.4L882.5 797.5L883.0 795.2L883.4 790.1L883.8 786.3L884.2 783.0L884.6 777.0L885.0 768.9L885.5 759.8L885.9 750.2L886.3 740.5L886.7 729.7L887.1 719.3L887.6 713.5L888.0 712.7L888.4 714.9L888.8 720.3L889.2 728.9L889.7 739.0L890.1 748.1L890.5 756.7L890.9 766.0L891.3 774.8L891.7 782.6L892.2 788.5L892.6 792.6L893.0 796.5L893.4 798.4L893.8 798.2L894.3 798.6L894.7 799.8L895.1 801.3L895.5 801.7L895.9 802.0L896.3 802.7L896.8 801.9L897.2 801.0L897.6 801.2L898.0 801.0L898.4 800.6L898.9 800.2L899.3 800.7L899.7 801.1L900.1 800.5L900.5 800.2L900.9 799.6L901.4 799.3L901.8 800.1L902.2 800.8L902.6 799.6L903.0 799.7L903.5 801.0L903.9 799.8L904.3 799.7L904.7 801.2L905.1 801.0L905.6 800.7L906.0 802.1L906.4 802.9L906.8 801.6L907.2 800.9L907.6 801.5L908.1 803.1L908.5 805.4L908.9 805.4L909.3 802.0L909.7 800.8L910.2 801.9L910.6 802.6L911.0 803.1L911.4 802.7L911.8 802.4L912.2 803.5L912.7 803.8L913.1 803.9L913.5 805.0L913.9 803.1L914.3 800.5L914.8 801.5L915.2 803.8L915.6 804.7L916.0 805.7L916.4 806.6L916.8 804.7L917.3 801.9L917.7 801.6L918.1 802.6L918.5 803.9L918.9 804.5L919.4 803.7L919.8 804.1L920.2 804.9L920.6 803.8L921.0 803.7L921.5 804.7L921.9 804.0L922.3 803.1L922.7 803.3L923.1 804.3L923.5 804.7L924.0 803.3L924.4 803.5L924.8 805.1L925.2 805.3L925.6 805.6L926.1 805.7L926.5 805.5L926.9 805.0L927.3 805.0L927.7 805.0L928.1 804.6L928.6 803.7L929.0 803.1L929.4 805.2L929.8 807.0L930.2 805.7L930.7 804.9L931.1 805.5L931.5 806.1L931.9 806.4L932.3 806.0L932.7 805.4L933.2 804.6L933.6 804.2L934.0 805.7L934.4 807.0L934.8 806.3L935.3 805.1L935.7 804.7L936.1 803.4L936.5 803.5L936.9 803.9L937.3 804.5L937.8 805.1L938.2 803.6L938.6 801.9L939.0 802.5L939.4 805.0L939.9 804.9L940.3 804.1L940.7 804.2L941.1 803.9L941.5 804.6L942.0 804.6L942.4 803.4L942.8 804.1L943.2 805.3L943.6 804.5L944.0 802.8L944.5 801.7L944.9 801.5L945.3 803.0L945.7 803.9L946.1 803.4L946.6 804.5L947.0 805.1L947.4 804.7L947.8 805.3L948.2 805.0L948.6 804.5L949.1 804.6L949.5 803.8L949.9 804.5L950.3 803.7L950.7 801.3L951.2 802.6L951.6 803.4L952.0 802.5L952.4 803.7L952.8 804.9L953.2 804.3L953.7 802.7L954.1 802.4L954.5 803.0L954.9 803.1L955.3 803.2L955.8 803.0L956.2 804.9L956.6 805.9L957.0 803.7L957.4 802.7L957.9 803.3L958.3 803.1L958.7 801.2L959.1 801.4L959.5 803.9L959.9 804.9L960.4 805.4L960.8 805.1L961.2 802.7L961.6 802.6L962.0 804.1L962.5 803.6L962.9 801.8L963.3 801.5L963.7 802.9L964.1 803.6L964.5 803.7L965.0 802.8L965.4 801.6L965.8 801.5L966.2 801.8L966.6 802.1L967.1 803.2L967.5 804.7L967.9 805.2L968.3 804.6L968.7 803.6L969.1 803.8L969.6 804.4L970.0 804.0L970.4 803.9L970.8 803.6L971.2 803.4L971.7 803.9L972.1 803.5L972.5 803.1L972.9 804.5L973.3 804.5L973.8 803.2L974.2 804.5L974.6 806.1L975.0 804.6L975.4 802.5L975.8 801.6L976.3 801.7L976.7 803.9L977.1 805.6L977.5 804.5L977.9 803.6L978.4 803.8L978.8 803.1L979.2 802.7L979.6 804.0L980.0 804.6L980.4 804.2L980.9 804.0L981.3 804.3L981.7 804.5" fill="none" stroke="#002264" stroke-width="1.6" stroke-linejoin="round" stroke-linecap="butt"/>
<path d="M1050.4 803.3L1050.8 803.8L1051.2 804.2L1051.7 804.1L1052.1 803.3L1052.5 801.7L1052.9 801.1L1053.3 801.6L1053.7 801.7L1054.2 803.0L1054.6 804.3L1055.0 803.1L1055.4 801.4L1055.8 801.7L1056.3 802.3L1056.7 801.8L1057.1 803.1L1057.5 804.2L1057.9 803.2L1058.3 801.9L1058.8 801.7L1059.2 803.0L1059.6 804.6L1060.0 804.1L1060.4 802.8L1060.9 802.7L1061.3 802.6L1061.7 802.5L1062.1 803.7L1062.5 805.2L1062.9 804.5L1063.4 802.3L1063.8 802.1L1064.2 802.9L1064.6 802.4L1065.0 802.7L1065.5 803.8L1065.9 804.5L1066.3 804.0L1066.7 803.0L1067.1 803.0L1067.6 802.9L1068.0 801.7L1068.4 801.6L1068.8 802.8L1069.2 803.6L1069.6 803.9L1070.1 803.6L1070.5 803.6L1070.9 803.4L1071.3 802.9L1071.7 802.6L1072.2 802.4L1072.6 803.3L1073.0 803.5L1073.4 802.8L1073.8 802.6L1074.2 802.7L1074.7 803.3L1075.1 803.3L1075.5 802.6L1075.9 802.1L1076.3 801.4L1076.8 801.4L1077.2 802.9L1077.6 803.8L1078.0 803.8L1078.4 804.4L1078.8 804.1L1079.3 802.0L1079.7 800.7L1080.1 800.8L1080.5 802.0L1080.9 802.3L1081.4 802.3L1081.8 802.2L1082.2 801.9L1082.6 802.3L1083.0 802.7L1083.4 803.6L1083.9 804.9L1084.3 804.6L1084.7 802.9L1085.1 801.3L1085.5 801.1L1086.0 801.4L1086.4 801.8L1086.8 801.8L1087.2 801.4L1087.6 802.7L1088.0 803.7L1088.5 802.2L1088.9 801.2L1089.3 801.8L1089.7 801.8L1090.1 800.9L1090.6 800.5L1091.0 800.6L1091.4 800.7L1091.8 800.6L1092.2 801.2L1092.6 802.4L1093.1 802.2L1093.5 801.8L1093.9 802.8L1094.3 803.1L1094.7 802.2L1095.2 802.6L1095.6 803.7L1096.0 803.6L1096.4 802.9L1096.8 802.9L1097.2 803.6L1097.7 803.5L1098.1 802.5L1098.5 801.4L1098.9 800.8L1099.3 801.5L1099.8 801.1L1100.2 800.6L1100.6 801.3L1101.0 801.4L1101.4 801.6L1101.9 801.4L1102.3 801.3L1102.7 802.7L1103.1 804.1L1103.5 804.2L1103.9 802.7L1104.4 801.5L1104.8 801.7L1105.2 802.0L1105.6 802.0L1106.0 801.6L1106.5 802.0L1106.9 801.9L1107.3 800.9L1107.7 801.2L1108.1 801.6L1108.5 801.5L1109.0 801.4L1109.4 802.3L1109.8 803.0L1110.2 802.2L1110.6 801.4L1111.1 801.6L1111.5 801.3L1111.9 800.8L1112.3 801.8L1112.7 802.2L1113.1 802.3L1113.6 803.5L1114.0 803.3L1114.4 801.6L1114.8 801.0L1115.2 802.3L1115.7 803.5L1116.1 802.8L1116.5 801.6L1116.9 800.7L1117.3 800.3L1117.7 800.5L1118.2 800.0L1118.6 801.0L1119.0 802.8L1119.4 802.2L1119.8 801.5L1120.3 801.5L1120.7 801.9L1121.1 803.1L1121.5 802.9L1121.9 801.9L1122.3 801.4L1122.8 801.3L1123.2 800.7L1123.6 800.0L1124.0 799.9L1124.4 800.2L1124.9 801.1L1125.3 800.9L1125.7 800.9L1126.1 802.8L1126.5 802.9L1126.9 801.1L1127.4 799.6L1127.8 799.4L1128.2 799.9L1128.6 800.8L1129.0 802.3L1129.5 801.7L1129.9 800.5L1130.3 801.4L1130.7 802.8L1131.1 803.3L1131.6 803.2L1132.0 802.8L1132.4 801.1L1132.8 799.6L1133.2 800.2L1133.6 801.2L1134.1 801.3L1134.5 801.5L1134.9 802.3L1135.3 801.2L1135.7 800.0L1136.2 801.7L1136.6 803.0L1137.0 802.2L1137.4 800.7L1137.8 801.4L1138.2 803.1L1138.7 802.4L1139.1 800.3L1139.5 799.4L1139.9 799.9L1140.3 800.2L1140.8 799.5L1141.2 798.9L1141.6 800.4L1142.0 803.2L1142.4 804.4L1142.8 803.2L1143.3 802.1L1143.7 802.8L1144.1 802.6L1144.5 801.8L1144.9 802.3L1145.4 802.0L1145.8 800.2L1146.2 799.3L1146.6 799.2L1147.0 798.6L1147.4 798.8L1147.9 800.0L1148.3 801.7L1148.7 802.6L1149.1 802.0L1149.5 800.8L1150.0 799.4L1150.4 798.5L1150.8 798.1L1151.2 798.0L1151.6 798.4L1152.0 799.2L1152.5 800.2L1152.9 800.7L1153.3 801.0L1153.7 801.1L1154.1 800.4L1154.6 801.2L1155.0 803.8L1155.4 804.5L1155.8 802.6L1156.2 801.2L1156.6 800.0L1157.1 799.2L1157.5 800.7L1157.9 801.5L1158.3 799.8L1158.7 797.8L1159.2 798.2L1159.6 800.3L1160.0 800.9L1160.4 799.7L1160.8 798.1L1161.2 798.2L1161.7 799.0L1162.1 799.1L1162.5 799.8L1162.9 800.1L1163.3 800.1L1163.8 800.3L1164.2 799.9L1164.6 799.2L1165.0 798.3L1165.4 797.3L1165.9 797.7L1166.3 800.2L1166.7 802.7L1167.1 802.5L1167.5 800.9L1167.9 800.7L1168.4 801.1L1168.8 800.3L1169.2 799.6L1169.6 799.9L1170.0 799.7L1170.5 799.7L1170.9 800.4L1171.3 800.4L1171.7 799.5L1172.1 799.3L1172.5 801.1L1173.0 802.3L1173.4 800.8L1173.8 799.7L1174.2 799.8L1174.6 798.9L1175.1 798.7L1175.5 799.3L1175.9 799.1L1176.3 798.3L1176.7 797.9L1177.1 799.1L1177.6 800.0L1178.0 799.6L1178.4 800.1L1178.8 799.4L1179.2 797.9L1179.7 797.8L1180.1 797.6L1180.5 797.6L1180.9 798.3L1181.3 798.3L1181.7 796.6L1182.2 796.3L1182.6 798.4L1183.0 799.1L1183.4 798.5L1183.8 798.4L1184.3 797.5L1184.7 796.1L1185.1 795.4L1185.5 795.0L1185.9 796.6L1186.3 798.9L1186.8 798.7L1187.2 796.0L1187.6 794.8L1188.0 797.0L1188.4 797.7L1188.9 796.0L1189.3 795.9L1189.7 795.5L1190.1 795.8L1190.5 797.7L1190.9 798.3L1191.4 797.4L1191.8 796.0L1192.2 795.8L1192.6 796.5L1193.0 797.3L1193.5 798.2L1193.9 796.9L1194.3 795.7L1194.7 797.0L1195.1 798.2L1195.6 798.0L1196.0 796.6L1196.4 795.0L1196.8 795.6L1197.2 796.5L1197.6 795.8L1198.1 795.1L1198.5 794.9L1198.9 795.5L1199.3 795.7L1199.7 795.0L1200.2 794.9L1200.6 794.5L1201.0 793.8L1201.4 793.7L1201.8 795.6L1202.2 798.0L1202.7 797.8L1203.1 795.1L1203.5 793.4L1203.9 794.4L1204.3 794.1L1204.8 793.3L1205.2 794.3L1205.6 794.3L1206.0 794.3L1206.4 794.9L1206.8 793.6L1207.3 791.8L1207.7 792.1L1208.1 791.7L1208.5 789.8L1208.9 791.5L1209.4 794.5L1209.8 795.7L1210.2 795.0L1210.6 795.2L1211.0 797.2L1211.4 796.8L1211.9 795.6L1212.3 794.5L1212.7 794.3L1213.1 795.8L1213.5 794.5L1214.0 792.1L1214.4 792.7L1214.8 793.4L1215.2 792.4L1215.6 790.5L1216.0 789.2L1216.5 789.5L1216.9 790.2L1217.3 791.7L1217.7 792.4L1218.1 791.2L1218.6 792.4L1219.0 793.9L1219.4 793.6L1219.8 792.8L1220.2 790.8L1220.6 788.8L1221.1 788.6L1221.5 790.7L1221.9 792.3L1222.3 792.8L1222.7 793.6L1223.2 791.2L1223.6 788.5L1224.0 790.5L1224.4 791.3L1224.8 789.4L1225.2 788.5L1225.7 789.2L1226.1 791.7L1226.5 791.2L1226.9 788.9L1227.3 789.7L1227.8 790.0L1228.2 790.7L1228.6 792.4L1229.0 791.6L1229.4 789.8L1229.9 788.8L1230.3 790.8L1230.7 792.2L1231.1 791.4L1231.5 792.6L1231.9 791.9L1232.4 790.3L1232.8 789.7L1233.2 787.5L1233.6 786.7L1234.0 788.9L1234.5 788.7L1234.9 786.0L1235.3 784.8L1235.7 784.8L1236.1 785.8L1236.5 787.3L1237.0 788.2L1237.4 787.0L1237.8 783.5L1238.2 780.4L1238.6 781.7L1239.1 786.2L1239.5 787.2L1239.9 786.0L1240.3 786.9L1240.7 785.5L1241.1 780.3L1241.6 779.8L1242.0 784.0L1242.4 785.7L1242.8 786.2L1243.2 787.2L1243.7 785.3L1244.1 781.0L1244.5 778.5L1244.9 778.6L1245.3 780.9L1245.7 787.7L1246.2 789.8L1246.6 783.3L1247.0 781.0L1247.4 780.8L1247.8 779.9L1248.3 783.6L1248.7 786.1L1249.1 782.8L1249.5 777.8L1249.9 779.6L1250.3 782.4L1250.8 779.4L1251.2 778.5L1251.6 780.6L1252.0 779.6L1252.4 776.3L1252.9 775.2L1253.3 777.3L1253.7 779.3L1254.1 778.3L1254.5 777.4L1254.9 778.5L1255.4 778.7L1255.8 777.2L1256.2 773.7L1256.6 766.0L1257.0 753.0L1257.5 736.9L1257.9 713.4L1258.3 672.4L1258.7 614.0L1259.1 551.9L1259.6 522.2L1260.0 551.9L1260.4 614.0L1260.8 672.4L1261.2 713.4L1261.6 736.9L1262.1 753.0L1262.5 766.0L1262.9 773.7L1263.3 777.2L1263.7 778.7L1264.2 778.5L1264.6 777.4L1265.0 778.3L1265.4 779.3L1265.8 777.3L1266.2 775.2L1266.7 776.3L1267.1 779.6L1267.5 780.6L1267.9 778.5L1268.3 779.4L1268.8 782.4L1269.2 779.6L1269.6 777.8L1270.0 782.8L1270.4 786.1L1270.8 783.6L1271.3 779.9L1271.7 780.8L1272.1 781.0L1272.5 783.3L1272.9 789.8L1273.4 787.7L1273.8 780.9L1274.2 778.6L1274.6 778.5L1275.0 781.0L1275.4 785.3L1275.9 787.2L1276.3 786.2L1276.7 785.7L1277.1 784.0L1277.5 779.8L1278.0 780.3L1278.4 785.5L1278.8 786.9L1279.2 786.0L1279.6 787.2L1280.0 786.2L1280.5 781.7L1280.9 780.4L1281.3 783.5L1281.7 787.0L1282.1 788.2L1282.6 787.3L1283.0 785.8L1283.4 784.8L1283.8 784.8L1284.2 786.0L1284.6 788.7L1285.1 788.9L1285.5 786.7L1285.9 787.5L1286.3 789.7L1286.7 790.3L1287.2 791.9L1287.6 792.6L1288.0 791.4L1288.4 792.2L1288.8 790.8L1289.2 788.8L1289.7 789.8L1290.1 791.6L1290.5 792.4L1290.9 790.7L1291.3 790.0L1291.8 789.7L1292.2 788.9L1292.6 791.2L1293.0 791.7L1293.4 789.2L1293.9 788.5L1294.3 789.4L1294.7 791.3L1295.1 790.5L1295.5 788.5L1295.9 791.2L1296.4 793.6L1296.8 792.8L1297.2 792.3L1297.6 790.7L1298.0 788.6L1298.5 788.8L1298.9 790.8L1299.3 792.8L1299.7 793.6L1300.1 793.9L1300.5 792.4L1301.0 791.2L1301.4 792.4L1301.8 791.7L1302.2 790.2L1302.6 789.5L1303.1 789.2L1303.5 790.5L1303.9 792.4L1304.3 793.4L1304.7 792.7L1305.1 792.1L1305.6 794.5L1306.0 795.8L1306.4 794.3L1306.8 794.5L1307.2 795.6L1307.7 796.8L1308.1 797.2L1308.5 795.2L1308.9 795.0L1309.3 795.7L1309.7 794.5L1310.2 791.5L1310.6 789.8L1311.0 791.7L1311.4 792.1L1311.8 791.8L1312.3 793.6L1312.7 794.9L1313.1 794.3L1313.5 794.3L1313.9 794.3L1314.3 793.3L1314.8 794.1L1315.2 794.4L1315.6 793.4L1316.0 795.1L1316.4 797.8L1316.9 798.0L1317.3 795.6L1317.7 793.7L1318.1 793.8L1318.5 794.5L1318.9 794.9L1319.4 795.0L1319.8 795.7L1320.2 795.5L1320.6 794.9L1321.0 795.1L1321.5 795.8L1321.9 796.5L1322.3 795.6L1322.7 795.0L1323.1 796.6L1323.5 798.0L1324.0 798.2L1324.4 797.0L1324.8 795.7L1325.2 796.9L1325.6 798.2L1326.1 797.3L1326.5 796.5L1326.9 795.8L1327.3 796.0L1327.7 797.4L1328.2 798.3L1328.6 797.7L1329.0 795.8L1329.4 795.5L1329.8 795.9L1330.2 796.0L1330.7 797.7L1331.1 797.0L1331.5 794.8L1331.9 796.0L1332.3 798.7L1332.8 798.9L1333.2 796.6L1333.6 795.0L1334.0 795.4L1334.4 796.1L1334.8 797.5L1335.3 798.4L1335.7 798.5L1336.1 799.1L1336.5 798.4L1336.9 796.3L1337.4 796.6L1337.8 798.3L1338.2 798.3L1338.6 797.6L1339.0 797.6L1339.4 797.8L1339.9 797.9L1340.3 799.4L1340.7 800.1L1341.1 799.6L1341.5 800.0L1342.0 799.1L1342.4 797.9L1342.8 798.3L1343.2 799.1L1343.6 799.3L1344.0 798.7L1344.5 798.9L1344.9 799.8L1345.3 799.7L1345.7 800.8L1346.1 802.3L1346.6 801.1L1347.0 799.3L1347.4 799.5L1347.8 800.4L1348.2 800.4L1348.6 799.7L1349.1 799.7L1349.5 799.9L1349.9 799.6L1350.3 800.3L1350.7 801.1L1351.2 800.7L1351.6 800.9L1352.0 802.5L1352.4 802.7L1352.8 800.2L1353.2 797.7L1353.7 797.3L1354.1 798.3L1354.5 799.2L1354.9 799.9L1355.3 800.3L1355.8 800.1L1356.2 800.1L1356.6 799.8L1357.0 799.1L1357.4 799.0L1357.9 798.2L1358.3 798.1L1358.7 799.7L1359.1 800.9L1359.5 800.3L1359.9 798.2L1360.4 797.8L1360.8 799.8L1361.2 801.5L1361.6 800.7L1362.0 799.2L1362.5 800.0L1362.9 801.2L1363.3 802.6L1363.7 804.5L1364.1 803.8L1364.5 801.2L1365.0 800.4L1365.4 801.1L1365.8 801.0L1366.2 800.7L1366.6 800.2L1367.1 799.2L1367.5 798.4L1367.9 798.0L1368.3 798.1L1368.7 798.5L1369.1 799.4L1369.6 800.8L1370.0 802.0L1370.4 802.6L1370.8 801.7L1371.2 800.0L1371.7 798.8L1372.1 798.6L1372.5 799.2L1372.9 799.3L1373.3 800.2L1373.7 802.0L1374.2 802.3L1374.6 801.8L1375.0 802.6L1375.4 802.8L1375.8 802.1L1376.3 803.2L1376.7 804.4L1377.1 803.2L1377.5 800.4L1377.9 798.9L1378.3 799.5L1378.8 800.2L1379.2 799.9L1379.6 799.4L1380.0 800.3L1380.4 802.4L1380.9 803.1L1381.3 801.4L1381.7 800.7L1382.1 802.2L1382.5 803.0L1382.9 801.7L1383.4 800.0L1383.8 801.2L1384.2 802.3L1384.6 801.5L1385.0 801.3L1385.5 801.2L1385.9 800.2L1386.3 799.6L1386.7 801.1L1387.1 802.8L1387.5 803.2L1388.0 803.3L1388.4 802.8L1388.8 801.4L1389.2 800.5L1389.6 801.7L1390.1 802.3L1390.5 800.8L1390.9 799.9L1391.3 799.4L1391.7 799.6L1392.2 801.1L1392.6 802.9L1393.0 802.8L1393.4 800.9L1393.8 800.9L1394.2 801.1L1394.7 800.2L1395.1 799.9L1395.5 800.0L1395.9 800.7L1396.3 801.3L1396.8 801.4L1397.2 801.9L1397.6 802.9L1398.0 803.1L1398.4 801.9L1398.8 801.5L1399.3 801.5L1399.7 802.2L1400.1 802.8L1400.5 801.0L1400.9 800.0L1401.4 800.5L1401.8 800.3L1402.2 800.7L1402.6 801.6L1403.0 802.8L1403.4 803.5L1403.9 802.3L1404.3 801.0L1404.7 801.6L1405.1 803.3L1405.5 803.5L1406.0 802.3L1406.4 802.2L1406.8 801.8L1407.2 800.8L1407.6 801.3L1408.0 801.6L1408.5 801.4L1408.9 802.2L1409.3 803.0L1409.7 802.3L1410.1 801.4L1410.6 801.5L1411.0 801.6L1411.4 801.2L1411.8 800.9L1412.2 801.9L1412.6 802.0L1413.1 801.6L1413.5 802.0L1413.9 802.0L1414.3 801.7L1414.7 801.5L1415.2 802.7L1415.6 804.2L1416.0 804.1L1416.4 802.7L1416.8 801.3L1417.2 801.4L1417.7 801.6L1418.1 801.4L1418.5 801.3L1418.9 800.6L1419.3 801.1L1419.8 801.5L1420.2 800.8L1420.6 801.4L1421.0 802.5L1421.4 803.5L1421.9 803.6L1422.3 802.9L1422.7 802.9L1423.1 803.6L1423.5 803.7L1423.9 802.6L1424.4 802.2L1424.8 803.1L1425.2 802.8L1425.6 801.8L1426.0 802.2L1426.5 802.4L1426.9 801.2L1427.3 800.6L1427.7 800.7L1428.1 800.6L1428.5 800.5L1429.0 800.9L1429.4 801.8L1429.8 801.8L1430.2 801.2L1430.6 802.2L1431.1 803.7L1431.5 802.7L1431.9 801.4L1432.3 801.8L1432.7 801.8L1433.1 801.4L1433.6 801.1L1434.0 801.3L1434.4 802.9L1434.8 804.6L1435.2 804.9L1435.7 803.6L1436.1 802.7L1436.5 802.3L1436.9 801.9L1437.3 802.2L1437.7 802.3L1438.2 802.3L1438.6 802.0L1439.0 800.8L1439.4 800.7L1439.8 802.0L1440.3 804.1L1440.7 804.4L1441.1 803.8L1441.5 803.8L1441.9 802.9L1442.3 801.4L1442.8 801.4L1443.2 802.1L1443.6 802.6L1444.0 803.3L1444.4 803.3L1444.9 802.7L1445.3 802.6L1445.7 802.8L1446.1 803.5L1446.5 803.3L1446.9 802.4L1447.4 802.6L1447.8 802.9L1448.2 803.4L1448.6 803.6L1449.0 803.6L1449.5 803.9L1449.9 803.6L1450.3 802.8L1450.7 801.6L1451.1 801.7L1451.5 802.9L1452.0 803.0L1452.4 803.0L1452.8 804.0L1453.2 804.5L1453.6 803.8L1454.1 802.7L1454.5 802.4L1454.9 802.9L1455.3 802.1L1455.7 802.3L1456.2 804.5L1456.6 805.2L1457.0 803.7L1457.4 802.5L1457.8 802.6L1458.2 802.7L1458.7 802.8L1459.1 804.1L1459.5 804.6L1459.9 803.0L1460.3 801.7L1460.8 801.9L1461.2 803.2L1461.6 804.2L1462.0 803.1L1462.4 801.8L1462.8 802.3L1463.3 801.7L1463.7 801.4L1464.1 803.1L1464.5 804.3L1464.9 803.0L1465.4 801.7L1465.8 801.6L1466.2 801.1L1466.6 801.7L1467.0 803.3L1467.4 804.1L1467.9 804.2L1468.3 803.8L1468.7 803.3" fill="none" stroke="#002264" stroke-width="1.6" stroke-linejoin="round" stroke-linecap="butt"/>
<path d="M1050.4 805.2L1050.8 805.0L1051.2 804.2L1051.7 803.8L1052.1 804.1L1052.5 804.7L1052.9 805.4L1053.3 805.0L1053.7 803.4L1054.2 803.7L1054.6 804.3L1055.0 803.8L1055.4 803.4L1055.8 803.9L1056.3 805.0L1056.7 805.6L1057.1 805.1L1057.5 804.9L1057.9 804.8L1058.3 804.2L1058.8 803.4L1059.2 803.1L1059.6 804.3L1060.0 805.2L1060.4 803.9L1060.9 803.8L1061.3 804.7L1061.7 804.2L1062.1 803.9L1062.5 804.3L1062.9 804.0L1063.4 803.5L1063.8 803.1L1064.2 803.0L1064.6 803.7L1065.0 803.2L1065.5 802.7L1065.9 804.1L1066.3 804.8L1066.7 804.1L1067.1 803.2L1067.6 803.5L1068.0 804.2L1068.4 804.1L1068.8 803.5L1069.2 802.8L1069.6 803.2L1070.1 803.6L1070.5 803.6L1070.9 803.9L1071.3 804.3L1071.7 804.2L1072.2 804.0L1072.6 803.7L1073.0 803.6L1073.4 804.2L1073.8 804.9L1074.2 805.2L1074.7 804.8L1075.1 804.2L1075.5 803.4L1075.9 803.5L1076.3 804.2L1076.8 803.5L1077.2 803.0L1077.6 804.2L1078.0 804.1L1078.4 802.5L1078.8 802.5L1079.3 802.4L1079.7 802.3L1080.1 803.6L1080.5 804.8L1080.9 805.2L1081.4 804.3L1081.8 803.9L1082.2 804.8L1082.6 805.0L1083.0 804.6L1083.4 803.7L1083.9 803.1L1084.3 803.7L1084.7 804.3L1085.1 804.8L1085.5 805.5L1086.0 805.5L1086.4 805.2L1086.8 805.3L1087.2 806.0L1087.6 805.6L1088.0 805.1L1088.5 806.0L1088.9 805.6L1089.3 804.4L1089.7 804.7L1090.1 804.4L1090.6 804.2L1091.0 805.4L1091.4 805.1L1091.8 803.8L1092.2 803.7L1092.6 804.2L1093.1 804.3L1093.5 804.6L1093.9 805.4L1094.3 805.9L1094.7 805.6L1095.2 805.1L1095.6 804.9L1096.0 804.4L1096.4 804.1L1096.8 804.0L1097.2 803.8L1097.7 804.0L1098.1 803.3L1098.5 802.2L1098.9 803.0L1099.3 804.3L1099.8 804.2L1100.2 804.2L1100.6 803.7L1101.0 803.4L1101.4 804.2L1101.9 804.3L1102.3 803.5L1102.7 803.4L1103.1 804.4L1103.5 804.4L1103.9 803.3L1104.4 802.7L1104.8 803.3L1105.2 804.1L1105.6 803.9L1106.0 803.1L1106.5 802.7L1106.9 802.9L1107.3 803.8L1107.7 804.4L1108.1 803.9L1108.5 803.8L1109.0 804.1L1109.4 804.2L1109.8 804.4L1110.2 804.4L1110.6 803.6L1111.1 802.3L1111.5 802.3L1111.9 803.9L1112.3 805.4L1112.7 805.2L1113.1 804.1L1113.6 803.8L1114.0 804.5L1114.4 805.7L1114.8 805.7L1115.2 804.6L1115.7 804.7L1116.1 805.4L1116.5 804.9L1116.9 803.9L1117.3 803.9L1117.7 803.2L1118.2 802.5L1118.6 803.2L1119.0 804.1L1119.4 804.0L1119.8 803.9L1120.3 805.1L1120.7 805.4L1121.1 805.0L1121.5 804.8L1121.9 804.1L1122.3 804.0L1122.8 804.0L1123.2 804.2L1123.6 804.4L1124.0 804.9L1124.4 805.9L1124.9 805.8L1125.3 804.0L1125.7 802.3L1126.1 802.4L1126.5 803.6L1126.9 804.2L1127.4 803.3L1127.8 802.5L1128.2 802.1L1128.6 802.4L1129.0 804.5L1129.5 805.4L1129.9 805.0L1130.3 804.9L1130.7 804.2L1131.1 803.7L1131.6 803.8L1132.0 803.8L1132.4 803.4L1132.8 803.6L1133.2 804.5L1133.6 804.4L1134.1 803.6L1134.5 804.2L1134.9 804.7L1135.3 804.3L1135.7 804.2L1136.2 804.1L1136.6 803.8L1137.0 803.3L1137.4 803.5L1137.8 804.8L1138.2 804.7L1138.7 803.6L1139.1 804.6L1139.5 806.0L1139.9 806.0L1140.3 805.0L1140.8 805.2L1141.2 806.0L1141.6 805.8L1142.0 804.8L1142.4 803.6L1142.8 803.5L1143.3 804.5L1143.7 805.1L1144.1 804.4L1144.5 803.6L1144.9 803.3L1145.4 803.2L1145.8 803.4L1146.2 803.4L1146.6 803.7L1147.0 803.8L1147.4 803.2L1147.9 803.0L1148.3 803.7L1148.7 805.0L1149.1 805.3L1149.5 804.9L1150.0 804.5L1150.4 803.8L1150.8 803.1L1151.2 802.8L1151.6 803.6L1152.0 804.3L1152.5 804.0L1152.9 804.5L1153.3 804.8L1153.7 804.3L1154.1 803.7L1154.6 802.3L1155.0 801.5L1155.4 802.2L1155.8 802.9L1156.2 803.6L1156.6 804.1L1157.1 804.5L1157.5 804.1L1157.9 803.1L1158.3 803.1L1158.7 803.9L1159.2 803.9L1159.6 803.2L1160.0 803.8L1160.4 804.6L1160.8 804.1L1161.2 803.3L1161.7 802.7L1162.1 803.1L1162.5 804.5L1162.9 804.2L1163.3 802.3L1163.8 802.1L1164.2 803.7L1164.6 804.9L1165.0 805.5L1165.4 805.6L1165.9 805.1L1166.3 804.9L1166.7 804.6L1167.1 803.9L1167.5 803.9L1167.9 803.9L1168.4 803.6L1168.8 804.4L1169.2 805.1L1169.6 803.7L1170.0 802.4L1170.5 803.0L1170.9 803.7L1171.3 804.1L1171.7 804.1L1172.1 804.8L1172.5 806.0L1173.0 806.0L1173.4 805.1L1173.8 804.0L1174.2 802.2L1174.6 801.5L1175.1 802.6L1175.5 803.3L1175.9 802.9L1176.3 803.1L1176.7 804.4L1177.1 804.7L1177.6 804.0L1178.0 804.5L1178.4 805.2L1178.8 805.0L1179.2 804.8L1179.7 803.8L1180.1 804.0L1180.5 805.2L1180.9 804.5L1181.3 804.0L1181.7 804.1L1182.2 802.9L1182.6 802.1L1183.0 803.4L1183.4 805.2L1183.8 806.0L1184.3 805.8L1184.7 804.8L1185.1 803.5L1185.5 803.5L1185.9 803.7L1186.3 803.4L1186.8 803.7L1187.2 804.4L1187.6 804.9L1188.0 804.8L1188.4 804.7L1188.9 804.3L1189.3 803.2L1189.7 803.6L1190.1 804.1L1190.5 804.0L1190.9 804.1L1191.4 803.7L1191.8 802.9L1192.2 802.9L1192.6 803.9L1193.0 804.9L1193.5 805.3L1193.9 805.2L1194.3 804.7L1194.7 804.6L1195.1 804.5L1195.6 804.0L1196.0 804.5L1196.4 805.4L1196.8 804.7L1197.2 803.9L1197.6 804.3L1198.1 803.9L1198.5 803.2L1198.9 803.6L1199.3 804.0L1199.7 804.2L1200.2 804.4L1200.6 803.9L1201.0 804.0L1201.4 804.8L1201.8 805.3L1202.2 805.1L1202.7 804.6L1203.1 804.8L1203.5 804.7L1203.9 803.9L1204.3 803.7L1204.8 803.8L1205.2 803.9L1205.6 803.8L1206.0 804.3L1206.4 804.8L1206.8 804.5L1207.3 804.3L1207.7 804.3L1208.1 804.2L1208.5 804.8L1208.9 804.6L1209.4 802.9L1209.8 802.4L1210.2 803.2L1210.6 803.2L1211.0 803.6L1211.4 804.7L1211.9 805.0L1212.3 804.8L1212.7 804.6L1213.1 804.5L1213.5 804.7L1214.0 804.6L1214.4 804.3L1214.8 805.0L1215.2 804.9L1215.6 803.5L1216.0 802.7L1216.5 802.7L1216.9 803.7L1217.3 804.1L1217.7 803.5L1218.1 803.8L1218.6 804.5L1219.0 804.6L1219.4 805.0L1219.8 805.5L1220.2 805.3L1220.6 805.0L1221.1 804.7L1221.5 804.7L1221.9 803.3L1222.3 802.1L1222.7 803.8L1223.2 804.3L1223.6 803.3L1224.0 804.1L1224.4 804.6L1224.8 804.6L1225.2 806.0L1225.7 806.0L1226.1 805.8L1226.5 805.8L1226.9 805.5L1227.3 803.8L1227.8 803.1L1228.2 803.9L1228.6 805.0L1229.0 805.2L1229.4 804.6L1229.9 804.2L1230.3 803.5L1230.7 803.1L1231.1 804.5L1231.5 806.0L1231.9 805.0L1232.4 803.3L1232.8 802.9L1233.2 803.8L1233.6 805.2L1234.0 805.1L1234.5 804.8L1234.9 805.6L1235.3 804.8L1235.7 803.4L1236.1 803.5L1236.5 804.2L1237.0 803.6L1237.4 803.5L1237.8 804.3L1238.2 803.9L1238.6 803.5L1239.1 803.7L1239.5 803.4L1239.9 803.3L1240.3 803.0L1240.7 802.9L1241.1 803.7L1241.6 804.4L1242.0 804.6L1242.4 804.1L1242.8 803.3L1243.2 803.0L1243.7 803.5L1244.1 803.2L1244.5 802.6L1244.9 803.1L1245.3 803.0L1245.7 802.7L1246.2 803.3L1246.6 803.5L1247.0 803.4L1247.4 804.3L1247.8 805.5L1248.3 805.6L1248.7 804.3L1249.1 802.9L1249.5 802.3L1249.9 802.1L1250.3 803.0L1250.8 804.6L1251.2 805.4L1251.6 804.8L1252.0 804.3L1252.4 803.7L1252.9 803.0L1253.3 802.6L1253.7 801.5L1254.1 800.7L1254.5 800.3L1254.9 797.3L1255.4 792.2L1255.8 786.8L1256.2 779.9L1256.6 769.0L1257.0 751.3L1257.5 724.9L1257.9 688.1L1258.3 639.6L1258.7 581.9L1259.1 529.2L1259.6 506.9L1260.0 529.2L1260.4 581.9L1260.8 639.6L1261.2 688.1L1261.6 724.9L1262.1 751.3L1262.5 769.0L1262.9 779.9L1263.3 786.8L1263.7 792.2L1264.2 797.3L1264.6 800.3L1265.0 800.7L1265.4 801.5L1265.8 802.6L1266.2 803.0L1266.7 803.7L1267.1 804.3L1267.5 804.8L1267.9 805.4L1268.3 804.6L1268.8 803.0L1269.2 802.1L1269.6 802.3L1270.0 802.9L1270.4 804.3L1270.8 805.6L1271.3 805.5L1271.7 804.3L1272.1 803.4L1272.5 803.5L1272.9 803.3L1273.4 802.7L1273.8 803.0L1274.2 803.1L1274.6 802.6L1275.0 803.2L1275.4 803.5L1275.9 803.0L1276.3 803.3L1276.7 804.1L1277.1 804.6L1277.5 804.4L1278.0 803.7L1278.4 802.9L1278.8 803.0L1279.2 803.3L1279.6 803.4L1280.0 803.7L1280.5 803.5L1280.9 803.9L1281.3 804.3L1281.7 803.5L1282.1 803.6L1282.6 804.2L1283.0 803.5L1283.4 803.4L1283.8 804.8L1284.2 805.6L1284.6 804.8L1285.1 805.1L1285.5 805.2L1285.9 803.8L1286.3 802.9L1286.7 803.3L1287.2 805.0L1287.6 806.0L1288.0 804.5L1288.4 803.1L1288.8 803.5L1289.2 804.2L1289.7 804.6L1290.1 805.2L1290.5 805.0L1290.9 803.9L1291.3 803.1L1291.8 803.8L1292.2 805.5L1292.6 805.8L1293.0 805.8L1293.4 806.0L1293.9 806.0L1294.3 804.6L1294.7 804.6L1295.1 804.1L1295.5 803.3L1295.9 804.3L1296.4 803.8L1296.8 802.1L1297.2 803.3L1297.6 804.7L1298.0 804.7L1298.5 805.0L1298.9 805.3L1299.3 805.5L1299.7 805.0L1300.1 804.6L1300.5 804.5L1301.0 803.8L1301.4 803.5L1301.8 804.1L1302.2 803.7L1302.6 802.7L1303.1 802.7L1303.5 803.5L1303.9 804.9L1304.3 805.0L1304.7 804.3L1305.1 804.6L1305.6 804.7L1306.0 804.5L1306.4 804.6L1306.8 804.8L1307.2 805.0L1307.7 804.7L1308.1 803.6L1308.5 803.2L1308.9 803.2L1309.3 802.4L1309.7 802.9L1310.2 804.6L1310.6 804.8L1311.0 804.2L1311.4 804.3L1311.8 804.3L1312.3 804.5L1312.7 804.8L1313.1 804.3L1313.5 803.8L1313.9 803.9L1314.3 803.8L1314.8 803.7L1315.2 803.9L1315.6 804.7L1316.0 804.8L1316.4 804.6L1316.9 805.1L1317.3 805.3L1317.7 804.8L1318.1 804.0L1318.5 803.9L1318.9 804.4L1319.4 804.2L1319.8 804.0L1320.2 803.6L1320.6 803.2L1321.0 803.9L1321.5 804.3L1321.9 803.9L1322.3 804.7L1322.7 805.4L1323.1 804.5L1323.5 804.0L1324.0 804.5L1324.4 804.6L1324.8 804.7L1325.2 805.2L1325.6 805.3L1326.1 804.9L1326.5 803.9L1326.9 802.9L1327.3 802.9L1327.7 803.7L1328.2 804.1L1328.6 804.0L1329.0 804.1L1329.4 803.6L1329.8 803.2L1330.2 804.3L1330.7 804.7L1331.1 804.8L1331.5 804.9L1331.9 804.4L1332.3 803.7L1332.8 803.4L1333.2 803.7L1333.6 803.5L1334.0 803.5L1334.4 804.8L1334.8 805.8L1335.3 806.0L1335.7 805.2L1336.1 803.4L1336.5 802.1L1336.9 802.9L1337.4 804.1L1337.8 804.0L1338.2 804.5L1338.6 805.2L1339.0 804.0L1339.4 803.8L1339.9 804.8L1340.3 805.0L1340.7 805.2L1341.1 804.5L1341.5 804.0L1342.0 804.7L1342.4 804.4L1342.8 803.1L1343.2 802.9L1343.6 803.3L1344.0 802.6L1344.5 801.5L1344.9 802.2L1345.3 804.0L1345.7 805.1L1346.1 806.0L1346.6 806.0L1347.0 804.8L1347.4 804.1L1347.8 804.1L1348.2 803.7L1348.6 803.0L1349.1 802.4L1349.5 803.7L1349.9 805.1L1350.3 804.4L1350.7 803.6L1351.2 803.9L1351.6 803.9L1352.0 803.9L1352.4 804.6L1352.8 804.9L1353.2 805.1L1353.7 805.6L1354.1 805.5L1354.5 804.9L1354.9 803.7L1355.3 802.1L1355.8 802.3L1356.2 804.2L1356.6 804.5L1357.0 803.1L1357.4 802.7L1357.9 803.3L1358.3 804.1L1358.7 804.6L1359.1 803.8L1359.5 803.2L1359.9 803.9L1360.4 803.9L1360.8 803.1L1361.2 803.1L1361.6 804.1L1362.0 804.5L1362.5 804.1L1362.9 803.6L1363.3 802.9L1363.7 802.2L1364.1 801.5L1364.5 802.3L1365.0 803.7L1365.4 804.3L1365.8 804.8L1366.2 804.5L1366.6 804.0L1367.1 804.3L1367.5 803.6L1367.9 802.8L1368.3 803.1L1368.7 803.8L1369.1 804.5L1369.6 804.9L1370.0 805.3L1370.4 805.0L1370.8 803.7L1371.2 803.0L1371.7 803.2L1372.1 803.8L1372.5 803.7L1372.9 803.4L1373.3 803.4L1373.7 803.2L1374.2 803.3L1374.6 803.6L1375.0 804.4L1375.4 805.1L1375.8 804.5L1376.3 803.5L1376.7 803.6L1377.1 804.8L1377.5 805.8L1377.9 806.0L1378.3 805.2L1378.8 805.0L1379.2 806.0L1379.6 806.0L1380.0 804.6L1380.4 803.6L1380.9 804.7L1381.3 804.8L1381.7 803.5L1382.1 803.3L1382.5 803.8L1382.9 804.1L1383.4 804.2L1383.8 804.3L1384.2 804.7L1384.6 804.2L1385.0 803.6L1385.5 804.4L1385.9 804.5L1386.3 803.6L1386.7 803.4L1387.1 803.8L1387.5 803.8L1388.0 803.7L1388.4 804.2L1388.8 804.9L1389.2 805.0L1389.6 805.4L1390.1 804.5L1390.5 802.4L1390.9 802.1L1391.3 802.5L1391.7 803.3L1392.2 804.2L1392.6 803.6L1393.0 802.4L1393.4 802.3L1393.8 804.0L1394.2 805.8L1394.7 805.9L1395.1 804.9L1395.5 804.4L1395.9 804.2L1396.3 804.0L1396.8 804.0L1397.2 804.1L1397.6 804.8L1398.0 805.0L1398.4 805.4L1398.8 805.1L1399.3 803.9L1399.7 804.0L1400.1 804.1L1400.5 803.2L1400.9 802.5L1401.4 803.2L1401.8 803.9L1402.2 803.9L1402.6 804.9L1403.0 805.4L1403.4 804.7L1403.9 804.6L1404.3 805.7L1404.7 805.7L1405.1 804.5L1405.5 803.8L1406.0 804.1L1406.4 805.2L1406.8 805.4L1407.2 803.9L1407.6 802.3L1408.0 802.3L1408.5 803.6L1408.9 804.4L1409.3 804.4L1409.7 804.2L1410.1 804.1L1410.6 803.8L1411.0 803.9L1411.4 804.4L1411.8 803.8L1412.2 802.9L1412.6 802.7L1413.1 803.1L1413.5 803.9L1413.9 804.1L1414.3 803.3L1414.7 802.7L1415.2 803.3L1415.6 804.4L1416.0 804.4L1416.4 803.4L1416.8 803.5L1417.2 804.3L1417.7 804.2L1418.1 803.4L1418.5 803.7L1418.9 804.2L1419.3 804.2L1419.8 804.3L1420.2 803.0L1420.6 802.2L1421.0 803.3L1421.4 804.0L1421.9 803.8L1422.3 804.0L1422.7 804.1L1423.1 804.4L1423.5 804.9L1423.9 805.1L1424.4 805.6L1424.8 805.9L1425.2 805.4L1425.6 804.6L1426.0 804.3L1426.5 804.2L1426.9 803.7L1427.3 803.8L1427.7 805.1L1428.1 805.4L1428.5 804.2L1429.0 804.4L1429.4 804.7L1429.8 804.4L1430.2 805.6L1430.6 806.0L1431.1 805.1L1431.5 805.6L1431.9 806.0L1432.3 805.3L1432.7 805.2L1433.1 805.5L1433.6 805.5L1434.0 804.8L1434.4 804.3L1434.8 803.7L1435.2 803.1L1435.7 803.7L1436.1 804.6L1436.5 805.0L1436.9 804.8L1437.3 803.9L1437.7 804.3L1438.2 805.2L1438.6 804.8L1439.0 803.6L1439.4 802.3L1439.8 802.4L1440.3 802.5L1440.7 802.5L1441.1 804.1L1441.5 804.2L1441.9 803.0L1442.3 803.5L1442.8 804.2L1443.2 803.5L1443.6 803.4L1444.0 804.2L1444.4 804.8L1444.9 805.2L1445.3 804.9L1445.7 804.2L1446.1 803.6L1446.5 803.7L1446.9 804.0L1447.4 804.2L1447.8 804.3L1448.2 803.9L1448.6 803.6L1449.0 803.6L1449.5 803.2L1449.9 802.8L1450.3 803.5L1450.7 804.1L1451.1 804.2L1451.5 803.5L1452.0 803.2L1452.4 804.1L1452.8 804.8L1453.2 804.1L1453.6 802.7L1454.1 803.2L1454.5 803.7L1454.9 803.0L1455.3 803.1L1455.7 803.5L1456.2 804.0L1456.6 804.3L1457.0 803.9L1457.4 804.2L1457.8 804.7L1458.2 803.8L1458.7 803.9L1459.1 805.2L1459.5 804.3L1459.9 803.1L1460.3 803.4L1460.8 804.2L1461.2 804.8L1461.6 804.9L1462.0 805.1L1462.4 805.6L1462.8 805.0L1463.3 803.9L1463.7 803.4L1464.1 803.8L1464.5 804.3L1464.9 803.7L1465.4 803.4L1465.8 805.0L1466.2 805.4L1466.6 804.7L1467.0 804.1L1467.4 803.8L1467.9 804.2L1468.3 805.0L1468.7 805.2" fill="none" stroke="#cf1038" stroke-width="1.7" stroke-linejoin="round" stroke-linecap="butt"/>
<text x="283.0" y="18.5" text-anchor="middle" font-size="25.6" font-weight="normal" fill="#262626">Q-switched instability</text>
<text x="275.9" y="51.6" text-anchor="middle" font-size="25.6" font-weight="normal" fill="#262626">Roundtrip 42500</text>
<text x="769.4" y="22.3" text-anchor="middle" font-size="25.6" font-weight="normal" fill="#262626">Multiple solitons</text>
<text x="770.4" y="54.7" text-anchor="middle" font-size="25.6" font-weight="normal" fill="#262626">Roundtrip 43900</text>
<text x="1251.0" y="21.9" text-anchor="middle" font-size="25.6" font-weight="normal" fill="#262626">Single soliton</text>
<text x="1259.8" y="54.2" text-anchor="middle" font-size="25.6" font-weight="normal" fill="#262626">Roundtrip 45700</text>
<text transform="translate(73.6 421.0) scale(1 1.04)" text-anchor="middle" font-size="25.5" font-weight="normal" fill="#262626">1545</text>
<text transform="translate(178.1 421.0) scale(1 1.04)" text-anchor="middle" font-size="25.5" font-weight="normal" fill="#262626">1550</text>
<text transform="translate(282.6 421.0) scale(1 1.04)" text-anchor="middle" font-size="25.5" font-weight="normal" fill="#262626">1555</text>
<text transform="translate(387.1 421.0) scale(1 1.04)" text-anchor="middle" font-size="25.5" font-weight="normal" fill="#262626">1560</text>
<text transform="translate(491.6 421.0) scale(1 1.04)" text-anchor="middle" font-size="25.5" font-weight="normal" fill="#262626">1565</text>
<text x="282.3" y="455.0" text-anchor="middle" font-size="25.6" font-weight="normal" fill="#262626">Wavelength, nm</text>
<text transform="translate(559.6 421.0) scale(1 1.04)" text-anchor="middle" font-size="25.5" font-weight="normal" fill="#262626">1545</text>
<text transform="translate(664.3 421.0) scale(1 1.04)" text-anchor="middle" font-size="25.5" font-weight="normal" fill="#262626">1550</text>
<text transform="translate(768.9 421.0) scale(1 1.04)" text-anchor="middle" font-size="25.5" font-weight="normal" fill="#262626">1555</text>
<text transform="translate(873.5 421.0) scale(1 1.04)" text-anchor="middle" font-size="25.5" font-weight="normal" fill="#262626">1560</text>
<text transform="translate(978.1 421.0) scale(1 1.04)" text-anchor="middle" font-size="25.5" font-weight="normal" fill="#262626">1565</text>
<text x="769.1" y="455.0" text-anchor="middle" font-size="25.6" font-weight="normal" fill="#262626">Wavelength, nm</text>
<text transform="translate(1050.8 419.6) scale(1 1.04)" text-anchor="middle" font-size="25.5" font-weight="normal" fill="#262626">1545</text>
<text transform="translate(1155.3 419.6) scale(1 1.04)" text-anchor="middle" font-size="25.5" font-weight="normal" fill="#262626">1550</text>
<text transform="translate(1259.8 419.6) scale(1 1.04)" text-anchor="middle" font-size="25.5" font-weight="normal" fill="#262626">1555</text>
<text transform="translate(1364.2 419.6) scale(1 1.04)" text-anchor="middle" font-size="25.5" font-weight="normal" fill="#262626">1560</text>
<text transform="translate(1468.7 419.6) scale(1 1.04)" text-anchor="middle" font-size="25.5" font-weight="normal" fill="#262626">1565</text>
<text x="1259.3" y="452.5" text-anchor="middle" font-size="25.6" font-weight="normal" fill="#262626">Wavelength, nm</text>
<text transform="translate(67.2 834.2) scale(1 1.04)" text-anchor="middle" font-size="25.5" font-weight="normal" fill="#262626">-100</text>
<text transform="translate(171.7 834.2) scale(1 1.04)" text-anchor="middle" font-size="25.5" font-weight="normal" fill="#262626">-50</text>
<text transform="translate(277.1 834.2) scale(1 1.04)" text-anchor="middle" font-size="25.5" font-weight="normal" fill="#262626">0</text>
<text transform="translate(381.6 834.2) scale(1 1.04)" text-anchor="middle" font-size="25.5" font-weight="normal" fill="#262626">50</text>
<text transform="translate(486.1 834.2) scale(1 1.04)" text-anchor="middle" font-size="25.5" font-weight="normal" fill="#262626">100</text>
<text x="277.2" y="867.2" text-anchor="middle" font-size="25.6" font-weight="normal" fill="#262626">Time, ps</text>
<text transform="translate(560.8 833.6) scale(1 1.04)" text-anchor="middle" font-size="25.5" font-weight="normal" fill="#262626">-100</text>
<text transform="translate(665.4 833.6) scale(1 1.04)" text-anchor="middle" font-size="25.5" font-weight="normal" fill="#262626">-50</text>
<text transform="translate(771.0 833.6) scale(1 1.04)" text-anchor="middle" font-size="25.5" font-weight="normal" fill="#262626">0</text>
<text transform="translate(875.6 833.6) scale(1 1.04)" text-anchor="middle" font-size="25.5" font-weight="normal" fill="#262626">50</text>
<text transform="translate(980.2 833.6) scale(1 1.04)" text-anchor="middle" font-size="25.5" font-weight="normal" fill="#262626">100</text>
<text x="770.8" y="866.3" text-anchor="middle" font-size="25.6" font-weight="normal" fill="#262626">Time, ps</text>
<text transform="translate(1050.5 833.6) scale(1 1.04)" text-anchor="middle" font-size="25.5" font-weight="normal" fill="#262626">-100</text>
<text transform="translate(1155.1 833.6) scale(1 1.04)" text-anchor="middle" font-size="25.5" font-weight="normal" fill="#262626">-50</text>
<text transform="translate(1260.2 833.6) scale(1 1.04)" text-anchor="middle" font-size="25.5" font-weight="normal" fill="#262626">0</text>
<text transform="translate(1364.7 833.6) scale(1 1.04)" text-anchor="middle" font-size="25.5" font-weight="normal" fill="#262626">50</text>
<text transform="translate(1469.3 833.6) scale(1 1.04)" text-anchor="middle" font-size="25.5" font-weight="normal" fill="#262626">100</text>
<text x="1260.3" y="866.3" text-anchor="middle" font-size="25.6" font-weight="normal" fill="#262626">Time, ps</text>
<text transform="translate(66.9 372.4) scale(1 1.04)" text-anchor="end" font-size="25.5" font-weight="normal" fill="#262626">0</text>
<text transform="translate(66.9 318.1) scale(1 1.04)" text-anchor="end" font-size="25.5" font-weight="normal" fill="#262626">0.2</text>
<text transform="translate(66.9 263.9) scale(1 1.04)" text-anchor="end" font-size="25.5" font-weight="normal" fill="#262626">0.4</text>
<text transform="translate(66.9 209.6) scale(1 1.04)" text-anchor="end" font-size="25.5" font-weight="normal" fill="#262626">0.6</text>
<text transform="translate(66.9 155.4) scale(1 1.04)" text-anchor="end" font-size="25.5" font-weight="normal" fill="#262626">0.8</text>
<text transform="translate(66.9 101.1) scale(1 1.04)" text-anchor="end" font-size="25.5" font-weight="normal" fill="#262626">1</text>
<text transform="translate(65.1 813.6) scale(1 1.04)" text-anchor="end" font-size="25.5" font-weight="normal" fill="#262626">0</text>
<text transform="translate(65.1 753.7) scale(1 1.04)" text-anchor="end" font-size="25.5" font-weight="normal" fill="#262626">0.2</text>
<text transform="translate(65.1 693.7) scale(1 1.04)" text-anchor="end" font-size="25.5" font-weight="normal" fill="#262626">0.4</text>
<text transform="translate(65.1 633.8) scale(1 1.04)" text-anchor="end" font-size="25.5" font-weight="normal" fill="#262626">0.6</text>
<text transform="translate(65.1 573.8) scale(1 1.04)" text-anchor="end" font-size="25.5" font-weight="normal" fill="#262626">0.8</text>
<text transform="translate(65.1 513.9) scale(1 1.04)" text-anchor="end" font-size="25.5" font-weight="normal" fill="#262626">1</text>
<text transform="translate(21.1,226.2) rotate(-90)" text-anchor="middle" font-size="25.9" fill="#262626">Intensity, a.u.</text>
<text transform="translate(20.3,637.8) rotate(-90)" text-anchor="middle" font-size="25.9" fill="#262626">Intensity, a.u.</text>
<text x="83.8" y="96.7" text-anchor="start" font-size="33" font-weight="bold" fill="#262626">a</text>
<text x="572.7" y="96.5" text-anchor="start" font-size="33" font-weight="bold" fill="#262626">b</text>
<text x="1064.1" y="96.9" text-anchor="start" font-size="33" font-weight="bold" fill="#262626">c</text>
<text x="79.5" y="509.7" text-anchor="start" font-size="33" font-weight="bold" fill="#262626">d</text>
<text x="573.9" y="509.9" text-anchor="start" font-size="33" font-weight="bold" fill="#262626">e</text>
<text x="1065.3" y="509.3" text-anchor="start" font-size="33" font-weight="bold" fill="#262626">f</text>
<text x="1460.8" y="506.5" text-anchor="end" font-size="23.8" font-weight="bold" fill="#000">Kelly sidebands:</text>
<text x="1460.8" y="538.1" text-anchor="end" font-size="23.6" font-weight="normal" fill="#000">Including</text>
<text x="1460.8" y="568.7" text-anchor="end" font-size="23.6" font-weight="normal" fill="#000">Excluding</text>
<path d="M1302 532.3H1353.6" stroke="#002264" stroke-width="1.5"/>
<path d="M1302 562.7H1353.6" stroke="#cf1038" stroke-width="1.5"/>
</svg>
</body></html>
